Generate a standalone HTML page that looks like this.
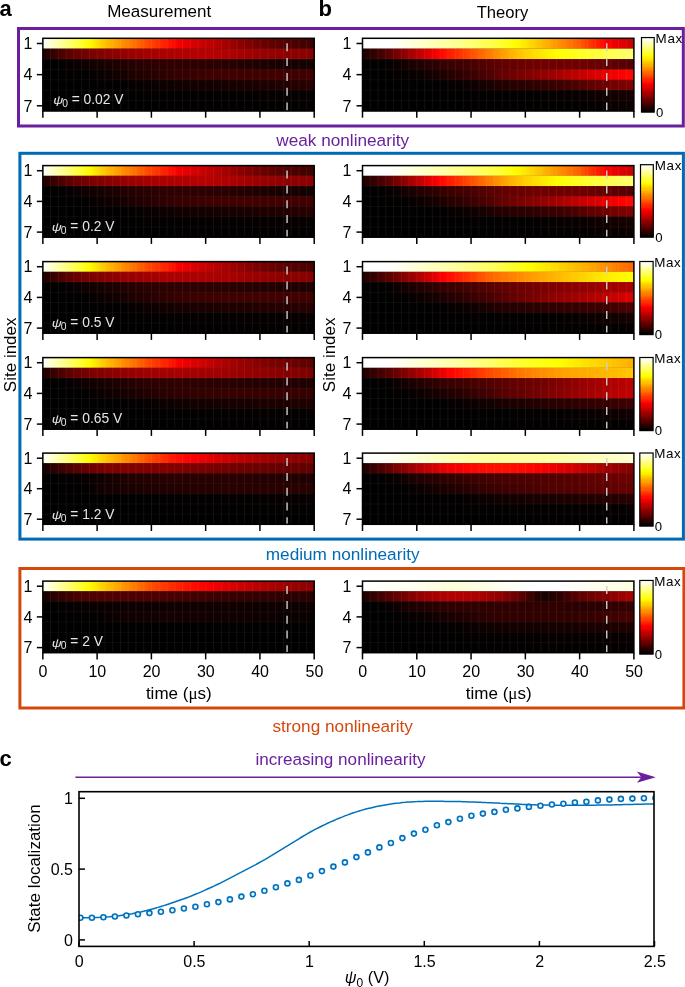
<!DOCTYPE html>
<html lang="en">
<head>
<meta charset="utf-8">
<title>Figure</title>
<style>
html,body{margin:0;padding:0;background:#fff;}
svg{display:block;will-change:transform;}
text{font-family:'Liberation Sans', Arial, Helvetica, sans-serif;}
</style>
</head>
<body>
<svg width="685" height="987" viewBox="0 0 685 987">
<defs>
<linearGradient id="cb" x1="0" x2="0" y1="0" y2="1"><stop offset="0.0000" stop-color="#ffffff"/><stop offset="0.0156" stop-color="#ffffff"/><stop offset="0.0156" stop-color="#ffffef"/><stop offset="0.0312" stop-color="#ffffef"/><stop offset="0.0312" stop-color="#ffffdf"/><stop offset="0.0469" stop-color="#ffffdf"/><stop offset="0.0469" stop-color="#ffffce"/><stop offset="0.0625" stop-color="#ffffce"/><stop offset="0.0625" stop-color="#ffffbe"/><stop offset="0.0781" stop-color="#ffffbe"/><stop offset="0.0781" stop-color="#ffffae"/><stop offset="0.0938" stop-color="#ffffae"/><stop offset="0.0938" stop-color="#ffff9e"/><stop offset="0.1094" stop-color="#ffff9e"/><stop offset="0.1094" stop-color="#ffff8e"/><stop offset="0.1250" stop-color="#ffff8e"/><stop offset="0.1250" stop-color="#ffff7d"/><stop offset="0.1406" stop-color="#ffff7d"/><stop offset="0.1406" stop-color="#ffff6d"/><stop offset="0.1562" stop-color="#ffff6d"/><stop offset="0.1562" stop-color="#ffff5d"/><stop offset="0.1719" stop-color="#ffff5d"/><stop offset="0.1719" stop-color="#ffff4d"/><stop offset="0.1875" stop-color="#ffff4d"/><stop offset="0.1875" stop-color="#ffff3d"/><stop offset="0.2031" stop-color="#ffff3d"/><stop offset="0.2031" stop-color="#ffff2d"/><stop offset="0.2188" stop-color="#ffff2d"/><stop offset="0.2188" stop-color="#ffff1c"/><stop offset="0.2344" stop-color="#ffff1c"/><stop offset="0.2344" stop-color="#ffff0c"/><stop offset="0.2500" stop-color="#ffff0c"/><stop offset="0.2500" stop-color="#fffc00"/><stop offset="0.2656" stop-color="#fffc00"/><stop offset="0.2656" stop-color="#fff200"/><stop offset="0.2812" stop-color="#fff200"/><stop offset="0.2812" stop-color="#ffe700"/><stop offset="0.2969" stop-color="#ffe700"/><stop offset="0.2969" stop-color="#ffdc00"/><stop offset="0.3125" stop-color="#ffdc00"/><stop offset="0.3125" stop-color="#ffd100"/><stop offset="0.3281" stop-color="#ffd100"/><stop offset="0.3281" stop-color="#ffc600"/><stop offset="0.3438" stop-color="#ffc600"/><stop offset="0.3438" stop-color="#ffbc00"/><stop offset="0.3594" stop-color="#ffbc00"/><stop offset="0.3594" stop-color="#ffb100"/><stop offset="0.3750" stop-color="#ffb100"/><stop offset="0.3750" stop-color="#ffa600"/><stop offset="0.3906" stop-color="#ffa600"/><stop offset="0.3906" stop-color="#ff9b00"/><stop offset="0.4062" stop-color="#ff9b00"/><stop offset="0.4062" stop-color="#ff9000"/><stop offset="0.4219" stop-color="#ff9000"/><stop offset="0.4219" stop-color="#ff8600"/><stop offset="0.4375" stop-color="#ff8600"/><stop offset="0.4375" stop-color="#ff7b00"/><stop offset="0.4531" stop-color="#ff7b00"/><stop offset="0.4531" stop-color="#ff7000"/><stop offset="0.4688" stop-color="#ff7000"/><stop offset="0.4688" stop-color="#ff6500"/><stop offset="0.4844" stop-color="#ff6500"/><stop offset="0.4844" stop-color="#ff5a00"/><stop offset="0.5000" stop-color="#ff5a00"/><stop offset="0.5000" stop-color="#ff5000"/><stop offset="0.5156" stop-color="#ff5000"/><stop offset="0.5156" stop-color="#ff4500"/><stop offset="0.5312" stop-color="#ff4500"/><stop offset="0.5312" stop-color="#ff3a00"/><stop offset="0.5469" stop-color="#ff3a00"/><stop offset="0.5469" stop-color="#ff2f00"/><stop offset="0.5625" stop-color="#ff2f00"/><stop offset="0.5625" stop-color="#ff2400"/><stop offset="0.5781" stop-color="#ff2400"/><stop offset="0.5781" stop-color="#ff1a00"/><stop offset="0.5938" stop-color="#ff1a00"/><stop offset="0.5938" stop-color="#ff0f00"/><stop offset="0.6094" stop-color="#ff0f00"/><stop offset="0.6094" stop-color="#ff0400"/><stop offset="0.6250" stop-color="#ff0400"/><stop offset="0.6250" stop-color="#f80000"/><stop offset="0.6406" stop-color="#f80000"/><stop offset="0.6406" stop-color="#ed0000"/><stop offset="0.6562" stop-color="#ed0000"/><stop offset="0.6562" stop-color="#e30000"/><stop offset="0.6719" stop-color="#e30000"/><stop offset="0.6719" stop-color="#d80000"/><stop offset="0.6875" stop-color="#d80000"/><stop offset="0.6875" stop-color="#cd0000"/><stop offset="0.7031" stop-color="#cd0000"/><stop offset="0.7031" stop-color="#c20000"/><stop offset="0.7188" stop-color="#c20000"/><stop offset="0.7188" stop-color="#b70000"/><stop offset="0.7344" stop-color="#b70000"/><stop offset="0.7344" stop-color="#ad0000"/><stop offset="0.7500" stop-color="#ad0000"/><stop offset="0.7500" stop-color="#a20000"/><stop offset="0.7656" stop-color="#a20000"/><stop offset="0.7656" stop-color="#970000"/><stop offset="0.7812" stop-color="#970000"/><stop offset="0.7812" stop-color="#8c0000"/><stop offset="0.7969" stop-color="#8c0000"/><stop offset="0.7969" stop-color="#820000"/><stop offset="0.8125" stop-color="#820000"/><stop offset="0.8125" stop-color="#770000"/><stop offset="0.8281" stop-color="#770000"/><stop offset="0.8281" stop-color="#6c0000"/><stop offset="0.8438" stop-color="#6c0000"/><stop offset="0.8438" stop-color="#610000"/><stop offset="0.8594" stop-color="#610000"/><stop offset="0.8594" stop-color="#560000"/><stop offset="0.8750" stop-color="#560000"/><stop offset="0.8750" stop-color="#4c0000"/><stop offset="0.8906" stop-color="#4c0000"/><stop offset="0.8906" stop-color="#410000"/><stop offset="0.9062" stop-color="#410000"/><stop offset="0.9062" stop-color="#360000"/><stop offset="0.9219" stop-color="#360000"/><stop offset="0.9219" stop-color="#2b0000"/><stop offset="0.9375" stop-color="#2b0000"/><stop offset="0.9375" stop-color="#200000"/><stop offset="0.9531" stop-color="#200000"/><stop offset="0.9531" stop-color="#160000"/><stop offset="0.9688" stop-color="#160000"/><stop offset="0.9688" stop-color="#0b0000"/><stop offset="0.9844" stop-color="#0b0000"/><stop offset="0.9844" stop-color="#000000"/><stop offset="1.0000" stop-color="#000000"/></linearGradient>
<linearGradient id="g1" x1="0" x2="1" y1="0" y2="0"><stop offset="0" stop-color="#ffffff"/><stop offset="0.025" stop-color="#ffffda"/><stop offset="0.05" stop-color="#ffffb6"/><stop offset="0.075" stop-color="#ffff91"/><stop offset="0.1" stop-color="#ffff6b"/><stop offset="0.125" stop-color="#ffff45"/><stop offset="0.15" stop-color="#ffff1f"/><stop offset="0.175" stop-color="#fffa00"/><stop offset="0.2" stop-color="#ffe000"/><stop offset="0.225" stop-color="#ffc700"/><stop offset="0.25" stop-color="#ffb200"/><stop offset="0.275" stop-color="#ff9f00"/><stop offset="0.3" stop-color="#ff8b00"/><stop offset="0.325" stop-color="#ff7900"/><stop offset="0.35" stop-color="#ff6600"/><stop offset="0.375" stop-color="#ff5300"/><stop offset="0.4" stop-color="#ff4100"/><stop offset="0.425" stop-color="#ff3000"/><stop offset="0.45" stop-color="#ff1f00"/><stop offset="0.475" stop-color="#ff0e00"/><stop offset="0.5" stop-color="#f50000"/><stop offset="0.525" stop-color="#e80000"/><stop offset="0.55" stop-color="#db0000"/><stop offset="0.575" stop-color="#cf0000"/><stop offset="0.6" stop-color="#c40000"/><stop offset="0.625" stop-color="#bb0000"/><stop offset="0.65" stop-color="#b10000"/><stop offset="0.675" stop-color="#a50000"/><stop offset="0.7" stop-color="#990000"/><stop offset="0.725" stop-color="#8d0000"/><stop offset="0.75" stop-color="#830000"/><stop offset="0.775" stop-color="#7a0000"/><stop offset="0.8" stop-color="#700000"/><stop offset="0.825" stop-color="#680000"/><stop offset="0.85" stop-color="#600000"/><stop offset="0.875" stop-color="#580000"/><stop offset="0.9" stop-color="#520000"/><stop offset="0.925" stop-color="#4d0000"/><stop offset="0.95" stop-color="#480000"/><stop offset="0.975" stop-color="#430000"/><stop offset="1" stop-color="#3d0000"/></linearGradient>
<linearGradient id="g2" x1="0" x2="1" y1="0" y2="0"><stop offset="0" stop-color="#1b0000"/><stop offset="0.025" stop-color="#2c0000"/><stop offset="0.05" stop-color="#3d0000"/><stop offset="0.075" stop-color="#4e0000"/><stop offset="0.1" stop-color="#5f0000"/><stop offset="0.125" stop-color="#680000"/><stop offset="0.15" stop-color="#700000"/><stop offset="0.175" stop-color="#790000"/><stop offset="0.2" stop-color="#810000"/><stop offset="0.225" stop-color="#860000"/><stop offset="0.25" stop-color="#8b0000"/><stop offset="0.275" stop-color="#900000"/><stop offset="0.3" stop-color="#960000"/><stop offset="0.325" stop-color="#9a0000"/><stop offset="0.35" stop-color="#9e0000"/><stop offset="0.375" stop-color="#a20000"/><stop offset="0.4" stop-color="#a70000"/><stop offset="0.425" stop-color="#a90000"/><stop offset="0.45" stop-color="#ab0000"/><stop offset="0.475" stop-color="#ad0000"/><stop offset="0.5" stop-color="#af0000"/><stop offset="0.525" stop-color="#b10000"/><stop offset="0.55" stop-color="#b30000"/><stop offset="0.575" stop-color="#b50000"/><stop offset="0.6" stop-color="#b80000"/><stop offset="0.625" stop-color="#b50000"/><stop offset="0.65" stop-color="#b30000"/><stop offset="0.675" stop-color="#b00000"/><stop offset="0.7" stop-color="#ad0000"/><stop offset="0.725" stop-color="#a80000"/><stop offset="0.75" stop-color="#a30000"/><stop offset="0.775" stop-color="#9e0000"/><stop offset="0.8" stop-color="#990000"/><stop offset="0.825" stop-color="#960000"/><stop offset="0.85" stop-color="#940000"/><stop offset="0.875" stop-color="#910000"/><stop offset="0.9" stop-color="#8f0000"/><stop offset="0.925" stop-color="#8d0000"/><stop offset="0.95" stop-color="#8b0000"/><stop offset="0.975" stop-color="#8a0000"/><stop offset="1" stop-color="#880000"/></linearGradient>
<linearGradient id="g3" x1="0" x2="1" y1="0" y2="0"><stop offset="0" stop-color="#000000"/><stop offset="0.025" stop-color="#020000"/><stop offset="0.05" stop-color="#030000"/><stop offset="0.075" stop-color="#050000"/><stop offset="0.1" stop-color="#070000"/><stop offset="0.125" stop-color="#0a0000"/><stop offset="0.15" stop-color="#0e0000"/><stop offset="0.175" stop-color="#110000"/><stop offset="0.2" stop-color="#140000"/><stop offset="0.225" stop-color="#180000"/><stop offset="0.25" stop-color="#1b0000"/><stop offset="0.275" stop-color="#1f0000"/><stop offset="0.3" stop-color="#220000"/><stop offset="0.325" stop-color="#250000"/><stop offset="0.35" stop-color="#270000"/><stop offset="0.375" stop-color="#2a0000"/><stop offset="0.4" stop-color="#2c0000"/><stop offset="0.425" stop-color="#2d0000"/><stop offset="0.45" stop-color="#2e0000"/><stop offset="0.475" stop-color="#2f0000"/><stop offset="0.5" stop-color="#300000"/><stop offset="0.525" stop-color="#2f0000"/><stop offset="0.55" stop-color="#2e0000"/><stop offset="0.575" stop-color="#2d0000"/><stop offset="0.6" stop-color="#2c0000"/><stop offset="0.625" stop-color="#2b0000"/><stop offset="0.65" stop-color="#2a0000"/><stop offset="0.675" stop-color="#2a0000"/><stop offset="0.7" stop-color="#290000"/><stop offset="0.725" stop-color="#260000"/><stop offset="0.75" stop-color="#240000"/><stop offset="0.775" stop-color="#210000"/><stop offset="0.8" stop-color="#1f0000"/><stop offset="0.825" stop-color="#1d0000"/><stop offset="0.85" stop-color="#1b0000"/><stop offset="0.875" stop-color="#190000"/><stop offset="0.9" stop-color="#180000"/><stop offset="0.925" stop-color="#170000"/><stop offset="0.95" stop-color="#160000"/><stop offset="0.975" stop-color="#150000"/><stop offset="1" stop-color="#140000"/></linearGradient>
<linearGradient id="g4" x1="0" x2="1" y1="0" y2="0"><stop offset="0" stop-color="#000000"/><stop offset="0.025" stop-color="#010000"/><stop offset="0.05" stop-color="#010000"/><stop offset="0.075" stop-color="#020000"/><stop offset="0.1" stop-color="#020000"/><stop offset="0.125" stop-color="#030000"/><stop offset="0.15" stop-color="#030000"/><stop offset="0.175" stop-color="#050000"/><stop offset="0.2" stop-color="#080000"/><stop offset="0.225" stop-color="#0c0000"/><stop offset="0.25" stop-color="#0f0000"/><stop offset="0.275" stop-color="#140000"/><stop offset="0.3" stop-color="#180000"/><stop offset="0.325" stop-color="#1c0000"/><stop offset="0.35" stop-color="#200000"/><stop offset="0.375" stop-color="#240000"/><stop offset="0.4" stop-color="#280000"/><stop offset="0.425" stop-color="#2b0000"/><stop offset="0.45" stop-color="#2f0000"/><stop offset="0.475" stop-color="#320000"/><stop offset="0.5" stop-color="#350000"/><stop offset="0.525" stop-color="#370000"/><stop offset="0.55" stop-color="#390000"/><stop offset="0.575" stop-color="#3b0000"/><stop offset="0.6" stop-color="#3d0000"/><stop offset="0.625" stop-color="#3e0000"/><stop offset="0.65" stop-color="#3f0000"/><stop offset="0.675" stop-color="#400000"/><stop offset="0.7" stop-color="#410000"/><stop offset="0.725" stop-color="#410000"/><stop offset="0.75" stop-color="#410000"/><stop offset="0.775" stop-color="#410000"/><stop offset="0.8" stop-color="#410000"/><stop offset="0.825" stop-color="#410000"/><stop offset="0.85" stop-color="#410000"/><stop offset="0.875" stop-color="#410000"/><stop offset="0.9" stop-color="#410000"/><stop offset="0.925" stop-color="#410000"/><stop offset="0.95" stop-color="#410000"/><stop offset="0.975" stop-color="#410000"/><stop offset="1" stop-color="#410000"/></linearGradient>
<linearGradient id="g5" x1="0" x2="1" y1="0" y2="0"><stop offset="0" stop-color="#000000"/><stop offset="0.025" stop-color="#000000"/><stop offset="0.05" stop-color="#010000"/><stop offset="0.075" stop-color="#010000"/><stop offset="0.1" stop-color="#010000"/><stop offset="0.125" stop-color="#010000"/><stop offset="0.15" stop-color="#020000"/><stop offset="0.175" stop-color="#020000"/><stop offset="0.2" stop-color="#020000"/><stop offset="0.225" stop-color="#030000"/><stop offset="0.25" stop-color="#030000"/><stop offset="0.275" stop-color="#030000"/><stop offset="0.3" stop-color="#030000"/><stop offset="0.325" stop-color="#050000"/><stop offset="0.35" stop-color="#070000"/><stop offset="0.375" stop-color="#080000"/><stop offset="0.4" stop-color="#0a0000"/><stop offset="0.425" stop-color="#0c0000"/><stop offset="0.45" stop-color="#0e0000"/><stop offset="0.475" stop-color="#0f0000"/><stop offset="0.5" stop-color="#110000"/><stop offset="0.525" stop-color="#120000"/><stop offset="0.55" stop-color="#130000"/><stop offset="0.575" stop-color="#140000"/><stop offset="0.6" stop-color="#140000"/><stop offset="0.625" stop-color="#150000"/><stop offset="0.65" stop-color="#160000"/><stop offset="0.675" stop-color="#170000"/><stop offset="0.7" stop-color="#180000"/><stop offset="0.725" stop-color="#190000"/><stop offset="0.75" stop-color="#1a0000"/><stop offset="0.775" stop-color="#1b0000"/><stop offset="0.8" stop-color="#1d0000"/><stop offset="0.825" stop-color="#1e0000"/><stop offset="0.85" stop-color="#1f0000"/><stop offset="0.875" stop-color="#210000"/><stop offset="0.9" stop-color="#220000"/><stop offset="0.925" stop-color="#240000"/><stop offset="0.95" stop-color="#260000"/><stop offset="0.975" stop-color="#270000"/><stop offset="1" stop-color="#290000"/></linearGradient>
<linearGradient id="g6" x1="0" x2="1" y1="0" y2="0"><stop offset="0" stop-color="#000000"/><stop offset="0.025" stop-color="#000000"/><stop offset="0.05" stop-color="#000000"/><stop offset="0.075" stop-color="#010000"/><stop offset="0.1" stop-color="#010000"/><stop offset="0.125" stop-color="#010000"/><stop offset="0.15" stop-color="#010000"/><stop offset="0.175" stop-color="#010000"/><stop offset="0.2" stop-color="#010000"/><stop offset="0.225" stop-color="#020000"/><stop offset="0.25" stop-color="#020000"/><stop offset="0.275" stop-color="#020000"/><stop offset="0.3" stop-color="#020000"/><stop offset="0.325" stop-color="#020000"/><stop offset="0.35" stop-color="#020000"/><stop offset="0.375" stop-color="#030000"/><stop offset="0.4" stop-color="#030000"/><stop offset="0.425" stop-color="#030000"/><stop offset="0.45" stop-color="#030000"/><stop offset="0.475" stop-color="#030000"/><stop offset="0.5" stop-color="#030000"/><stop offset="0.525" stop-color="#040000"/><stop offset="0.55" stop-color="#040000"/><stop offset="0.575" stop-color="#040000"/><stop offset="0.6" stop-color="#040000"/><stop offset="0.625" stop-color="#040000"/><stop offset="0.65" stop-color="#040000"/><stop offset="0.675" stop-color="#050000"/><stop offset="0.7" stop-color="#050000"/><stop offset="0.725" stop-color="#050000"/><stop offset="0.75" stop-color="#050000"/><stop offset="0.775" stop-color="#050000"/><stop offset="0.8" stop-color="#050000"/><stop offset="0.825" stop-color="#060000"/><stop offset="0.85" stop-color="#060000"/><stop offset="0.875" stop-color="#060000"/><stop offset="0.9" stop-color="#060000"/><stop offset="0.925" stop-color="#060000"/><stop offset="0.95" stop-color="#060000"/><stop offset="0.975" stop-color="#070000"/><stop offset="1" stop-color="#070000"/></linearGradient>
<linearGradient id="g7" x1="0" x2="1" y1="0" y2="0"><stop offset="0" stop-color="#000000"/><stop offset="0.025" stop-color="#000000"/><stop offset="0.05" stop-color="#000000"/><stop offset="0.075" stop-color="#000000"/><stop offset="0.1" stop-color="#000000"/><stop offset="0.125" stop-color="#000000"/><stop offset="0.15" stop-color="#010000"/><stop offset="0.175" stop-color="#010000"/><stop offset="0.2" stop-color="#010000"/><stop offset="0.225" stop-color="#010000"/><stop offset="0.25" stop-color="#010000"/><stop offset="0.275" stop-color="#010000"/><stop offset="0.3" stop-color="#010000"/><stop offset="0.325" stop-color="#010000"/><stop offset="0.35" stop-color="#010000"/><stop offset="0.375" stop-color="#010000"/><stop offset="0.4" stop-color="#010000"/><stop offset="0.425" stop-color="#010000"/><stop offset="0.45" stop-color="#020000"/><stop offset="0.475" stop-color="#020000"/><stop offset="0.5" stop-color="#020000"/><stop offset="0.525" stop-color="#020000"/><stop offset="0.55" stop-color="#020000"/><stop offset="0.575" stop-color="#020000"/><stop offset="0.6" stop-color="#020000"/><stop offset="0.625" stop-color="#020000"/><stop offset="0.65" stop-color="#020000"/><stop offset="0.675" stop-color="#020000"/><stop offset="0.7" stop-color="#020000"/><stop offset="0.725" stop-color="#020000"/><stop offset="0.75" stop-color="#030000"/><stop offset="0.775" stop-color="#030000"/><stop offset="0.8" stop-color="#030000"/><stop offset="0.825" stop-color="#030000"/><stop offset="0.85" stop-color="#030000"/><stop offset="0.875" stop-color="#030000"/><stop offset="0.9" stop-color="#030000"/><stop offset="0.925" stop-color="#030000"/><stop offset="0.95" stop-color="#030000"/><stop offset="0.975" stop-color="#030000"/><stop offset="1" stop-color="#030000"/></linearGradient>
<linearGradient id="g8" x1="0" x2="1" y1="0" y2="0"><stop offset="0" stop-color="#ffffff"/><stop offset="0.025" stop-color="#ffffff"/><stop offset="0.05" stop-color="#ffffff"/><stop offset="0.075" stop-color="#ffffff"/><stop offset="0.1" stop-color="#ffffff"/><stop offset="0.125" stop-color="#fffff4"/><stop offset="0.15" stop-color="#ffffea"/><stop offset="0.175" stop-color="#ffffdf"/><stop offset="0.2" stop-color="#ffffd4"/><stop offset="0.225" stop-color="#ffffc8"/><stop offset="0.25" stop-color="#ffffbd"/><stop offset="0.275" stop-color="#ffffb2"/><stop offset="0.3" stop-color="#ffffa7"/><stop offset="0.325" stop-color="#ffff9c"/><stop offset="0.35" stop-color="#ffff8f"/><stop offset="0.375" stop-color="#ffff82"/><stop offset="0.4" stop-color="#ffff75"/><stop offset="0.425" stop-color="#ffff66"/><stop offset="0.45" stop-color="#ffff57"/><stop offset="0.475" stop-color="#ffff47"/><stop offset="0.5" stop-color="#ffff38"/><stop offset="0.525" stop-color="#ffff22"/><stop offset="0.55" stop-color="#ffff0b"/><stop offset="0.575" stop-color="#fff800"/><stop offset="0.6" stop-color="#ffe600"/><stop offset="0.625" stop-color="#ffd500"/><stop offset="0.65" stop-color="#ffc400"/><stop offset="0.675" stop-color="#ffb200"/><stop offset="0.7" stop-color="#ffa000"/><stop offset="0.725" stop-color="#ff8f00"/><stop offset="0.75" stop-color="#ff7f00"/><stop offset="0.775" stop-color="#ff6f00"/><stop offset="0.8" stop-color="#ff5d00"/><stop offset="0.825" stop-color="#ff4400"/><stop offset="0.85" stop-color="#ff2c00"/><stop offset="0.875" stop-color="#ff1500"/><stop offset="0.9" stop-color="#ff0100"/><stop offset="0.925" stop-color="#f00000"/><stop offset="0.95" stop-color="#e30000"/><stop offset="0.975" stop-color="#d70000"/><stop offset="1" stop-color="#cc0000"/></linearGradient>
<linearGradient id="g9" x1="0" x2="1" y1="0" y2="0"><stop offset="0" stop-color="#1b0000"/><stop offset="0.025" stop-color="#290000"/><stop offset="0.05" stop-color="#380000"/><stop offset="0.075" stop-color="#4a0000"/><stop offset="0.1" stop-color="#5f0000"/><stop offset="0.125" stop-color="#740000"/><stop offset="0.15" stop-color="#8a0000"/><stop offset="0.175" stop-color="#a10000"/><stop offset="0.2" stop-color="#b80000"/><stop offset="0.225" stop-color="#ce0000"/><stop offset="0.25" stop-color="#e40000"/><stop offset="0.275" stop-color="#fb0000"/><stop offset="0.3" stop-color="#ff0d00"/><stop offset="0.325" stop-color="#ff1d00"/><stop offset="0.35" stop-color="#ff2d00"/><stop offset="0.375" stop-color="#ff3d00"/><stop offset="0.4" stop-color="#ff4e00"/><stop offset="0.425" stop-color="#ff5f00"/><stop offset="0.45" stop-color="#ff7000"/><stop offset="0.475" stop-color="#ff8100"/><stop offset="0.5" stop-color="#ff9200"/><stop offset="0.525" stop-color="#ffa300"/><stop offset="0.55" stop-color="#ffb300"/><stop offset="0.575" stop-color="#ffc100"/><stop offset="0.6" stop-color="#ffcf00"/><stop offset="0.625" stop-color="#ffd900"/><stop offset="0.65" stop-color="#ffe300"/><stop offset="0.675" stop-color="#ffed00"/><stop offset="0.7" stop-color="#fff700"/><stop offset="0.725" stop-color="#ffff02"/><stop offset="0.75" stop-color="#ffff0d"/><stop offset="0.775" stop-color="#ffff17"/><stop offset="0.8" stop-color="#ffff22"/><stop offset="0.825" stop-color="#ffff2d"/><stop offset="0.85" stop-color="#ffff37"/><stop offset="0.875" stop-color="#ffff40"/><stop offset="0.9" stop-color="#ffff4a"/><stop offset="0.925" stop-color="#ffff54"/><stop offset="0.95" stop-color="#ffff5d"/><stop offset="0.975" stop-color="#ffff67"/><stop offset="1" stop-color="#ffff70"/></linearGradient>
<linearGradient id="g10" x1="0" x2="1" y1="0" y2="0"><stop offset="0" stop-color="#000000"/><stop offset="0.025" stop-color="#020000"/><stop offset="0.05" stop-color="#030000"/><stop offset="0.075" stop-color="#050000"/><stop offset="0.1" stop-color="#070000"/><stop offset="0.125" stop-color="#0d0000"/><stop offset="0.15" stop-color="#130000"/><stop offset="0.175" stop-color="#190000"/><stop offset="0.2" stop-color="#1f0000"/><stop offset="0.225" stop-color="#250000"/><stop offset="0.25" stop-color="#2a0000"/><stop offset="0.275" stop-color="#300000"/><stop offset="0.3" stop-color="#360000"/><stop offset="0.325" stop-color="#3b0000"/><stop offset="0.35" stop-color="#3f0000"/><stop offset="0.375" stop-color="#430000"/><stop offset="0.4" stop-color="#470000"/><stop offset="0.425" stop-color="#4d0000"/><stop offset="0.45" stop-color="#530000"/><stop offset="0.475" stop-color="#590000"/><stop offset="0.5" stop-color="#5f0000"/><stop offset="0.525" stop-color="#620000"/><stop offset="0.55" stop-color="#650000"/><stop offset="0.575" stop-color="#680000"/><stop offset="0.6" stop-color="#6b0000"/><stop offset="0.625" stop-color="#6e0000"/><stop offset="0.65" stop-color="#700000"/><stop offset="0.675" stop-color="#700000"/><stop offset="0.7" stop-color="#700000"/><stop offset="0.725" stop-color="#700000"/><stop offset="0.75" stop-color="#700000"/><stop offset="0.775" stop-color="#700000"/><stop offset="0.8" stop-color="#700000"/><stop offset="0.825" stop-color="#6d0000"/><stop offset="0.85" stop-color="#690000"/><stop offset="0.875" stop-color="#660000"/><stop offset="0.9" stop-color="#630000"/><stop offset="0.925" stop-color="#5e0000"/><stop offset="0.95" stop-color="#5a0000"/><stop offset="0.975" stop-color="#560000"/><stop offset="1" stop-color="#520000"/></linearGradient>
<linearGradient id="g11" x1="0" x2="1" y1="0" y2="0"><stop offset="0" stop-color="#000000"/><stop offset="0.025" stop-color="#010000"/><stop offset="0.05" stop-color="#010000"/><stop offset="0.075" stop-color="#020000"/><stop offset="0.1" stop-color="#020000"/><stop offset="0.125" stop-color="#030000"/><stop offset="0.15" stop-color="#030000"/><stop offset="0.175" stop-color="#060000"/><stop offset="0.2" stop-color="#0a0000"/><stop offset="0.225" stop-color="#0e0000"/><stop offset="0.25" stop-color="#140000"/><stop offset="0.275" stop-color="#1a0000"/><stop offset="0.3" stop-color="#200000"/><stop offset="0.325" stop-color="#270000"/><stop offset="0.35" stop-color="#2d0000"/><stop offset="0.375" stop-color="#340000"/><stop offset="0.4" stop-color="#3b0000"/><stop offset="0.425" stop-color="#420000"/><stop offset="0.45" stop-color="#490000"/><stop offset="0.475" stop-color="#500000"/><stop offset="0.5" stop-color="#5f0000"/><stop offset="0.525" stop-color="#670000"/><stop offset="0.55" stop-color="#6e0000"/><stop offset="0.575" stop-color="#760000"/><stop offset="0.6" stop-color="#7e0000"/><stop offset="0.625" stop-color="#850000"/><stop offset="0.65" stop-color="#8d0000"/><stop offset="0.675" stop-color="#950000"/><stop offset="0.7" stop-color="#9c0000"/><stop offset="0.725" stop-color="#a60000"/><stop offset="0.75" stop-color="#b00000"/><stop offset="0.775" stop-color="#ba0000"/><stop offset="0.8" stop-color="#c30000"/><stop offset="0.825" stop-color="#cd0000"/><stop offset="0.85" stop-color="#d60000"/><stop offset="0.875" stop-color="#e00000"/><stop offset="0.9" stop-color="#e90000"/><stop offset="0.925" stop-color="#f20000"/><stop offset="0.95" stop-color="#fb0000"/><stop offset="0.975" stop-color="#ff0400"/><stop offset="1" stop-color="#ff0a00"/></linearGradient>
<linearGradient id="g12" x1="0" x2="1" y1="0" y2="0"><stop offset="0" stop-color="#000000"/><stop offset="0.025" stop-color="#000000"/><stop offset="0.05" stop-color="#010000"/><stop offset="0.075" stop-color="#010000"/><stop offset="0.1" stop-color="#010000"/><stop offset="0.125" stop-color="#010000"/><stop offset="0.15" stop-color="#020000"/><stop offset="0.175" stop-color="#020000"/><stop offset="0.2" stop-color="#020000"/><stop offset="0.225" stop-color="#030000"/><stop offset="0.25" stop-color="#030000"/><stop offset="0.275" stop-color="#030000"/><stop offset="0.3" stop-color="#030000"/><stop offset="0.325" stop-color="#060000"/><stop offset="0.35" stop-color="#080000"/><stop offset="0.375" stop-color="#0b0000"/><stop offset="0.4" stop-color="#0e0000"/><stop offset="0.425" stop-color="#130000"/><stop offset="0.45" stop-color="#180000"/><stop offset="0.475" stop-color="#1d0000"/><stop offset="0.5" stop-color="#220000"/><stop offset="0.525" stop-color="#240000"/><stop offset="0.55" stop-color="#270000"/><stop offset="0.575" stop-color="#290000"/><stop offset="0.6" stop-color="#2c0000"/><stop offset="0.625" stop-color="#2e0000"/><stop offset="0.65" stop-color="#310000"/><stop offset="0.675" stop-color="#340000"/><stop offset="0.7" stop-color="#380000"/><stop offset="0.725" stop-color="#3b0000"/><stop offset="0.75" stop-color="#400000"/><stop offset="0.775" stop-color="#480000"/><stop offset="0.8" stop-color="#500000"/><stop offset="0.825" stop-color="#580000"/><stop offset="0.85" stop-color="#600000"/><stop offset="0.875" stop-color="#680000"/><stop offset="0.9" stop-color="#700000"/><stop offset="0.925" stop-color="#740000"/><stop offset="0.95" stop-color="#790000"/><stop offset="0.975" stop-color="#7d0000"/><stop offset="1" stop-color="#810000"/></linearGradient>
<linearGradient id="g13" x1="0" x2="1" y1="0" y2="0"><stop offset="0" stop-color="#000000"/><stop offset="0.025" stop-color="#000000"/><stop offset="0.05" stop-color="#000000"/><stop offset="0.075" stop-color="#000000"/><stop offset="0.1" stop-color="#010000"/><stop offset="0.125" stop-color="#010000"/><stop offset="0.15" stop-color="#010000"/><stop offset="0.175" stop-color="#010000"/><stop offset="0.2" stop-color="#010000"/><stop offset="0.225" stop-color="#010000"/><stop offset="0.25" stop-color="#010000"/><stop offset="0.275" stop-color="#020000"/><stop offset="0.3" stop-color="#020000"/><stop offset="0.325" stop-color="#020000"/><stop offset="0.35" stop-color="#020000"/><stop offset="0.375" stop-color="#020000"/><stop offset="0.4" stop-color="#020000"/><stop offset="0.425" stop-color="#020000"/><stop offset="0.45" stop-color="#030000"/><stop offset="0.475" stop-color="#030000"/><stop offset="0.5" stop-color="#030000"/><stop offset="0.525" stop-color="#030000"/><stop offset="0.55" stop-color="#030000"/><stop offset="0.575" stop-color="#030000"/><stop offset="0.6" stop-color="#030000"/><stop offset="0.625" stop-color="#040000"/><stop offset="0.65" stop-color="#050000"/><stop offset="0.675" stop-color="#060000"/><stop offset="0.7" stop-color="#070000"/><stop offset="0.725" stop-color="#080000"/><stop offset="0.75" stop-color="#080000"/><stop offset="0.775" stop-color="#090000"/><stop offset="0.8" stop-color="#0a0000"/><stop offset="0.825" stop-color="#0c0000"/><stop offset="0.85" stop-color="#0e0000"/><stop offset="0.875" stop-color="#0f0000"/><stop offset="0.9" stop-color="#110000"/><stop offset="0.925" stop-color="#130000"/><stop offset="0.95" stop-color="#140000"/><stop offset="0.975" stop-color="#160000"/><stop offset="1" stop-color="#180000"/></linearGradient>
<linearGradient id="g14" x1="0" x2="1" y1="0" y2="0"><stop offset="0" stop-color="#000000"/><stop offset="0.025" stop-color="#000000"/><stop offset="0.05" stop-color="#000000"/><stop offset="0.075" stop-color="#000000"/><stop offset="0.1" stop-color="#000000"/><stop offset="0.125" stop-color="#010000"/><stop offset="0.15" stop-color="#010000"/><stop offset="0.175" stop-color="#010000"/><stop offset="0.2" stop-color="#010000"/><stop offset="0.225" stop-color="#010000"/><stop offset="0.25" stop-color="#010000"/><stop offset="0.275" stop-color="#010000"/><stop offset="0.3" stop-color="#010000"/><stop offset="0.325" stop-color="#010000"/><stop offset="0.35" stop-color="#010000"/><stop offset="0.375" stop-color="#020000"/><stop offset="0.4" stop-color="#020000"/><stop offset="0.425" stop-color="#020000"/><stop offset="0.45" stop-color="#020000"/><stop offset="0.475" stop-color="#020000"/><stop offset="0.5" stop-color="#020000"/><stop offset="0.525" stop-color="#020000"/><stop offset="0.55" stop-color="#020000"/><stop offset="0.575" stop-color="#020000"/><stop offset="0.6" stop-color="#030000"/><stop offset="0.625" stop-color="#030000"/><stop offset="0.65" stop-color="#030000"/><stop offset="0.675" stop-color="#030000"/><stop offset="0.7" stop-color="#030000"/><stop offset="0.725" stop-color="#030000"/><stop offset="0.75" stop-color="#030000"/><stop offset="0.775" stop-color="#030000"/><stop offset="0.8" stop-color="#030000"/><stop offset="0.825" stop-color="#050000"/><stop offset="0.85" stop-color="#060000"/><stop offset="0.875" stop-color="#070000"/><stop offset="0.9" stop-color="#080000"/><stop offset="0.925" stop-color="#0a0000"/><stop offset="0.95" stop-color="#0b0000"/><stop offset="0.975" stop-color="#0c0000"/><stop offset="1" stop-color="#0e0000"/></linearGradient>
<linearGradient id="g15" x1="0" x2="1" y1="0" y2="0"><stop offset="0" stop-color="#ffffff"/><stop offset="0.025" stop-color="#ffffda"/><stop offset="0.05" stop-color="#ffffb6"/><stop offset="0.075" stop-color="#ffff91"/><stop offset="0.1" stop-color="#ffff6b"/><stop offset="0.125" stop-color="#ffff45"/><stop offset="0.15" stop-color="#ffff1f"/><stop offset="0.175" stop-color="#fffa00"/><stop offset="0.2" stop-color="#ffe000"/><stop offset="0.225" stop-color="#ffc700"/><stop offset="0.25" stop-color="#ffb200"/><stop offset="0.275" stop-color="#ff9f00"/><stop offset="0.3" stop-color="#ff8b00"/><stop offset="0.325" stop-color="#ff7900"/><stop offset="0.35" stop-color="#ff6600"/><stop offset="0.375" stop-color="#ff5300"/><stop offset="0.4" stop-color="#ff4100"/><stop offset="0.425" stop-color="#ff3000"/><stop offset="0.45" stop-color="#ff1f00"/><stop offset="0.475" stop-color="#ff0e00"/><stop offset="0.5" stop-color="#f50000"/><stop offset="0.525" stop-color="#e80000"/><stop offset="0.55" stop-color="#db0000"/><stop offset="0.575" stop-color="#cf0000"/><stop offset="0.6" stop-color="#c40000"/><stop offset="0.625" stop-color="#bb0000"/><stop offset="0.65" stop-color="#b10000"/><stop offset="0.675" stop-color="#a50000"/><stop offset="0.7" stop-color="#990000"/><stop offset="0.725" stop-color="#8d0000"/><stop offset="0.75" stop-color="#830000"/><stop offset="0.775" stop-color="#7a0000"/><stop offset="0.8" stop-color="#700000"/><stop offset="0.825" stop-color="#680000"/><stop offset="0.85" stop-color="#600000"/><stop offset="0.875" stop-color="#580000"/><stop offset="0.9" stop-color="#520000"/><stop offset="0.925" stop-color="#4d0000"/><stop offset="0.95" stop-color="#480000"/><stop offset="0.975" stop-color="#430000"/><stop offset="1" stop-color="#3d0000"/></linearGradient>
<linearGradient id="g16" x1="0" x2="1" y1="0" y2="0"><stop offset="0" stop-color="#1b0000"/><stop offset="0.025" stop-color="#2c0000"/><stop offset="0.05" stop-color="#3d0000"/><stop offset="0.075" stop-color="#4e0000"/><stop offset="0.1" stop-color="#5f0000"/><stop offset="0.125" stop-color="#680000"/><stop offset="0.15" stop-color="#700000"/><stop offset="0.175" stop-color="#790000"/><stop offset="0.2" stop-color="#810000"/><stop offset="0.225" stop-color="#860000"/><stop offset="0.25" stop-color="#8b0000"/><stop offset="0.275" stop-color="#900000"/><stop offset="0.3" stop-color="#960000"/><stop offset="0.325" stop-color="#9a0000"/><stop offset="0.35" stop-color="#9e0000"/><stop offset="0.375" stop-color="#a20000"/><stop offset="0.4" stop-color="#a70000"/><stop offset="0.425" stop-color="#a90000"/><stop offset="0.45" stop-color="#ab0000"/><stop offset="0.475" stop-color="#ad0000"/><stop offset="0.5" stop-color="#af0000"/><stop offset="0.525" stop-color="#b10000"/><stop offset="0.55" stop-color="#b30000"/><stop offset="0.575" stop-color="#b50000"/><stop offset="0.6" stop-color="#b80000"/><stop offset="0.625" stop-color="#b50000"/><stop offset="0.65" stop-color="#b30000"/><stop offset="0.675" stop-color="#b00000"/><stop offset="0.7" stop-color="#ad0000"/><stop offset="0.725" stop-color="#a80000"/><stop offset="0.75" stop-color="#a30000"/><stop offset="0.775" stop-color="#9e0000"/><stop offset="0.8" stop-color="#990000"/><stop offset="0.825" stop-color="#960000"/><stop offset="0.85" stop-color="#940000"/><stop offset="0.875" stop-color="#910000"/><stop offset="0.9" stop-color="#8f0000"/><stop offset="0.925" stop-color="#8d0000"/><stop offset="0.95" stop-color="#8b0000"/><stop offset="0.975" stop-color="#8a0000"/><stop offset="1" stop-color="#880000"/></linearGradient>
<linearGradient id="g17" x1="0" x2="1" y1="0" y2="0"><stop offset="0" stop-color="#000000"/><stop offset="0.025" stop-color="#020000"/><stop offset="0.05" stop-color="#030000"/><stop offset="0.075" stop-color="#050000"/><stop offset="0.1" stop-color="#070000"/><stop offset="0.125" stop-color="#0a0000"/><stop offset="0.15" stop-color="#0e0000"/><stop offset="0.175" stop-color="#110000"/><stop offset="0.2" stop-color="#140000"/><stop offset="0.225" stop-color="#180000"/><stop offset="0.25" stop-color="#1b0000"/><stop offset="0.275" stop-color="#1f0000"/><stop offset="0.3" stop-color="#220000"/><stop offset="0.325" stop-color="#250000"/><stop offset="0.35" stop-color="#270000"/><stop offset="0.375" stop-color="#2a0000"/><stop offset="0.4" stop-color="#2c0000"/><stop offset="0.425" stop-color="#2d0000"/><stop offset="0.45" stop-color="#2e0000"/><stop offset="0.475" stop-color="#2f0000"/><stop offset="0.5" stop-color="#300000"/><stop offset="0.525" stop-color="#2f0000"/><stop offset="0.55" stop-color="#2e0000"/><stop offset="0.575" stop-color="#2d0000"/><stop offset="0.6" stop-color="#2c0000"/><stop offset="0.625" stop-color="#2b0000"/><stop offset="0.65" stop-color="#2a0000"/><stop offset="0.675" stop-color="#2a0000"/><stop offset="0.7" stop-color="#290000"/><stop offset="0.725" stop-color="#260000"/><stop offset="0.75" stop-color="#240000"/><stop offset="0.775" stop-color="#210000"/><stop offset="0.8" stop-color="#1f0000"/><stop offset="0.825" stop-color="#1d0000"/><stop offset="0.85" stop-color="#1b0000"/><stop offset="0.875" stop-color="#190000"/><stop offset="0.9" stop-color="#180000"/><stop offset="0.925" stop-color="#170000"/><stop offset="0.95" stop-color="#160000"/><stop offset="0.975" stop-color="#150000"/><stop offset="1" stop-color="#140000"/></linearGradient>
<linearGradient id="g18" x1="0" x2="1" y1="0" y2="0"><stop offset="0" stop-color="#000000"/><stop offset="0.025" stop-color="#010000"/><stop offset="0.05" stop-color="#010000"/><stop offset="0.075" stop-color="#020000"/><stop offset="0.1" stop-color="#020000"/><stop offset="0.125" stop-color="#030000"/><stop offset="0.15" stop-color="#030000"/><stop offset="0.175" stop-color="#050000"/><stop offset="0.2" stop-color="#080000"/><stop offset="0.225" stop-color="#0c0000"/><stop offset="0.25" stop-color="#0f0000"/><stop offset="0.275" stop-color="#140000"/><stop offset="0.3" stop-color="#180000"/><stop offset="0.325" stop-color="#1c0000"/><stop offset="0.35" stop-color="#200000"/><stop offset="0.375" stop-color="#240000"/><stop offset="0.4" stop-color="#280000"/><stop offset="0.425" stop-color="#2b0000"/><stop offset="0.45" stop-color="#2f0000"/><stop offset="0.475" stop-color="#320000"/><stop offset="0.5" stop-color="#350000"/><stop offset="0.525" stop-color="#370000"/><stop offset="0.55" stop-color="#390000"/><stop offset="0.575" stop-color="#3b0000"/><stop offset="0.6" stop-color="#3d0000"/><stop offset="0.625" stop-color="#3e0000"/><stop offset="0.65" stop-color="#3f0000"/><stop offset="0.675" stop-color="#400000"/><stop offset="0.7" stop-color="#410000"/><stop offset="0.725" stop-color="#410000"/><stop offset="0.75" stop-color="#410000"/><stop offset="0.775" stop-color="#410000"/><stop offset="0.8" stop-color="#410000"/><stop offset="0.825" stop-color="#410000"/><stop offset="0.85" stop-color="#410000"/><stop offset="0.875" stop-color="#410000"/><stop offset="0.9" stop-color="#410000"/><stop offset="0.925" stop-color="#410000"/><stop offset="0.95" stop-color="#410000"/><stop offset="0.975" stop-color="#410000"/><stop offset="1" stop-color="#410000"/></linearGradient>
<linearGradient id="g19" x1="0" x2="1" y1="0" y2="0"><stop offset="0" stop-color="#000000"/><stop offset="0.025" stop-color="#000000"/><stop offset="0.05" stop-color="#010000"/><stop offset="0.075" stop-color="#010000"/><stop offset="0.1" stop-color="#010000"/><stop offset="0.125" stop-color="#010000"/><stop offset="0.15" stop-color="#020000"/><stop offset="0.175" stop-color="#020000"/><stop offset="0.2" stop-color="#020000"/><stop offset="0.225" stop-color="#030000"/><stop offset="0.25" stop-color="#030000"/><stop offset="0.275" stop-color="#030000"/><stop offset="0.3" stop-color="#030000"/><stop offset="0.325" stop-color="#050000"/><stop offset="0.35" stop-color="#070000"/><stop offset="0.375" stop-color="#080000"/><stop offset="0.4" stop-color="#0a0000"/><stop offset="0.425" stop-color="#0c0000"/><stop offset="0.45" stop-color="#0e0000"/><stop offset="0.475" stop-color="#0f0000"/><stop offset="0.5" stop-color="#110000"/><stop offset="0.525" stop-color="#120000"/><stop offset="0.55" stop-color="#130000"/><stop offset="0.575" stop-color="#140000"/><stop offset="0.6" stop-color="#140000"/><stop offset="0.625" stop-color="#150000"/><stop offset="0.65" stop-color="#160000"/><stop offset="0.675" stop-color="#170000"/><stop offset="0.7" stop-color="#180000"/><stop offset="0.725" stop-color="#190000"/><stop offset="0.75" stop-color="#1a0000"/><stop offset="0.775" stop-color="#1b0000"/><stop offset="0.8" stop-color="#1d0000"/><stop offset="0.825" stop-color="#1e0000"/><stop offset="0.85" stop-color="#1f0000"/><stop offset="0.875" stop-color="#210000"/><stop offset="0.9" stop-color="#220000"/><stop offset="0.925" stop-color="#240000"/><stop offset="0.95" stop-color="#260000"/><stop offset="0.975" stop-color="#270000"/><stop offset="1" stop-color="#290000"/></linearGradient>
<linearGradient id="g20" x1="0" x2="1" y1="0" y2="0"><stop offset="0" stop-color="#000000"/><stop offset="0.025" stop-color="#000000"/><stop offset="0.05" stop-color="#000000"/><stop offset="0.075" stop-color="#010000"/><stop offset="0.1" stop-color="#010000"/><stop offset="0.125" stop-color="#010000"/><stop offset="0.15" stop-color="#010000"/><stop offset="0.175" stop-color="#010000"/><stop offset="0.2" stop-color="#010000"/><stop offset="0.225" stop-color="#020000"/><stop offset="0.25" stop-color="#020000"/><stop offset="0.275" stop-color="#020000"/><stop offset="0.3" stop-color="#020000"/><stop offset="0.325" stop-color="#020000"/><stop offset="0.35" stop-color="#020000"/><stop offset="0.375" stop-color="#030000"/><stop offset="0.4" stop-color="#030000"/><stop offset="0.425" stop-color="#030000"/><stop offset="0.45" stop-color="#030000"/><stop offset="0.475" stop-color="#030000"/><stop offset="0.5" stop-color="#030000"/><stop offset="0.525" stop-color="#040000"/><stop offset="0.55" stop-color="#040000"/><stop offset="0.575" stop-color="#040000"/><stop offset="0.6" stop-color="#040000"/><stop offset="0.625" stop-color="#040000"/><stop offset="0.65" stop-color="#040000"/><stop offset="0.675" stop-color="#050000"/><stop offset="0.7" stop-color="#050000"/><stop offset="0.725" stop-color="#050000"/><stop offset="0.75" stop-color="#050000"/><stop offset="0.775" stop-color="#050000"/><stop offset="0.8" stop-color="#050000"/><stop offset="0.825" stop-color="#060000"/><stop offset="0.85" stop-color="#060000"/><stop offset="0.875" stop-color="#060000"/><stop offset="0.9" stop-color="#060000"/><stop offset="0.925" stop-color="#060000"/><stop offset="0.95" stop-color="#060000"/><stop offset="0.975" stop-color="#070000"/><stop offset="1" stop-color="#070000"/></linearGradient>
<linearGradient id="g21" x1="0" x2="1" y1="0" y2="0"><stop offset="0" stop-color="#000000"/><stop offset="0.025" stop-color="#000000"/><stop offset="0.05" stop-color="#000000"/><stop offset="0.075" stop-color="#000000"/><stop offset="0.1" stop-color="#000000"/><stop offset="0.125" stop-color="#000000"/><stop offset="0.15" stop-color="#010000"/><stop offset="0.175" stop-color="#010000"/><stop offset="0.2" stop-color="#010000"/><stop offset="0.225" stop-color="#010000"/><stop offset="0.25" stop-color="#010000"/><stop offset="0.275" stop-color="#010000"/><stop offset="0.3" stop-color="#010000"/><stop offset="0.325" stop-color="#010000"/><stop offset="0.35" stop-color="#010000"/><stop offset="0.375" stop-color="#010000"/><stop offset="0.4" stop-color="#010000"/><stop offset="0.425" stop-color="#010000"/><stop offset="0.45" stop-color="#020000"/><stop offset="0.475" stop-color="#020000"/><stop offset="0.5" stop-color="#020000"/><stop offset="0.525" stop-color="#020000"/><stop offset="0.55" stop-color="#020000"/><stop offset="0.575" stop-color="#020000"/><stop offset="0.6" stop-color="#020000"/><stop offset="0.625" stop-color="#020000"/><stop offset="0.65" stop-color="#020000"/><stop offset="0.675" stop-color="#020000"/><stop offset="0.7" stop-color="#020000"/><stop offset="0.725" stop-color="#020000"/><stop offset="0.75" stop-color="#030000"/><stop offset="0.775" stop-color="#030000"/><stop offset="0.8" stop-color="#030000"/><stop offset="0.825" stop-color="#030000"/><stop offset="0.85" stop-color="#030000"/><stop offset="0.875" stop-color="#030000"/><stop offset="0.9" stop-color="#030000"/><stop offset="0.925" stop-color="#030000"/><stop offset="0.95" stop-color="#030000"/><stop offset="0.975" stop-color="#030000"/><stop offset="1" stop-color="#030000"/></linearGradient>
<linearGradient id="g22" x1="0" x2="1" y1="0" y2="0"><stop offset="0" stop-color="#ffffff"/><stop offset="0.025" stop-color="#ffffff"/><stop offset="0.05" stop-color="#ffffff"/><stop offset="0.075" stop-color="#ffffff"/><stop offset="0.1" stop-color="#ffffff"/><stop offset="0.125" stop-color="#fffff4"/><stop offset="0.15" stop-color="#ffffea"/><stop offset="0.175" stop-color="#ffffdf"/><stop offset="0.2" stop-color="#ffffd4"/><stop offset="0.225" stop-color="#ffffc8"/><stop offset="0.25" stop-color="#ffffbd"/><stop offset="0.275" stop-color="#ffffb2"/><stop offset="0.3" stop-color="#ffffa7"/><stop offset="0.325" stop-color="#ffff9c"/><stop offset="0.35" stop-color="#ffff8f"/><stop offset="0.375" stop-color="#ffff82"/><stop offset="0.4" stop-color="#ffff75"/><stop offset="0.425" stop-color="#ffff66"/><stop offset="0.45" stop-color="#ffff57"/><stop offset="0.475" stop-color="#ffff47"/><stop offset="0.5" stop-color="#ffff38"/><stop offset="0.525" stop-color="#ffff22"/><stop offset="0.55" stop-color="#ffff0b"/><stop offset="0.575" stop-color="#fff800"/><stop offset="0.6" stop-color="#ffe600"/><stop offset="0.625" stop-color="#ffd500"/><stop offset="0.65" stop-color="#ffc400"/><stop offset="0.675" stop-color="#ffb200"/><stop offset="0.7" stop-color="#ffa000"/><stop offset="0.725" stop-color="#ff8f00"/><stop offset="0.75" stop-color="#ff7f00"/><stop offset="0.775" stop-color="#ff6f00"/><stop offset="0.8" stop-color="#ff5d00"/><stop offset="0.825" stop-color="#ff4400"/><stop offset="0.85" stop-color="#ff2c00"/><stop offset="0.875" stop-color="#ff1500"/><stop offset="0.9" stop-color="#ff0100"/><stop offset="0.925" stop-color="#f00000"/><stop offset="0.95" stop-color="#e30000"/><stop offset="0.975" stop-color="#d70000"/><stop offset="1" stop-color="#cc0000"/></linearGradient>
<linearGradient id="g23" x1="0" x2="1" y1="0" y2="0"><stop offset="0" stop-color="#1b0000"/><stop offset="0.025" stop-color="#290000"/><stop offset="0.05" stop-color="#380000"/><stop offset="0.075" stop-color="#4a0000"/><stop offset="0.1" stop-color="#5f0000"/><stop offset="0.125" stop-color="#740000"/><stop offset="0.15" stop-color="#8a0000"/><stop offset="0.175" stop-color="#a10000"/><stop offset="0.2" stop-color="#b80000"/><stop offset="0.225" stop-color="#ce0000"/><stop offset="0.25" stop-color="#e40000"/><stop offset="0.275" stop-color="#fb0000"/><stop offset="0.3" stop-color="#ff0d00"/><stop offset="0.325" stop-color="#ff1d00"/><stop offset="0.35" stop-color="#ff2d00"/><stop offset="0.375" stop-color="#ff3d00"/><stop offset="0.4" stop-color="#ff4e00"/><stop offset="0.425" stop-color="#ff5f00"/><stop offset="0.45" stop-color="#ff7000"/><stop offset="0.475" stop-color="#ff8100"/><stop offset="0.5" stop-color="#ff9200"/><stop offset="0.525" stop-color="#ffa300"/><stop offset="0.55" stop-color="#ffb300"/><stop offset="0.575" stop-color="#ffc100"/><stop offset="0.6" stop-color="#ffcf00"/><stop offset="0.625" stop-color="#ffd900"/><stop offset="0.65" stop-color="#ffe300"/><stop offset="0.675" stop-color="#ffed00"/><stop offset="0.7" stop-color="#fff700"/><stop offset="0.725" stop-color="#ffff02"/><stop offset="0.75" stop-color="#ffff0d"/><stop offset="0.775" stop-color="#ffff17"/><stop offset="0.8" stop-color="#ffff22"/><stop offset="0.825" stop-color="#ffff2d"/><stop offset="0.85" stop-color="#ffff37"/><stop offset="0.875" stop-color="#ffff40"/><stop offset="0.9" stop-color="#ffff4a"/><stop offset="0.925" stop-color="#ffff54"/><stop offset="0.95" stop-color="#ffff5d"/><stop offset="0.975" stop-color="#ffff67"/><stop offset="1" stop-color="#ffff70"/></linearGradient>
<linearGradient id="g24" x1="0" x2="1" y1="0" y2="0"><stop offset="0" stop-color="#000000"/><stop offset="0.025" stop-color="#020000"/><stop offset="0.05" stop-color="#030000"/><stop offset="0.075" stop-color="#050000"/><stop offset="0.1" stop-color="#070000"/><stop offset="0.125" stop-color="#0d0000"/><stop offset="0.15" stop-color="#130000"/><stop offset="0.175" stop-color="#190000"/><stop offset="0.2" stop-color="#1f0000"/><stop offset="0.225" stop-color="#250000"/><stop offset="0.25" stop-color="#2a0000"/><stop offset="0.275" stop-color="#300000"/><stop offset="0.3" stop-color="#360000"/><stop offset="0.325" stop-color="#3b0000"/><stop offset="0.35" stop-color="#3f0000"/><stop offset="0.375" stop-color="#430000"/><stop offset="0.4" stop-color="#470000"/><stop offset="0.425" stop-color="#4d0000"/><stop offset="0.45" stop-color="#530000"/><stop offset="0.475" stop-color="#590000"/><stop offset="0.5" stop-color="#5f0000"/><stop offset="0.525" stop-color="#620000"/><stop offset="0.55" stop-color="#650000"/><stop offset="0.575" stop-color="#680000"/><stop offset="0.6" stop-color="#6b0000"/><stop offset="0.625" stop-color="#6e0000"/><stop offset="0.65" stop-color="#700000"/><stop offset="0.675" stop-color="#700000"/><stop offset="0.7" stop-color="#700000"/><stop offset="0.725" stop-color="#700000"/><stop offset="0.75" stop-color="#700000"/><stop offset="0.775" stop-color="#700000"/><stop offset="0.8" stop-color="#700000"/><stop offset="0.825" stop-color="#6d0000"/><stop offset="0.85" stop-color="#690000"/><stop offset="0.875" stop-color="#660000"/><stop offset="0.9" stop-color="#630000"/><stop offset="0.925" stop-color="#5e0000"/><stop offset="0.95" stop-color="#5a0000"/><stop offset="0.975" stop-color="#560000"/><stop offset="1" stop-color="#520000"/></linearGradient>
<linearGradient id="g25" x1="0" x2="1" y1="0" y2="0"><stop offset="0" stop-color="#000000"/><stop offset="0.025" stop-color="#010000"/><stop offset="0.05" stop-color="#010000"/><stop offset="0.075" stop-color="#020000"/><stop offset="0.1" stop-color="#020000"/><stop offset="0.125" stop-color="#030000"/><stop offset="0.15" stop-color="#030000"/><stop offset="0.175" stop-color="#060000"/><stop offset="0.2" stop-color="#0a0000"/><stop offset="0.225" stop-color="#0e0000"/><stop offset="0.25" stop-color="#140000"/><stop offset="0.275" stop-color="#1a0000"/><stop offset="0.3" stop-color="#200000"/><stop offset="0.325" stop-color="#270000"/><stop offset="0.35" stop-color="#2d0000"/><stop offset="0.375" stop-color="#340000"/><stop offset="0.4" stop-color="#3b0000"/><stop offset="0.425" stop-color="#420000"/><stop offset="0.45" stop-color="#490000"/><stop offset="0.475" stop-color="#500000"/><stop offset="0.5" stop-color="#5f0000"/><stop offset="0.525" stop-color="#670000"/><stop offset="0.55" stop-color="#6e0000"/><stop offset="0.575" stop-color="#760000"/><stop offset="0.6" stop-color="#7e0000"/><stop offset="0.625" stop-color="#850000"/><stop offset="0.65" stop-color="#8d0000"/><stop offset="0.675" stop-color="#950000"/><stop offset="0.7" stop-color="#9c0000"/><stop offset="0.725" stop-color="#a60000"/><stop offset="0.75" stop-color="#b00000"/><stop offset="0.775" stop-color="#ba0000"/><stop offset="0.8" stop-color="#c30000"/><stop offset="0.825" stop-color="#cd0000"/><stop offset="0.85" stop-color="#d60000"/><stop offset="0.875" stop-color="#e00000"/><stop offset="0.9" stop-color="#e90000"/><stop offset="0.925" stop-color="#f20000"/><stop offset="0.95" stop-color="#fb0000"/><stop offset="0.975" stop-color="#ff0400"/><stop offset="1" stop-color="#ff0a00"/></linearGradient>
<linearGradient id="g26" x1="0" x2="1" y1="0" y2="0"><stop offset="0" stop-color="#000000"/><stop offset="0.025" stop-color="#000000"/><stop offset="0.05" stop-color="#010000"/><stop offset="0.075" stop-color="#010000"/><stop offset="0.1" stop-color="#010000"/><stop offset="0.125" stop-color="#010000"/><stop offset="0.15" stop-color="#020000"/><stop offset="0.175" stop-color="#020000"/><stop offset="0.2" stop-color="#020000"/><stop offset="0.225" stop-color="#030000"/><stop offset="0.25" stop-color="#030000"/><stop offset="0.275" stop-color="#030000"/><stop offset="0.3" stop-color="#030000"/><stop offset="0.325" stop-color="#060000"/><stop offset="0.35" stop-color="#080000"/><stop offset="0.375" stop-color="#0b0000"/><stop offset="0.4" stop-color="#0e0000"/><stop offset="0.425" stop-color="#130000"/><stop offset="0.45" stop-color="#180000"/><stop offset="0.475" stop-color="#1d0000"/><stop offset="0.5" stop-color="#220000"/><stop offset="0.525" stop-color="#240000"/><stop offset="0.55" stop-color="#270000"/><stop offset="0.575" stop-color="#290000"/><stop offset="0.6" stop-color="#2c0000"/><stop offset="0.625" stop-color="#2e0000"/><stop offset="0.65" stop-color="#310000"/><stop offset="0.675" stop-color="#340000"/><stop offset="0.7" stop-color="#380000"/><stop offset="0.725" stop-color="#3b0000"/><stop offset="0.75" stop-color="#400000"/><stop offset="0.775" stop-color="#480000"/><stop offset="0.8" stop-color="#500000"/><stop offset="0.825" stop-color="#580000"/><stop offset="0.85" stop-color="#600000"/><stop offset="0.875" stop-color="#680000"/><stop offset="0.9" stop-color="#700000"/><stop offset="0.925" stop-color="#740000"/><stop offset="0.95" stop-color="#790000"/><stop offset="0.975" stop-color="#7d0000"/><stop offset="1" stop-color="#810000"/></linearGradient>
<linearGradient id="g27" x1="0" x2="1" y1="0" y2="0"><stop offset="0" stop-color="#000000"/><stop offset="0.025" stop-color="#000000"/><stop offset="0.05" stop-color="#000000"/><stop offset="0.075" stop-color="#000000"/><stop offset="0.1" stop-color="#010000"/><stop offset="0.125" stop-color="#010000"/><stop offset="0.15" stop-color="#010000"/><stop offset="0.175" stop-color="#010000"/><stop offset="0.2" stop-color="#010000"/><stop offset="0.225" stop-color="#010000"/><stop offset="0.25" stop-color="#010000"/><stop offset="0.275" stop-color="#020000"/><stop offset="0.3" stop-color="#020000"/><stop offset="0.325" stop-color="#020000"/><stop offset="0.35" stop-color="#020000"/><stop offset="0.375" stop-color="#020000"/><stop offset="0.4" stop-color="#020000"/><stop offset="0.425" stop-color="#020000"/><stop offset="0.45" stop-color="#030000"/><stop offset="0.475" stop-color="#030000"/><stop offset="0.5" stop-color="#030000"/><stop offset="0.525" stop-color="#030000"/><stop offset="0.55" stop-color="#030000"/><stop offset="0.575" stop-color="#030000"/><stop offset="0.6" stop-color="#030000"/><stop offset="0.625" stop-color="#040000"/><stop offset="0.65" stop-color="#050000"/><stop offset="0.675" stop-color="#060000"/><stop offset="0.7" stop-color="#070000"/><stop offset="0.725" stop-color="#080000"/><stop offset="0.75" stop-color="#080000"/><stop offset="0.775" stop-color="#090000"/><stop offset="0.8" stop-color="#0a0000"/><stop offset="0.825" stop-color="#0c0000"/><stop offset="0.85" stop-color="#0e0000"/><stop offset="0.875" stop-color="#0f0000"/><stop offset="0.9" stop-color="#110000"/><stop offset="0.925" stop-color="#130000"/><stop offset="0.95" stop-color="#140000"/><stop offset="0.975" stop-color="#160000"/><stop offset="1" stop-color="#180000"/></linearGradient>
<linearGradient id="g28" x1="0" x2="1" y1="0" y2="0"><stop offset="0" stop-color="#000000"/><stop offset="0.025" stop-color="#000000"/><stop offset="0.05" stop-color="#000000"/><stop offset="0.075" stop-color="#000000"/><stop offset="0.1" stop-color="#000000"/><stop offset="0.125" stop-color="#010000"/><stop offset="0.15" stop-color="#010000"/><stop offset="0.175" stop-color="#010000"/><stop offset="0.2" stop-color="#010000"/><stop offset="0.225" stop-color="#010000"/><stop offset="0.25" stop-color="#010000"/><stop offset="0.275" stop-color="#010000"/><stop offset="0.3" stop-color="#010000"/><stop offset="0.325" stop-color="#010000"/><stop offset="0.35" stop-color="#010000"/><stop offset="0.375" stop-color="#020000"/><stop offset="0.4" stop-color="#020000"/><stop offset="0.425" stop-color="#020000"/><stop offset="0.45" stop-color="#020000"/><stop offset="0.475" stop-color="#020000"/><stop offset="0.5" stop-color="#020000"/><stop offset="0.525" stop-color="#020000"/><stop offset="0.55" stop-color="#020000"/><stop offset="0.575" stop-color="#020000"/><stop offset="0.6" stop-color="#030000"/><stop offset="0.625" stop-color="#030000"/><stop offset="0.65" stop-color="#030000"/><stop offset="0.675" stop-color="#030000"/><stop offset="0.7" stop-color="#030000"/><stop offset="0.725" stop-color="#030000"/><stop offset="0.75" stop-color="#030000"/><stop offset="0.775" stop-color="#030000"/><stop offset="0.8" stop-color="#030000"/><stop offset="0.825" stop-color="#050000"/><stop offset="0.85" stop-color="#060000"/><stop offset="0.875" stop-color="#070000"/><stop offset="0.9" stop-color="#080000"/><stop offset="0.925" stop-color="#0a0000"/><stop offset="0.95" stop-color="#0b0000"/><stop offset="0.975" stop-color="#0c0000"/><stop offset="1" stop-color="#0e0000"/></linearGradient>
<linearGradient id="g29" x1="0" x2="1" y1="0" y2="0"><stop offset="0" stop-color="#ffffff"/><stop offset="0.025" stop-color="#ffffda"/><stop offset="0.05" stop-color="#ffffb6"/><stop offset="0.075" stop-color="#ffff91"/><stop offset="0.1" stop-color="#ffff6b"/><stop offset="0.125" stop-color="#ffff45"/><stop offset="0.15" stop-color="#ffff1f"/><stop offset="0.175" stop-color="#fffa00"/><stop offset="0.2" stop-color="#ffe000"/><stop offset="0.225" stop-color="#ffc700"/><stop offset="0.25" stop-color="#ffb200"/><stop offset="0.275" stop-color="#ff9f00"/><stop offset="0.3" stop-color="#ff8b00"/><stop offset="0.325" stop-color="#ff7900"/><stop offset="0.35" stop-color="#ff6600"/><stop offset="0.375" stop-color="#ff5300"/><stop offset="0.4" stop-color="#ff4100"/><stop offset="0.425" stop-color="#ff3200"/><stop offset="0.45" stop-color="#ff2300"/><stop offset="0.475" stop-color="#ff1400"/><stop offset="0.5" stop-color="#f80000"/><stop offset="0.525" stop-color="#eb0000"/><stop offset="0.55" stop-color="#df0000"/><stop offset="0.575" stop-color="#d20000"/><stop offset="0.6" stop-color="#c50000"/><stop offset="0.625" stop-color="#bc0000"/><stop offset="0.65" stop-color="#b20000"/><stop offset="0.675" stop-color="#a90000"/><stop offset="0.7" stop-color="#a00000"/><stop offset="0.725" stop-color="#960000"/><stop offset="0.75" stop-color="#8b0000"/><stop offset="0.775" stop-color="#810000"/><stop offset="0.8" stop-color="#770000"/><stop offset="0.825" stop-color="#6f0000"/><stop offset="0.85" stop-color="#680000"/><stop offset="0.875" stop-color="#600000"/><stop offset="0.9" stop-color="#580000"/><stop offset="0.925" stop-color="#540000"/><stop offset="0.95" stop-color="#500000"/><stop offset="0.975" stop-color="#4c0000"/><stop offset="1" stop-color="#470000"/></linearGradient>
<linearGradient id="g30" x1="0" x2="1" y1="0" y2="0"><stop offset="0" stop-color="#1b0000"/><stop offset="0.025" stop-color="#2c0000"/><stop offset="0.05" stop-color="#3d0000"/><stop offset="0.075" stop-color="#4e0000"/><stop offset="0.1" stop-color="#5f0000"/><stop offset="0.125" stop-color="#680000"/><stop offset="0.15" stop-color="#700000"/><stop offset="0.175" stop-color="#790000"/><stop offset="0.2" stop-color="#810000"/><stop offset="0.225" stop-color="#860000"/><stop offset="0.25" stop-color="#8b0000"/><stop offset="0.275" stop-color="#900000"/><stop offset="0.3" stop-color="#960000"/><stop offset="0.325" stop-color="#990000"/><stop offset="0.35" stop-color="#9c0000"/><stop offset="0.375" stop-color="#a00000"/><stop offset="0.4" stop-color="#a30000"/><stop offset="0.425" stop-color="#a50000"/><stop offset="0.45" stop-color="#a70000"/><stop offset="0.475" stop-color="#aa0000"/><stop offset="0.5" stop-color="#aa0000"/><stop offset="0.525" stop-color="#aa0000"/><stop offset="0.55" stop-color="#aa0000"/><stop offset="0.575" stop-color="#aa0000"/><stop offset="0.6" stop-color="#aa0000"/><stop offset="0.625" stop-color="#a90000"/><stop offset="0.65" stop-color="#a80000"/><stop offset="0.675" stop-color="#a70000"/><stop offset="0.7" stop-color="#a70000"/><stop offset="0.725" stop-color="#a20000"/><stop offset="0.75" stop-color="#9e0000"/><stop offset="0.775" stop-color="#9a0000"/><stop offset="0.8" stop-color="#960000"/><stop offset="0.825" stop-color="#930000"/><stop offset="0.85" stop-color="#910000"/><stop offset="0.875" stop-color="#8f0000"/><stop offset="0.9" stop-color="#8d0000"/><stop offset="0.925" stop-color="#8b0000"/><stop offset="0.95" stop-color="#890000"/><stop offset="0.975" stop-color="#870000"/><stop offset="1" stop-color="#850000"/></linearGradient>
<linearGradient id="g31" x1="0" x2="1" y1="0" y2="0"><stop offset="0" stop-color="#000000"/><stop offset="0.025" stop-color="#020000"/><stop offset="0.05" stop-color="#030000"/><stop offset="0.075" stop-color="#050000"/><stop offset="0.1" stop-color="#070000"/><stop offset="0.125" stop-color="#0a0000"/><stop offset="0.15" stop-color="#0e0000"/><stop offset="0.175" stop-color="#110000"/><stop offset="0.2" stop-color="#140000"/><stop offset="0.225" stop-color="#180000"/><stop offset="0.25" stop-color="#1b0000"/><stop offset="0.275" stop-color="#1f0000"/><stop offset="0.3" stop-color="#220000"/><stop offset="0.325" stop-color="#250000"/><stop offset="0.35" stop-color="#270000"/><stop offset="0.375" stop-color="#2a0000"/><stop offset="0.4" stop-color="#2c0000"/><stop offset="0.425" stop-color="#2d0000"/><stop offset="0.45" stop-color="#2e0000"/><stop offset="0.475" stop-color="#2f0000"/><stop offset="0.5" stop-color="#300000"/><stop offset="0.525" stop-color="#2f0000"/><stop offset="0.55" stop-color="#2e0000"/><stop offset="0.575" stop-color="#2d0000"/><stop offset="0.6" stop-color="#2c0000"/><stop offset="0.625" stop-color="#2b0000"/><stop offset="0.65" stop-color="#2a0000"/><stop offset="0.675" stop-color="#2a0000"/><stop offset="0.7" stop-color="#290000"/><stop offset="0.725" stop-color="#280000"/><stop offset="0.75" stop-color="#270000"/><stop offset="0.775" stop-color="#260000"/><stop offset="0.8" stop-color="#250000"/><stop offset="0.825" stop-color="#250000"/><stop offset="0.85" stop-color="#240000"/><stop offset="0.875" stop-color="#230000"/><stop offset="0.9" stop-color="#220000"/><stop offset="0.925" stop-color="#210000"/><stop offset="0.95" stop-color="#200000"/><stop offset="0.975" stop-color="#1f0000"/><stop offset="1" stop-color="#1f0000"/></linearGradient>
<linearGradient id="g32" x1="0" x2="1" y1="0" y2="0"><stop offset="0" stop-color="#000000"/><stop offset="0.025" stop-color="#010000"/><stop offset="0.05" stop-color="#010000"/><stop offset="0.075" stop-color="#020000"/><stop offset="0.1" stop-color="#020000"/><stop offset="0.125" stop-color="#030000"/><stop offset="0.15" stop-color="#030000"/><stop offset="0.175" stop-color="#050000"/><stop offset="0.2" stop-color="#080000"/><stop offset="0.225" stop-color="#0c0000"/><stop offset="0.25" stop-color="#0f0000"/><stop offset="0.275" stop-color="#140000"/><stop offset="0.3" stop-color="#180000"/><stop offset="0.325" stop-color="#1c0000"/><stop offset="0.35" stop-color="#200000"/><stop offset="0.375" stop-color="#240000"/><stop offset="0.4" stop-color="#280000"/><stop offset="0.425" stop-color="#2b0000"/><stop offset="0.45" stop-color="#2f0000"/><stop offset="0.475" stop-color="#320000"/><stop offset="0.5" stop-color="#360000"/><stop offset="0.525" stop-color="#380000"/><stop offset="0.55" stop-color="#390000"/><stop offset="0.575" stop-color="#3a0000"/><stop offset="0.6" stop-color="#3b0000"/><stop offset="0.625" stop-color="#3d0000"/><stop offset="0.65" stop-color="#3e0000"/><stop offset="0.675" stop-color="#3f0000"/><stop offset="0.7" stop-color="#410000"/><stop offset="0.725" stop-color="#410000"/><stop offset="0.75" stop-color="#410000"/><stop offset="0.775" stop-color="#410000"/><stop offset="0.8" stop-color="#410000"/><stop offset="0.825" stop-color="#410000"/><stop offset="0.85" stop-color="#410000"/><stop offset="0.875" stop-color="#410000"/><stop offset="0.9" stop-color="#410000"/><stop offset="0.925" stop-color="#410000"/><stop offset="0.95" stop-color="#410000"/><stop offset="0.975" stop-color="#410000"/><stop offset="1" stop-color="#410000"/></linearGradient>
<linearGradient id="g33" x1="0" x2="1" y1="0" y2="0"><stop offset="0" stop-color="#000000"/><stop offset="0.025" stop-color="#000000"/><stop offset="0.05" stop-color="#010000"/><stop offset="0.075" stop-color="#010000"/><stop offset="0.1" stop-color="#010000"/><stop offset="0.125" stop-color="#010000"/><stop offset="0.15" stop-color="#020000"/><stop offset="0.175" stop-color="#020000"/><stop offset="0.2" stop-color="#020000"/><stop offset="0.225" stop-color="#030000"/><stop offset="0.25" stop-color="#030000"/><stop offset="0.275" stop-color="#030000"/><stop offset="0.3" stop-color="#030000"/><stop offset="0.325" stop-color="#060000"/><stop offset="0.35" stop-color="#080000"/><stop offset="0.375" stop-color="#0b0000"/><stop offset="0.4" stop-color="#0e0000"/><stop offset="0.425" stop-color="#100000"/><stop offset="0.45" stop-color="#130000"/><stop offset="0.475" stop-color="#150000"/><stop offset="0.5" stop-color="#180000"/><stop offset="0.525" stop-color="#190000"/><stop offset="0.55" stop-color="#1a0000"/><stop offset="0.575" stop-color="#1a0000"/><stop offset="0.6" stop-color="#1b0000"/><stop offset="0.625" stop-color="#1c0000"/><stop offset="0.65" stop-color="#1d0000"/><stop offset="0.675" stop-color="#1e0000"/><stop offset="0.7" stop-color="#1f0000"/><stop offset="0.725" stop-color="#1f0000"/><stop offset="0.75" stop-color="#200000"/><stop offset="0.775" stop-color="#210000"/><stop offset="0.8" stop-color="#220000"/><stop offset="0.825" stop-color="#230000"/><stop offset="0.85" stop-color="#240000"/><stop offset="0.875" stop-color="#250000"/><stop offset="0.9" stop-color="#250000"/><stop offset="0.925" stop-color="#260000"/><stop offset="0.95" stop-color="#270000"/><stop offset="0.975" stop-color="#280000"/><stop offset="1" stop-color="#290000"/></linearGradient>
<linearGradient id="g34" x1="0" x2="1" y1="0" y2="0"><stop offset="0" stop-color="#000000"/><stop offset="0.025" stop-color="#000000"/><stop offset="0.05" stop-color="#000000"/><stop offset="0.075" stop-color="#010000"/><stop offset="0.1" stop-color="#010000"/><stop offset="0.125" stop-color="#010000"/><stop offset="0.15" stop-color="#010000"/><stop offset="0.175" stop-color="#010000"/><stop offset="0.2" stop-color="#010000"/><stop offset="0.225" stop-color="#020000"/><stop offset="0.25" stop-color="#020000"/><stop offset="0.275" stop-color="#020000"/><stop offset="0.3" stop-color="#020000"/><stop offset="0.325" stop-color="#020000"/><stop offset="0.35" stop-color="#020000"/><stop offset="0.375" stop-color="#030000"/><stop offset="0.4" stop-color="#030000"/><stop offset="0.425" stop-color="#030000"/><stop offset="0.45" stop-color="#030000"/><stop offset="0.475" stop-color="#030000"/><stop offset="0.5" stop-color="#030000"/><stop offset="0.525" stop-color="#040000"/><stop offset="0.55" stop-color="#040000"/><stop offset="0.575" stop-color="#040000"/><stop offset="0.6" stop-color="#040000"/><stop offset="0.625" stop-color="#040000"/><stop offset="0.65" stop-color="#040000"/><stop offset="0.675" stop-color="#050000"/><stop offset="0.7" stop-color="#050000"/><stop offset="0.725" stop-color="#050000"/><stop offset="0.75" stop-color="#050000"/><stop offset="0.775" stop-color="#050000"/><stop offset="0.8" stop-color="#050000"/><stop offset="0.825" stop-color="#060000"/><stop offset="0.85" stop-color="#060000"/><stop offset="0.875" stop-color="#060000"/><stop offset="0.9" stop-color="#060000"/><stop offset="0.925" stop-color="#060000"/><stop offset="0.95" stop-color="#060000"/><stop offset="0.975" stop-color="#070000"/><stop offset="1" stop-color="#070000"/></linearGradient>
<linearGradient id="g35" x1="0" x2="1" y1="0" y2="0"><stop offset="0" stop-color="#000000"/><stop offset="0.025" stop-color="#000000"/><stop offset="0.05" stop-color="#000000"/><stop offset="0.075" stop-color="#000000"/><stop offset="0.1" stop-color="#000000"/><stop offset="0.125" stop-color="#000000"/><stop offset="0.15" stop-color="#010000"/><stop offset="0.175" stop-color="#010000"/><stop offset="0.2" stop-color="#010000"/><stop offset="0.225" stop-color="#010000"/><stop offset="0.25" stop-color="#010000"/><stop offset="0.275" stop-color="#010000"/><stop offset="0.3" stop-color="#010000"/><stop offset="0.325" stop-color="#010000"/><stop offset="0.35" stop-color="#010000"/><stop offset="0.375" stop-color="#010000"/><stop offset="0.4" stop-color="#010000"/><stop offset="0.425" stop-color="#010000"/><stop offset="0.45" stop-color="#020000"/><stop offset="0.475" stop-color="#020000"/><stop offset="0.5" stop-color="#020000"/><stop offset="0.525" stop-color="#020000"/><stop offset="0.55" stop-color="#020000"/><stop offset="0.575" stop-color="#020000"/><stop offset="0.6" stop-color="#020000"/><stop offset="0.625" stop-color="#020000"/><stop offset="0.65" stop-color="#020000"/><stop offset="0.675" stop-color="#020000"/><stop offset="0.7" stop-color="#020000"/><stop offset="0.725" stop-color="#020000"/><stop offset="0.75" stop-color="#030000"/><stop offset="0.775" stop-color="#030000"/><stop offset="0.8" stop-color="#030000"/><stop offset="0.825" stop-color="#030000"/><stop offset="0.85" stop-color="#030000"/><stop offset="0.875" stop-color="#030000"/><stop offset="0.9" stop-color="#030000"/><stop offset="0.925" stop-color="#030000"/><stop offset="0.95" stop-color="#030000"/><stop offset="0.975" stop-color="#030000"/><stop offset="1" stop-color="#030000"/></linearGradient>
<linearGradient id="g36" x1="0" x2="1" y1="0" y2="0"><stop offset="0" stop-color="#ffffff"/><stop offset="0.025" stop-color="#ffffff"/><stop offset="0.05" stop-color="#ffffff"/><stop offset="0.075" stop-color="#ffffff"/><stop offset="0.1" stop-color="#ffffff"/><stop offset="0.125" stop-color="#fffff4"/><stop offset="0.15" stop-color="#ffffea"/><stop offset="0.175" stop-color="#ffffe0"/><stop offset="0.2" stop-color="#ffffd6"/><stop offset="0.225" stop-color="#ffffcd"/><stop offset="0.25" stop-color="#ffffc3"/><stop offset="0.275" stop-color="#ffffba"/><stop offset="0.3" stop-color="#ffffb0"/><stop offset="0.325" stop-color="#ffffa6"/><stop offset="0.35" stop-color="#ffff9b"/><stop offset="0.375" stop-color="#ffff90"/><stop offset="0.4" stop-color="#ffff85"/><stop offset="0.425" stop-color="#ffff78"/><stop offset="0.45" stop-color="#ffff6b"/><stop offset="0.475" stop-color="#ffff5e"/><stop offset="0.5" stop-color="#ffff4e"/><stop offset="0.525" stop-color="#ffff3d"/><stop offset="0.55" stop-color="#ffff2c"/><stop offset="0.575" stop-color="#ffff1b"/><stop offset="0.6" stop-color="#ffff0a"/><stop offset="0.625" stop-color="#fffc00"/><stop offset="0.65" stop-color="#fff200"/><stop offset="0.675" stop-color="#ffe900"/><stop offset="0.7" stop-color="#ffdf00"/><stop offset="0.725" stop-color="#ffd500"/><stop offset="0.75" stop-color="#ffcb00"/><stop offset="0.775" stop-color="#ffc200"/><stop offset="0.8" stop-color="#ffb800"/><stop offset="0.825" stop-color="#ffae00"/><stop offset="0.85" stop-color="#ffa400"/><stop offset="0.875" stop-color="#ff9900"/><stop offset="0.9" stop-color="#ff8e00"/><stop offset="0.925" stop-color="#ff8300"/><stop offset="0.95" stop-color="#ff7800"/><stop offset="0.975" stop-color="#ff6e00"/><stop offset="1" stop-color="#ff6300"/></linearGradient>
<linearGradient id="g37" x1="0" x2="1" y1="0" y2="0"><stop offset="0" stop-color="#1b0000"/><stop offset="0.025" stop-color="#290000"/><stop offset="0.05" stop-color="#380000"/><stop offset="0.075" stop-color="#490000"/><stop offset="0.1" stop-color="#5c0000"/><stop offset="0.125" stop-color="#6f0000"/><stop offset="0.15" stop-color="#820000"/><stop offset="0.175" stop-color="#950000"/><stop offset="0.2" stop-color="#a80000"/><stop offset="0.225" stop-color="#bc0000"/><stop offset="0.25" stop-color="#d20000"/><stop offset="0.275" stop-color="#e90000"/><stop offset="0.3" stop-color="#ff0000"/><stop offset="0.325" stop-color="#ff0e00"/><stop offset="0.35" stop-color="#ff1d00"/><stop offset="0.375" stop-color="#ff2b00"/><stop offset="0.4" stop-color="#ff3a00"/><stop offset="0.425" stop-color="#ff4900"/><stop offset="0.45" stop-color="#ff5800"/><stop offset="0.475" stop-color="#ff6600"/><stop offset="0.5" stop-color="#ff7000"/><stop offset="0.525" stop-color="#ff7900"/><stop offset="0.55" stop-color="#ff8100"/><stop offset="0.575" stop-color="#ff8a00"/><stop offset="0.6" stop-color="#ff9200"/><stop offset="0.625" stop-color="#ff9b00"/><stop offset="0.65" stop-color="#ffa300"/><stop offset="0.675" stop-color="#ffaa00"/><stop offset="0.7" stop-color="#ffb200"/><stop offset="0.725" stop-color="#ffb900"/><stop offset="0.75" stop-color="#ffc100"/><stop offset="0.775" stop-color="#ffc800"/><stop offset="0.8" stop-color="#ffcf00"/><stop offset="0.825" stop-color="#ffd600"/><stop offset="0.85" stop-color="#ffde00"/><stop offset="0.875" stop-color="#ffe500"/><stop offset="0.9" stop-color="#ffec00"/><stop offset="0.925" stop-color="#fff200"/><stop offset="0.95" stop-color="#fff700"/><stop offset="0.975" stop-color="#fffb00"/><stop offset="1" stop-color="#ffff00"/></linearGradient>
<linearGradient id="g38" x1="0" x2="1" y1="0" y2="0"><stop offset="0" stop-color="#000000"/><stop offset="0.025" stop-color="#020000"/><stop offset="0.05" stop-color="#030000"/><stop offset="0.075" stop-color="#050000"/><stop offset="0.1" stop-color="#070000"/><stop offset="0.125" stop-color="#0d0000"/><stop offset="0.15" stop-color="#130000"/><stop offset="0.175" stop-color="#190000"/><stop offset="0.2" stop-color="#1f0000"/><stop offset="0.225" stop-color="#250000"/><stop offset="0.25" stop-color="#2a0000"/><stop offset="0.275" stop-color="#300000"/><stop offset="0.3" stop-color="#360000"/><stop offset="0.325" stop-color="#3b0000"/><stop offset="0.35" stop-color="#3f0000"/><stop offset="0.375" stop-color="#430000"/><stop offset="0.4" stop-color="#470000"/><stop offset="0.425" stop-color="#4d0000"/><stop offset="0.45" stop-color="#530000"/><stop offset="0.475" stop-color="#590000"/><stop offset="0.5" stop-color="#5f0000"/><stop offset="0.525" stop-color="#630000"/><stop offset="0.55" stop-color="#680000"/><stop offset="0.575" stop-color="#6c0000"/><stop offset="0.6" stop-color="#700000"/><stop offset="0.625" stop-color="#740000"/><stop offset="0.65" stop-color="#790000"/><stop offset="0.675" stop-color="#7d0000"/><stop offset="0.7" stop-color="#810000"/><stop offset="0.725" stop-color="#850000"/><stop offset="0.75" stop-color="#890000"/><stop offset="0.775" stop-color="#8d0000"/><stop offset="0.8" stop-color="#900000"/><stop offset="0.825" stop-color="#940000"/><stop offset="0.85" stop-color="#980000"/><stop offset="0.875" stop-color="#9c0000"/><stop offset="0.9" stop-color="#a00000"/><stop offset="0.925" stop-color="#a20000"/><stop offset="0.95" stop-color="#a50000"/><stop offset="0.975" stop-color="#a70000"/><stop offset="1" stop-color="#aa0000"/></linearGradient>
<linearGradient id="g39" x1="0" x2="1" y1="0" y2="0"><stop offset="0" stop-color="#000000"/><stop offset="0.025" stop-color="#010000"/><stop offset="0.05" stop-color="#010000"/><stop offset="0.075" stop-color="#020000"/><stop offset="0.1" stop-color="#020000"/><stop offset="0.125" stop-color="#030000"/><stop offset="0.15" stop-color="#030000"/><stop offset="0.175" stop-color="#060000"/><stop offset="0.2" stop-color="#0a0000"/><stop offset="0.225" stop-color="#0e0000"/><stop offset="0.25" stop-color="#130000"/><stop offset="0.275" stop-color="#190000"/><stop offset="0.3" stop-color="#1f0000"/><stop offset="0.325" stop-color="#240000"/><stop offset="0.35" stop-color="#2a0000"/><stop offset="0.375" stop-color="#300000"/><stop offset="0.4" stop-color="#360000"/><stop offset="0.425" stop-color="#3d0000"/><stop offset="0.45" stop-color="#430000"/><stop offset="0.475" stop-color="#4a0000"/><stop offset="0.5" stop-color="#520000"/><stop offset="0.525" stop-color="#590000"/><stop offset="0.55" stop-color="#610000"/><stop offset="0.575" stop-color="#690000"/><stop offset="0.6" stop-color="#700000"/><stop offset="0.625" stop-color="#780000"/><stop offset="0.65" stop-color="#800000"/><stop offset="0.675" stop-color="#870000"/><stop offset="0.7" stop-color="#8f0000"/><stop offset="0.725" stop-color="#950000"/><stop offset="0.75" stop-color="#9b0000"/><stop offset="0.775" stop-color="#a10000"/><stop offset="0.8" stop-color="#a70000"/><stop offset="0.825" stop-color="#ad0000"/><stop offset="0.85" stop-color="#b30000"/><stop offset="0.875" stop-color="#b80000"/><stop offset="0.9" stop-color="#be0000"/><stop offset="0.925" stop-color="#c70000"/><stop offset="0.95" stop-color="#cf0000"/><stop offset="0.975" stop-color="#d80000"/><stop offset="1" stop-color="#e00000"/></linearGradient>
<linearGradient id="g40" x1="0" x2="1" y1="0" y2="0"><stop offset="0" stop-color="#000000"/><stop offset="0.025" stop-color="#000000"/><stop offset="0.05" stop-color="#010000"/><stop offset="0.075" stop-color="#010000"/><stop offset="0.1" stop-color="#010000"/><stop offset="0.125" stop-color="#010000"/><stop offset="0.15" stop-color="#020000"/><stop offset="0.175" stop-color="#020000"/><stop offset="0.2" stop-color="#020000"/><stop offset="0.225" stop-color="#030000"/><stop offset="0.25" stop-color="#030000"/><stop offset="0.275" stop-color="#030000"/><stop offset="0.3" stop-color="#030000"/><stop offset="0.325" stop-color="#060000"/><stop offset="0.35" stop-color="#080000"/><stop offset="0.375" stop-color="#0b0000"/><stop offset="0.4" stop-color="#0e0000"/><stop offset="0.425" stop-color="#130000"/><stop offset="0.45" stop-color="#180000"/><stop offset="0.475" stop-color="#1d0000"/><stop offset="0.5" stop-color="#220000"/><stop offset="0.525" stop-color="#240000"/><stop offset="0.55" stop-color="#250000"/><stop offset="0.575" stop-color="#270000"/><stop offset="0.6" stop-color="#290000"/><stop offset="0.625" stop-color="#2a0000"/><stop offset="0.65" stop-color="#2c0000"/><stop offset="0.675" stop-color="#2e0000"/><stop offset="0.7" stop-color="#300000"/><stop offset="0.725" stop-color="#310000"/><stop offset="0.75" stop-color="#330000"/><stop offset="0.775" stop-color="#350000"/><stop offset="0.8" stop-color="#360000"/><stop offset="0.825" stop-color="#380000"/><stop offset="0.85" stop-color="#3a0000"/><stop offset="0.875" stop-color="#3b0000"/><stop offset="0.9" stop-color="#3d0000"/><stop offset="0.925" stop-color="#420000"/><stop offset="0.95" stop-color="#470000"/><stop offset="0.975" stop-color="#4c0000"/><stop offset="1" stop-color="#520000"/></linearGradient>
<linearGradient id="g41" x1="0" x2="1" y1="0" y2="0"><stop offset="0" stop-color="#000000"/><stop offset="0.025" stop-color="#000000"/><stop offset="0.05" stop-color="#000000"/><stop offset="0.075" stop-color="#000000"/><stop offset="0.1" stop-color="#000000"/><stop offset="0.125" stop-color="#010000"/><stop offset="0.15" stop-color="#010000"/><stop offset="0.175" stop-color="#010000"/><stop offset="0.2" stop-color="#010000"/><stop offset="0.225" stop-color="#010000"/><stop offset="0.25" stop-color="#010000"/><stop offset="0.275" stop-color="#010000"/><stop offset="0.3" stop-color="#010000"/><stop offset="0.325" stop-color="#020000"/><stop offset="0.35" stop-color="#020000"/><stop offset="0.375" stop-color="#020000"/><stop offset="0.4" stop-color="#020000"/><stop offset="0.425" stop-color="#020000"/><stop offset="0.45" stop-color="#020000"/><stop offset="0.475" stop-color="#020000"/><stop offset="0.5" stop-color="#020000"/><stop offset="0.525" stop-color="#030000"/><stop offset="0.55" stop-color="#030000"/><stop offset="0.575" stop-color="#030000"/><stop offset="0.6" stop-color="#030000"/><stop offset="0.625" stop-color="#030000"/><stop offset="0.65" stop-color="#030000"/><stop offset="0.675" stop-color="#030000"/><stop offset="0.7" stop-color="#030000"/><stop offset="0.725" stop-color="#050000"/><stop offset="0.75" stop-color="#070000"/><stop offset="0.775" stop-color="#080000"/><stop offset="0.8" stop-color="#0a0000"/><stop offset="0.825" stop-color="#0c0000"/><stop offset="0.85" stop-color="#0e0000"/><stop offset="0.875" stop-color="#0f0000"/><stop offset="0.9" stop-color="#110000"/><stop offset="0.925" stop-color="#130000"/><stop offset="0.95" stop-color="#140000"/><stop offset="0.975" stop-color="#160000"/><stop offset="1" stop-color="#180000"/></linearGradient>
<linearGradient id="g42" x1="0" x2="1" y1="0" y2="0"><stop offset="0" stop-color="#000000"/><stop offset="0.025" stop-color="#000000"/><stop offset="0.05" stop-color="#000000"/><stop offset="0.075" stop-color="#000000"/><stop offset="0.1" stop-color="#000000"/><stop offset="0.125" stop-color="#010000"/><stop offset="0.15" stop-color="#010000"/><stop offset="0.175" stop-color="#010000"/><stop offset="0.2" stop-color="#010000"/><stop offset="0.225" stop-color="#010000"/><stop offset="0.25" stop-color="#010000"/><stop offset="0.275" stop-color="#010000"/><stop offset="0.3" stop-color="#010000"/><stop offset="0.325" stop-color="#010000"/><stop offset="0.35" stop-color="#010000"/><stop offset="0.375" stop-color="#020000"/><stop offset="0.4" stop-color="#020000"/><stop offset="0.425" stop-color="#020000"/><stop offset="0.45" stop-color="#020000"/><stop offset="0.475" stop-color="#020000"/><stop offset="0.5" stop-color="#020000"/><stop offset="0.525" stop-color="#020000"/><stop offset="0.55" stop-color="#020000"/><stop offset="0.575" stop-color="#020000"/><stop offset="0.6" stop-color="#020000"/><stop offset="0.625" stop-color="#030000"/><stop offset="0.65" stop-color="#030000"/><stop offset="0.675" stop-color="#030000"/><stop offset="0.7" stop-color="#030000"/><stop offset="0.725" stop-color="#030000"/><stop offset="0.75" stop-color="#030000"/><stop offset="0.775" stop-color="#030000"/><stop offset="0.8" stop-color="#030000"/><stop offset="0.825" stop-color="#030000"/><stop offset="0.85" stop-color="#030000"/><stop offset="0.875" stop-color="#040000"/><stop offset="0.9" stop-color="#040000"/><stop offset="0.925" stop-color="#040000"/><stop offset="0.95" stop-color="#040000"/><stop offset="0.975" stop-color="#040000"/><stop offset="1" stop-color="#040000"/></linearGradient>
<linearGradient id="g43" x1="0" x2="1" y1="0" y2="0"><stop offset="0" stop-color="#ffffff"/><stop offset="0.025" stop-color="#ffffda"/><stop offset="0.05" stop-color="#ffffb6"/><stop offset="0.075" stop-color="#ffff91"/><stop offset="0.1" stop-color="#ffff6b"/><stop offset="0.125" stop-color="#ffff45"/><stop offset="0.15" stop-color="#ffff1f"/><stop offset="0.175" stop-color="#fffa00"/><stop offset="0.2" stop-color="#ffe000"/><stop offset="0.225" stop-color="#ffc700"/><stop offset="0.25" stop-color="#ffb200"/><stop offset="0.275" stop-color="#ff9f00"/><stop offset="0.3" stop-color="#ff8b00"/><stop offset="0.325" stop-color="#ff7900"/><stop offset="0.35" stop-color="#ff6600"/><stop offset="0.375" stop-color="#ff5300"/><stop offset="0.4" stop-color="#ff4100"/><stop offset="0.425" stop-color="#ff3200"/><stop offset="0.45" stop-color="#ff2300"/><stop offset="0.475" stop-color="#ff1400"/><stop offset="0.5" stop-color="#f80000"/><stop offset="0.525" stop-color="#ed0000"/><stop offset="0.55" stop-color="#e10000"/><stop offset="0.575" stop-color="#d60000"/><stop offset="0.6" stop-color="#ca0000"/><stop offset="0.625" stop-color="#bf0000"/><stop offset="0.65" stop-color="#b40000"/><stop offset="0.675" stop-color="#ac0000"/><stop offset="0.7" stop-color="#a40000"/><stop offset="0.725" stop-color="#9d0000"/><stop offset="0.75" stop-color="#950000"/><stop offset="0.775" stop-color="#8d0000"/><stop offset="0.8" stop-color="#850000"/><stop offset="0.825" stop-color="#800000"/><stop offset="0.85" stop-color="#7a0000"/><stop offset="0.875" stop-color="#750000"/><stop offset="0.9" stop-color="#700000"/><stop offset="0.925" stop-color="#6b0000"/><stop offset="0.95" stop-color="#660000"/><stop offset="0.975" stop-color="#610000"/><stop offset="1" stop-color="#5c0000"/></linearGradient>
<linearGradient id="g44" x1="0" x2="1" y1="0" y2="0"><stop offset="0" stop-color="#1b0000"/><stop offset="0.025" stop-color="#2c0000"/><stop offset="0.05" stop-color="#3d0000"/><stop offset="0.075" stop-color="#4e0000"/><stop offset="0.1" stop-color="#5f0000"/><stop offset="0.125" stop-color="#680000"/><stop offset="0.15" stop-color="#700000"/><stop offset="0.175" stop-color="#790000"/><stop offset="0.2" stop-color="#810000"/><stop offset="0.225" stop-color="#850000"/><stop offset="0.25" stop-color="#8a0000"/><stop offset="0.275" stop-color="#8e0000"/><stop offset="0.3" stop-color="#920000"/><stop offset="0.325" stop-color="#960000"/><stop offset="0.35" stop-color="#990000"/><stop offset="0.375" stop-color="#9c0000"/><stop offset="0.4" stop-color="#a00000"/><stop offset="0.425" stop-color="#a20000"/><stop offset="0.45" stop-color="#a30000"/><stop offset="0.475" stop-color="#a50000"/><stop offset="0.5" stop-color="#a70000"/><stop offset="0.525" stop-color="#a50000"/><stop offset="0.55" stop-color="#a40000"/><stop offset="0.575" stop-color="#a30000"/><stop offset="0.6" stop-color="#a20000"/><stop offset="0.625" stop-color="#a00000"/><stop offset="0.65" stop-color="#9f0000"/><stop offset="0.675" stop-color="#9e0000"/><stop offset="0.7" stop-color="#9c0000"/><stop offset="0.725" stop-color="#9a0000"/><stop offset="0.75" stop-color="#970000"/><stop offset="0.775" stop-color="#940000"/><stop offset="0.8" stop-color="#910000"/><stop offset="0.825" stop-color="#8e0000"/><stop offset="0.85" stop-color="#8b0000"/><stop offset="0.875" stop-color="#890000"/><stop offset="0.9" stop-color="#860000"/><stop offset="0.925" stop-color="#830000"/><stop offset="0.95" stop-color="#800000"/><stop offset="0.975" stop-color="#7d0000"/><stop offset="1" stop-color="#7a0000"/></linearGradient>
<linearGradient id="g45" x1="0" x2="1" y1="0" y2="0"><stop offset="0" stop-color="#000000"/><stop offset="0.025" stop-color="#020000"/><stop offset="0.05" stop-color="#030000"/><stop offset="0.075" stop-color="#050000"/><stop offset="0.1" stop-color="#070000"/><stop offset="0.125" stop-color="#0a0000"/><stop offset="0.15" stop-color="#0e0000"/><stop offset="0.175" stop-color="#110000"/><stop offset="0.2" stop-color="#140000"/><stop offset="0.225" stop-color="#180000"/><stop offset="0.25" stop-color="#1b0000"/><stop offset="0.275" stop-color="#1f0000"/><stop offset="0.3" stop-color="#220000"/><stop offset="0.325" stop-color="#250000"/><stop offset="0.35" stop-color="#270000"/><stop offset="0.375" stop-color="#2a0000"/><stop offset="0.4" stop-color="#2c0000"/><stop offset="0.425" stop-color="#2d0000"/><stop offset="0.45" stop-color="#2e0000"/><stop offset="0.475" stop-color="#2f0000"/><stop offset="0.5" stop-color="#300000"/><stop offset="0.525" stop-color="#2f0000"/><stop offset="0.55" stop-color="#2e0000"/><stop offset="0.575" stop-color="#2d0000"/><stop offset="0.6" stop-color="#2c0000"/><stop offset="0.625" stop-color="#2b0000"/><stop offset="0.65" stop-color="#2a0000"/><stop offset="0.675" stop-color="#2a0000"/><stop offset="0.7" stop-color="#290000"/><stop offset="0.725" stop-color="#280000"/><stop offset="0.75" stop-color="#270000"/><stop offset="0.775" stop-color="#260000"/><stop offset="0.8" stop-color="#250000"/><stop offset="0.825" stop-color="#250000"/><stop offset="0.85" stop-color="#240000"/><stop offset="0.875" stop-color="#230000"/><stop offset="0.9" stop-color="#220000"/><stop offset="0.925" stop-color="#210000"/><stop offset="0.95" stop-color="#200000"/><stop offset="0.975" stop-color="#1f0000"/><stop offset="1" stop-color="#1f0000"/></linearGradient>
<linearGradient id="g46" x1="0" x2="1" y1="0" y2="0"><stop offset="0" stop-color="#000000"/><stop offset="0.025" stop-color="#010000"/><stop offset="0.05" stop-color="#010000"/><stop offset="0.075" stop-color="#020000"/><stop offset="0.1" stop-color="#020000"/><stop offset="0.125" stop-color="#030000"/><stop offset="0.15" stop-color="#030000"/><stop offset="0.175" stop-color="#050000"/><stop offset="0.2" stop-color="#080000"/><stop offset="0.225" stop-color="#0c0000"/><stop offset="0.25" stop-color="#0f0000"/><stop offset="0.275" stop-color="#130000"/><stop offset="0.3" stop-color="#160000"/><stop offset="0.325" stop-color="#1a0000"/><stop offset="0.35" stop-color="#1d0000"/><stop offset="0.375" stop-color="#200000"/><stop offset="0.4" stop-color="#230000"/><stop offset="0.425" stop-color="#260000"/><stop offset="0.45" stop-color="#2a0000"/><stop offset="0.475" stop-color="#2d0000"/><stop offset="0.5" stop-color="#300000"/><stop offset="0.525" stop-color="#300000"/><stop offset="0.55" stop-color="#310000"/><stop offset="0.575" stop-color="#320000"/><stop offset="0.6" stop-color="#330000"/><stop offset="0.625" stop-color="#340000"/><stop offset="0.65" stop-color="#350000"/><stop offset="0.675" stop-color="#360000"/><stop offset="0.7" stop-color="#360000"/><stop offset="0.725" stop-color="#360000"/><stop offset="0.75" stop-color="#360000"/><stop offset="0.775" stop-color="#360000"/><stop offset="0.8" stop-color="#360000"/><stop offset="0.825" stop-color="#360000"/><stop offset="0.85" stop-color="#360000"/><stop offset="0.875" stop-color="#360000"/><stop offset="0.9" stop-color="#360000"/><stop offset="0.925" stop-color="#360000"/><stop offset="0.95" stop-color="#360000"/><stop offset="0.975" stop-color="#360000"/><stop offset="1" stop-color="#360000"/></linearGradient>
<linearGradient id="g47" x1="0" x2="1" y1="0" y2="0"><stop offset="0" stop-color="#000000"/><stop offset="0.025" stop-color="#000000"/><stop offset="0.05" stop-color="#010000"/><stop offset="0.075" stop-color="#010000"/><stop offset="0.1" stop-color="#010000"/><stop offset="0.125" stop-color="#010000"/><stop offset="0.15" stop-color="#020000"/><stop offset="0.175" stop-color="#020000"/><stop offset="0.2" stop-color="#020000"/><stop offset="0.225" stop-color="#030000"/><stop offset="0.25" stop-color="#030000"/><stop offset="0.275" stop-color="#030000"/><stop offset="0.3" stop-color="#030000"/><stop offset="0.325" stop-color="#050000"/><stop offset="0.35" stop-color="#060000"/><stop offset="0.375" stop-color="#070000"/><stop offset="0.4" stop-color="#080000"/><stop offset="0.425" stop-color="#0a0000"/><stop offset="0.45" stop-color="#0d0000"/><stop offset="0.475" stop-color="#0f0000"/><stop offset="0.5" stop-color="#110000"/><stop offset="0.525" stop-color="#120000"/><stop offset="0.55" stop-color="#130000"/><stop offset="0.575" stop-color="#140000"/><stop offset="0.6" stop-color="#140000"/><stop offset="0.625" stop-color="#150000"/><stop offset="0.65" stop-color="#160000"/><stop offset="0.675" stop-color="#170000"/><stop offset="0.7" stop-color="#180000"/><stop offset="0.725" stop-color="#180000"/><stop offset="0.75" stop-color="#190000"/><stop offset="0.775" stop-color="#1a0000"/><stop offset="0.8" stop-color="#1a0000"/><stop offset="0.825" stop-color="#1b0000"/><stop offset="0.85" stop-color="#1b0000"/><stop offset="0.875" stop-color="#1c0000"/><stop offset="0.9" stop-color="#1c0000"/><stop offset="0.925" stop-color="#1d0000"/><stop offset="0.95" stop-color="#1d0000"/><stop offset="0.975" stop-color="#1e0000"/><stop offset="1" stop-color="#1f0000"/></linearGradient>
<linearGradient id="g48" x1="0" x2="1" y1="0" y2="0"><stop offset="0" stop-color="#000000"/><stop offset="0.025" stop-color="#000000"/><stop offset="0.05" stop-color="#000000"/><stop offset="0.075" stop-color="#000000"/><stop offset="0.1" stop-color="#010000"/><stop offset="0.125" stop-color="#010000"/><stop offset="0.15" stop-color="#010000"/><stop offset="0.175" stop-color="#010000"/><stop offset="0.2" stop-color="#010000"/><stop offset="0.225" stop-color="#010000"/><stop offset="0.25" stop-color="#010000"/><stop offset="0.275" stop-color="#010000"/><stop offset="0.3" stop-color="#020000"/><stop offset="0.325" stop-color="#020000"/><stop offset="0.35" stop-color="#020000"/><stop offset="0.375" stop-color="#020000"/><stop offset="0.4" stop-color="#020000"/><stop offset="0.425" stop-color="#020000"/><stop offset="0.45" stop-color="#020000"/><stop offset="0.475" stop-color="#030000"/><stop offset="0.5" stop-color="#030000"/><stop offset="0.525" stop-color="#030000"/><stop offset="0.55" stop-color="#030000"/><stop offset="0.575" stop-color="#030000"/><stop offset="0.6" stop-color="#030000"/><stop offset="0.625" stop-color="#030000"/><stop offset="0.65" stop-color="#040000"/><stop offset="0.675" stop-color="#040000"/><stop offset="0.7" stop-color="#040000"/><stop offset="0.725" stop-color="#040000"/><stop offset="0.75" stop-color="#040000"/><stop offset="0.775" stop-color="#040000"/><stop offset="0.8" stop-color="#040000"/><stop offset="0.825" stop-color="#040000"/><stop offset="0.85" stop-color="#050000"/><stop offset="0.875" stop-color="#050000"/><stop offset="0.9" stop-color="#050000"/><stop offset="0.925" stop-color="#050000"/><stop offset="0.95" stop-color="#050000"/><stop offset="0.975" stop-color="#050000"/><stop offset="1" stop-color="#050000"/></linearGradient>
<linearGradient id="g49" x1="0" x2="1" y1="0" y2="0"><stop offset="0" stop-color="#000000"/><stop offset="0.025" stop-color="#000000"/><stop offset="0.05" stop-color="#000000"/><stop offset="0.075" stop-color="#000000"/><stop offset="0.1" stop-color="#000000"/><stop offset="0.125" stop-color="#000000"/><stop offset="0.15" stop-color="#000000"/><stop offset="0.175" stop-color="#000000"/><stop offset="0.2" stop-color="#010000"/><stop offset="0.225" stop-color="#010000"/><stop offset="0.25" stop-color="#010000"/><stop offset="0.275" stop-color="#010000"/><stop offset="0.3" stop-color="#010000"/><stop offset="0.325" stop-color="#010000"/><stop offset="0.35" stop-color="#010000"/><stop offset="0.375" stop-color="#010000"/><stop offset="0.4" stop-color="#010000"/><stop offset="0.425" stop-color="#010000"/><stop offset="0.45" stop-color="#010000"/><stop offset="0.475" stop-color="#010000"/><stop offset="0.5" stop-color="#010000"/><stop offset="0.525" stop-color="#010000"/><stop offset="0.55" stop-color="#010000"/><stop offset="0.575" stop-color="#020000"/><stop offset="0.6" stop-color="#020000"/><stop offset="0.625" stop-color="#020000"/><stop offset="0.65" stop-color="#020000"/><stop offset="0.675" stop-color="#020000"/><stop offset="0.7" stop-color="#020000"/><stop offset="0.725" stop-color="#020000"/><stop offset="0.75" stop-color="#020000"/><stop offset="0.775" stop-color="#020000"/><stop offset="0.8" stop-color="#020000"/><stop offset="0.825" stop-color="#020000"/><stop offset="0.85" stop-color="#020000"/><stop offset="0.875" stop-color="#020000"/><stop offset="0.9" stop-color="#020000"/><stop offset="0.925" stop-color="#030000"/><stop offset="0.95" stop-color="#030000"/><stop offset="0.975" stop-color="#030000"/><stop offset="1" stop-color="#030000"/></linearGradient>
<linearGradient id="g50" x1="0" x2="1" y1="0" y2="0"><stop offset="0" stop-color="#ffffff"/><stop offset="0.025" stop-color="#ffffff"/><stop offset="0.05" stop-color="#ffffff"/><stop offset="0.075" stop-color="#ffffff"/><stop offset="0.1" stop-color="#ffffff"/><stop offset="0.125" stop-color="#fffff4"/><stop offset="0.15" stop-color="#ffffea"/><stop offset="0.175" stop-color="#ffffe1"/><stop offset="0.2" stop-color="#ffffd9"/><stop offset="0.225" stop-color="#ffffd1"/><stop offset="0.25" stop-color="#ffffc8"/><stop offset="0.275" stop-color="#ffffbf"/><stop offset="0.3" stop-color="#ffffb5"/><stop offset="0.325" stop-color="#ffffab"/><stop offset="0.35" stop-color="#ffffa2"/><stop offset="0.375" stop-color="#ffff98"/><stop offset="0.4" stop-color="#ffff8f"/><stop offset="0.425" stop-color="#ffff82"/><stop offset="0.45" stop-color="#ffff75"/><stop offset="0.475" stop-color="#ffff69"/><stop offset="0.5" stop-color="#ffff5a"/><stop offset="0.525" stop-color="#ffff4b"/><stop offset="0.55" stop-color="#ffff3d"/><stop offset="0.575" stop-color="#ffff30"/><stop offset="0.6" stop-color="#ffff24"/><stop offset="0.625" stop-color="#ffff1c"/><stop offset="0.65" stop-color="#ffff15"/><stop offset="0.675" stop-color="#ffff0d"/><stop offset="0.7" stop-color="#ffff06"/><stop offset="0.725" stop-color="#fffe00"/><stop offset="0.75" stop-color="#fff600"/><stop offset="0.775" stop-color="#ffef00"/><stop offset="0.8" stop-color="#ffe800"/><stop offset="0.825" stop-color="#ffe000"/><stop offset="0.85" stop-color="#ffd900"/><stop offset="0.875" stop-color="#ffd200"/><stop offset="0.9" stop-color="#ffcb00"/><stop offset="0.925" stop-color="#ffc300"/><stop offset="0.95" stop-color="#ffbc00"/><stop offset="0.975" stop-color="#ffb500"/><stop offset="1" stop-color="#ffad00"/></linearGradient>
<linearGradient id="g51" x1="0" x2="1" y1="0" y2="0"><stop offset="0" stop-color="#1b0000"/><stop offset="0.025" stop-color="#290000"/><stop offset="0.05" stop-color="#380000"/><stop offset="0.075" stop-color="#470000"/><stop offset="0.1" stop-color="#580000"/><stop offset="0.125" stop-color="#690000"/><stop offset="0.15" stop-color="#7a0000"/><stop offset="0.175" stop-color="#8d0000"/><stop offset="0.2" stop-color="#a00000"/><stop offset="0.225" stop-color="#b30000"/><stop offset="0.25" stop-color="#c60000"/><stop offset="0.275" stop-color="#db0000"/><stop offset="0.3" stop-color="#ef0000"/><stop offset="0.325" stop-color="#ff0200"/><stop offset="0.35" stop-color="#ff0e00"/><stop offset="0.375" stop-color="#ff1a00"/><stop offset="0.4" stop-color="#ff2500"/><stop offset="0.425" stop-color="#ff3200"/><stop offset="0.45" stop-color="#ff3f00"/><stop offset="0.475" stop-color="#ff4c00"/><stop offset="0.5" stop-color="#ff5500"/><stop offset="0.525" stop-color="#ff5f00"/><stop offset="0.55" stop-color="#ff6900"/><stop offset="0.575" stop-color="#ff7400"/><stop offset="0.6" stop-color="#ff7e00"/><stop offset="0.625" stop-color="#ff8400"/><stop offset="0.65" stop-color="#ff8a00"/><stop offset="0.675" stop-color="#ff9000"/><stop offset="0.7" stop-color="#ff9600"/><stop offset="0.725" stop-color="#ff9c00"/><stop offset="0.75" stop-color="#ffa100"/><stop offset="0.775" stop-color="#ffa500"/><stop offset="0.8" stop-color="#ffa900"/><stop offset="0.825" stop-color="#ffac00"/><stop offset="0.85" stop-color="#ffb000"/><stop offset="0.875" stop-color="#ffb400"/><stop offset="0.9" stop-color="#ffb800"/><stop offset="0.925" stop-color="#ffbc00"/><stop offset="0.95" stop-color="#ffc000"/><stop offset="0.975" stop-color="#ffc400"/><stop offset="1" stop-color="#ffc900"/></linearGradient>
<linearGradient id="g52" x1="0" x2="1" y1="0" y2="0"><stop offset="0" stop-color="#000000"/><stop offset="0.025" stop-color="#020000"/><stop offset="0.05" stop-color="#030000"/><stop offset="0.075" stop-color="#050000"/><stop offset="0.1" stop-color="#070000"/><stop offset="0.125" stop-color="#0d0000"/><stop offset="0.15" stop-color="#130000"/><stop offset="0.175" stop-color="#190000"/><stop offset="0.2" stop-color="#1f0000"/><stop offset="0.225" stop-color="#250000"/><stop offset="0.25" stop-color="#2a0000"/><stop offset="0.275" stop-color="#300000"/><stop offset="0.3" stop-color="#360000"/><stop offset="0.325" stop-color="#3a0000"/><stop offset="0.35" stop-color="#3d0000"/><stop offset="0.375" stop-color="#410000"/><stop offset="0.4" stop-color="#440000"/><stop offset="0.425" stop-color="#490000"/><stop offset="0.45" stop-color="#4e0000"/><stop offset="0.475" stop-color="#530000"/><stop offset="0.5" stop-color="#580000"/><stop offset="0.525" stop-color="#5d0000"/><stop offset="0.55" stop-color="#610000"/><stop offset="0.575" stop-color="#650000"/><stop offset="0.6" stop-color="#690000"/><stop offset="0.625" stop-color="#6e0000"/><stop offset="0.65" stop-color="#720000"/><stop offset="0.675" stop-color="#760000"/><stop offset="0.7" stop-color="#7a0000"/><stop offset="0.725" stop-color="#810000"/><stop offset="0.75" stop-color="#880000"/><stop offset="0.775" stop-color="#8e0000"/><stop offset="0.8" stop-color="#950000"/><stop offset="0.825" stop-color="#9c0000"/><stop offset="0.85" stop-color="#a20000"/><stop offset="0.875" stop-color="#a60000"/><stop offset="0.9" stop-color="#ab0000"/><stop offset="0.925" stop-color="#b00000"/><stop offset="0.95" stop-color="#b50000"/><stop offset="0.975" stop-color="#ba0000"/><stop offset="1" stop-color="#be0000"/></linearGradient>
<linearGradient id="g53" x1="0" x2="1" y1="0" y2="0"><stop offset="0" stop-color="#000000"/><stop offset="0.025" stop-color="#010000"/><stop offset="0.05" stop-color="#010000"/><stop offset="0.075" stop-color="#020000"/><stop offset="0.1" stop-color="#020000"/><stop offset="0.125" stop-color="#030000"/><stop offset="0.15" stop-color="#030000"/><stop offset="0.175" stop-color="#060000"/><stop offset="0.2" stop-color="#0a0000"/><stop offset="0.225" stop-color="#0e0000"/><stop offset="0.25" stop-color="#130000"/><stop offset="0.275" stop-color="#180000"/><stop offset="0.3" stop-color="#1d0000"/><stop offset="0.325" stop-color="#220000"/><stop offset="0.35" stop-color="#270000"/><stop offset="0.375" stop-color="#2d0000"/><stop offset="0.4" stop-color="#330000"/><stop offset="0.425" stop-color="#390000"/><stop offset="0.45" stop-color="#400000"/><stop offset="0.475" stop-color="#460000"/><stop offset="0.5" stop-color="#520000"/><stop offset="0.525" stop-color="#580000"/><stop offset="0.55" stop-color="#5e0000"/><stop offset="0.575" stop-color="#630000"/><stop offset="0.6" stop-color="#690000"/><stop offset="0.625" stop-color="#6f0000"/><stop offset="0.65" stop-color="#750000"/><stop offset="0.675" stop-color="#7b0000"/><stop offset="0.7" stop-color="#810000"/><stop offset="0.725" stop-color="#880000"/><stop offset="0.75" stop-color="#8f0000"/><stop offset="0.775" stop-color="#950000"/><stop offset="0.8" stop-color="#9c0000"/><stop offset="0.825" stop-color="#a30000"/><stop offset="0.85" stop-color="#a90000"/><stop offset="0.875" stop-color="#ad0000"/><stop offset="0.9" stop-color="#b20000"/><stop offset="0.925" stop-color="#b70000"/><stop offset="0.95" stop-color="#bc0000"/><stop offset="0.975" stop-color="#c00000"/><stop offset="1" stop-color="#c50000"/></linearGradient>
<linearGradient id="g54" x1="0" x2="1" y1="0" y2="0"><stop offset="0" stop-color="#000000"/><stop offset="0.025" stop-color="#000000"/><stop offset="0.05" stop-color="#010000"/><stop offset="0.075" stop-color="#010000"/><stop offset="0.1" stop-color="#010000"/><stop offset="0.125" stop-color="#010000"/><stop offset="0.15" stop-color="#020000"/><stop offset="0.175" stop-color="#020000"/><stop offset="0.2" stop-color="#020000"/><stop offset="0.225" stop-color="#030000"/><stop offset="0.25" stop-color="#030000"/><stop offset="0.275" stop-color="#030000"/><stop offset="0.3" stop-color="#030000"/><stop offset="0.325" stop-color="#050000"/><stop offset="0.35" stop-color="#070000"/><stop offset="0.375" stop-color="#080000"/><stop offset="0.4" stop-color="#0a0000"/><stop offset="0.425" stop-color="#0e0000"/><stop offset="0.45" stop-color="#110000"/><stop offset="0.475" stop-color="#140000"/><stop offset="0.5" stop-color="#180000"/><stop offset="0.525" stop-color="#1a0000"/><stop offset="0.55" stop-color="#1c0000"/><stop offset="0.575" stop-color="#1e0000"/><stop offset="0.6" stop-color="#200000"/><stop offset="0.625" stop-color="#220000"/><stop offset="0.65" stop-color="#250000"/><stop offset="0.675" stop-color="#270000"/><stop offset="0.7" stop-color="#290000"/><stop offset="0.725" stop-color="#2a0000"/><stop offset="0.75" stop-color="#2c0000"/><stop offset="0.775" stop-color="#2e0000"/><stop offset="0.8" stop-color="#300000"/><stop offset="0.825" stop-color="#310000"/><stop offset="0.85" stop-color="#330000"/><stop offset="0.875" stop-color="#350000"/><stop offset="0.9" stop-color="#360000"/><stop offset="0.925" stop-color="#380000"/><stop offset="0.95" stop-color="#3a0000"/><stop offset="0.975" stop-color="#3b0000"/><stop offset="1" stop-color="#3d0000"/></linearGradient>
<linearGradient id="g55" x1="0" x2="1" y1="0" y2="0"><stop offset="0" stop-color="#000000"/><stop offset="0.025" stop-color="#000000"/><stop offset="0.05" stop-color="#000000"/><stop offset="0.075" stop-color="#000000"/><stop offset="0.1" stop-color="#000000"/><stop offset="0.125" stop-color="#010000"/><stop offset="0.15" stop-color="#010000"/><stop offset="0.175" stop-color="#010000"/><stop offset="0.2" stop-color="#010000"/><stop offset="0.225" stop-color="#010000"/><stop offset="0.25" stop-color="#010000"/><stop offset="0.275" stop-color="#010000"/><stop offset="0.3" stop-color="#010000"/><stop offset="0.325" stop-color="#020000"/><stop offset="0.35" stop-color="#020000"/><stop offset="0.375" stop-color="#020000"/><stop offset="0.4" stop-color="#020000"/><stop offset="0.425" stop-color="#020000"/><stop offset="0.45" stop-color="#020000"/><stop offset="0.475" stop-color="#020000"/><stop offset="0.5" stop-color="#020000"/><stop offset="0.525" stop-color="#030000"/><stop offset="0.55" stop-color="#030000"/><stop offset="0.575" stop-color="#030000"/><stop offset="0.6" stop-color="#030000"/><stop offset="0.625" stop-color="#030000"/><stop offset="0.65" stop-color="#030000"/><stop offset="0.675" stop-color="#030000"/><stop offset="0.7" stop-color="#030000"/><stop offset="0.725" stop-color="#050000"/><stop offset="0.75" stop-color="#060000"/><stop offset="0.775" stop-color="#070000"/><stop offset="0.8" stop-color="#080000"/><stop offset="0.825" stop-color="#090000"/><stop offset="0.85" stop-color="#0a0000"/><stop offset="0.875" stop-color="#0b0000"/><stop offset="0.9" stop-color="#0c0000"/><stop offset="0.925" stop-color="#0e0000"/><stop offset="0.95" stop-color="#0f0000"/><stop offset="0.975" stop-color="#100000"/><stop offset="1" stop-color="#110000"/></linearGradient>
<linearGradient id="g56" x1="0" x2="1" y1="0" y2="0"><stop offset="0" stop-color="#000000"/><stop offset="0.025" stop-color="#000000"/><stop offset="0.05" stop-color="#000000"/><stop offset="0.075" stop-color="#000000"/><stop offset="0.1" stop-color="#000000"/><stop offset="0.125" stop-color="#000000"/><stop offset="0.15" stop-color="#010000"/><stop offset="0.175" stop-color="#010000"/><stop offset="0.2" stop-color="#010000"/><stop offset="0.225" stop-color="#010000"/><stop offset="0.25" stop-color="#010000"/><stop offset="0.275" stop-color="#010000"/><stop offset="0.3" stop-color="#010000"/><stop offset="0.325" stop-color="#010000"/><stop offset="0.35" stop-color="#010000"/><stop offset="0.375" stop-color="#010000"/><stop offset="0.4" stop-color="#010000"/><stop offset="0.425" stop-color="#010000"/><stop offset="0.45" stop-color="#020000"/><stop offset="0.475" stop-color="#020000"/><stop offset="0.5" stop-color="#020000"/><stop offset="0.525" stop-color="#020000"/><stop offset="0.55" stop-color="#020000"/><stop offset="0.575" stop-color="#020000"/><stop offset="0.6" stop-color="#020000"/><stop offset="0.625" stop-color="#020000"/><stop offset="0.65" stop-color="#020000"/><stop offset="0.675" stop-color="#020000"/><stop offset="0.7" stop-color="#020000"/><stop offset="0.725" stop-color="#020000"/><stop offset="0.75" stop-color="#030000"/><stop offset="0.775" stop-color="#030000"/><stop offset="0.8" stop-color="#030000"/><stop offset="0.825" stop-color="#030000"/><stop offset="0.85" stop-color="#030000"/><stop offset="0.875" stop-color="#030000"/><stop offset="0.9" stop-color="#030000"/><stop offset="0.925" stop-color="#030000"/><stop offset="0.95" stop-color="#030000"/><stop offset="0.975" stop-color="#030000"/><stop offset="1" stop-color="#030000"/></linearGradient>
<linearGradient id="g57" x1="0" x2="1" y1="0" y2="0"><stop offset="0" stop-color="#ffffff"/><stop offset="0.025" stop-color="#ffffda"/><stop offset="0.05" stop-color="#ffffb6"/><stop offset="0.075" stop-color="#ffff91"/><stop offset="0.1" stop-color="#ffff6b"/><stop offset="0.125" stop-color="#ffff45"/><stop offset="0.15" stop-color="#ffff1f"/><stop offset="0.175" stop-color="#fffa00"/><stop offset="0.2" stop-color="#ffe400"/><stop offset="0.225" stop-color="#ffcd00"/><stop offset="0.25" stop-color="#ffb900"/><stop offset="0.275" stop-color="#ffa600"/><stop offset="0.3" stop-color="#ff9200"/><stop offset="0.325" stop-color="#ff8000"/><stop offset="0.35" stop-color="#ff6d00"/><stop offset="0.375" stop-color="#ff5a00"/><stop offset="0.4" stop-color="#ff4700"/><stop offset="0.425" stop-color="#ff3900"/><stop offset="0.45" stop-color="#ff2a00"/><stop offset="0.475" stop-color="#ff1b00"/><stop offset="0.5" stop-color="#ff1000"/><stop offset="0.525" stop-color="#ff0600"/><stop offset="0.55" stop-color="#fb0000"/><stop offset="0.575" stop-color="#f20000"/><stop offset="0.6" stop-color="#e90000"/><stop offset="0.625" stop-color="#df0000"/><stop offset="0.65" stop-color="#d60000"/><stop offset="0.675" stop-color="#ce0000"/><stop offset="0.7" stop-color="#c50000"/><stop offset="0.725" stop-color="#bd0000"/><stop offset="0.75" stop-color="#b50000"/><stop offset="0.775" stop-color="#ae0000"/><stop offset="0.8" stop-color="#a70000"/><stop offset="0.825" stop-color="#a20000"/><stop offset="0.85" stop-color="#9c0000"/><stop offset="0.875" stop-color="#970000"/><stop offset="0.9" stop-color="#920000"/><stop offset="0.925" stop-color="#8f0000"/><stop offset="0.95" stop-color="#8b0000"/><stop offset="0.975" stop-color="#880000"/><stop offset="1" stop-color="#850000"/></linearGradient>
<linearGradient id="g58" x1="0" x2="1" y1="0" y2="0"><stop offset="0" stop-color="#140000"/><stop offset="0.025" stop-color="#230000"/><stop offset="0.05" stop-color="#310000"/><stop offset="0.075" stop-color="#3e0000"/><stop offset="0.1" stop-color="#4b0000"/><stop offset="0.125" stop-color="#580000"/><stop offset="0.15" stop-color="#630000"/><stop offset="0.175" stop-color="#6b0000"/><stop offset="0.2" stop-color="#740000"/><stop offset="0.225" stop-color="#7c0000"/><stop offset="0.25" stop-color="#810000"/><stop offset="0.275" stop-color="#810000"/><stop offset="0.3" stop-color="#810000"/><stop offset="0.325" stop-color="#810000"/><stop offset="0.35" stop-color="#810000"/><stop offset="0.375" stop-color="#810000"/><stop offset="0.4" stop-color="#810000"/><stop offset="0.425" stop-color="#810000"/><stop offset="0.45" stop-color="#810000"/><stop offset="0.475" stop-color="#810000"/><stop offset="0.5" stop-color="#800000"/><stop offset="0.525" stop-color="#7e0000"/><stop offset="0.55" stop-color="#7c0000"/><stop offset="0.575" stop-color="#7a0000"/><stop offset="0.6" stop-color="#780000"/><stop offset="0.625" stop-color="#760000"/><stop offset="0.65" stop-color="#740000"/><stop offset="0.675" stop-color="#720000"/><stop offset="0.7" stop-color="#700000"/><stop offset="0.725" stop-color="#6f0000"/><stop offset="0.75" stop-color="#6d0000"/><stop offset="0.775" stop-color="#6c0000"/><stop offset="0.8" stop-color="#6b0000"/><stop offset="0.825" stop-color="#690000"/><stop offset="0.85" stop-color="#680000"/><stop offset="0.875" stop-color="#660000"/><stop offset="0.9" stop-color="#650000"/><stop offset="0.925" stop-color="#630000"/><stop offset="0.95" stop-color="#620000"/><stop offset="0.975" stop-color="#610000"/><stop offset="1" stop-color="#5f0000"/></linearGradient>
<linearGradient id="g59" x1="0" x2="1" y1="0" y2="0"><stop offset="0" stop-color="#000000"/><stop offset="0.025" stop-color="#010000"/><stop offset="0.05" stop-color="#020000"/><stop offset="0.075" stop-color="#030000"/><stop offset="0.1" stop-color="#040000"/><stop offset="0.125" stop-color="#050000"/><stop offset="0.15" stop-color="#060000"/><stop offset="0.175" stop-color="#090000"/><stop offset="0.2" stop-color="#0e0000"/><stop offset="0.225" stop-color="#120000"/><stop offset="0.25" stop-color="#160000"/><stop offset="0.275" stop-color="#1a0000"/><stop offset="0.3" stop-color="#1f0000"/><stop offset="0.325" stop-color="#200000"/><stop offset="0.35" stop-color="#210000"/><stop offset="0.375" stop-color="#230000"/><stop offset="0.4" stop-color="#240000"/><stop offset="0.425" stop-color="#260000"/><stop offset="0.45" stop-color="#270000"/><stop offset="0.475" stop-color="#290000"/><stop offset="0.5" stop-color="#290000"/><stop offset="0.525" stop-color="#290000"/><stop offset="0.55" stop-color="#290000"/><stop offset="0.575" stop-color="#290000"/><stop offset="0.6" stop-color="#290000"/><stop offset="0.625" stop-color="#290000"/><stop offset="0.65" stop-color="#290000"/><stop offset="0.675" stop-color="#290000"/><stop offset="0.7" stop-color="#290000"/><stop offset="0.725" stop-color="#280000"/><stop offset="0.75" stop-color="#270000"/><stop offset="0.775" stop-color="#260000"/><stop offset="0.8" stop-color="#250000"/><stop offset="0.825" stop-color="#250000"/><stop offset="0.85" stop-color="#240000"/><stop offset="0.875" stop-color="#230000"/><stop offset="0.9" stop-color="#220000"/><stop offset="0.925" stop-color="#210000"/><stop offset="0.95" stop-color="#200000"/><stop offset="0.975" stop-color="#1f0000"/><stop offset="1" stop-color="#1f0000"/></linearGradient>
<linearGradient id="g60" x1="0" x2="1" y1="0" y2="0"><stop offset="0" stop-color="#000000"/><stop offset="0.025" stop-color="#010000"/><stop offset="0.05" stop-color="#010000"/><stop offset="0.075" stop-color="#020000"/><stop offset="0.1" stop-color="#020000"/><stop offset="0.125" stop-color="#030000"/><stop offset="0.15" stop-color="#030000"/><stop offset="0.175" stop-color="#070000"/><stop offset="0.2" stop-color="#0e0000"/><stop offset="0.225" stop-color="#140000"/><stop offset="0.25" stop-color="#180000"/><stop offset="0.275" stop-color="#190000"/><stop offset="0.3" stop-color="#1a0000"/><stop offset="0.325" stop-color="#1b0000"/><stop offset="0.35" stop-color="#1c0000"/><stop offset="0.375" stop-color="#1e0000"/><stop offset="0.4" stop-color="#1f0000"/><stop offset="0.425" stop-color="#200000"/><stop offset="0.45" stop-color="#210000"/><stop offset="0.475" stop-color="#220000"/><stop offset="0.5" stop-color="#230000"/><stop offset="0.525" stop-color="#230000"/><stop offset="0.55" stop-color="#240000"/><stop offset="0.575" stop-color="#250000"/><stop offset="0.6" stop-color="#260000"/><stop offset="0.625" stop-color="#260000"/><stop offset="0.65" stop-color="#270000"/><stop offset="0.675" stop-color="#280000"/><stop offset="0.7" stop-color="#290000"/><stop offset="0.725" stop-color="#290000"/><stop offset="0.75" stop-color="#290000"/><stop offset="0.775" stop-color="#290000"/><stop offset="0.8" stop-color="#290000"/><stop offset="0.825" stop-color="#290000"/><stop offset="0.85" stop-color="#290000"/><stop offset="0.875" stop-color="#290000"/><stop offset="0.9" stop-color="#290000"/><stop offset="0.925" stop-color="#290000"/><stop offset="0.95" stop-color="#290000"/><stop offset="0.975" stop-color="#290000"/><stop offset="1" stop-color="#290000"/></linearGradient>
<linearGradient id="g61" x1="0" x2="1" y1="0" y2="0"><stop offset="0" stop-color="#000000"/><stop offset="0.025" stop-color="#000000"/><stop offset="0.05" stop-color="#000000"/><stop offset="0.075" stop-color="#010000"/><stop offset="0.1" stop-color="#010000"/><stop offset="0.125" stop-color="#010000"/><stop offset="0.15" stop-color="#010000"/><stop offset="0.175" stop-color="#010000"/><stop offset="0.2" stop-color="#010000"/><stop offset="0.225" stop-color="#020000"/><stop offset="0.25" stop-color="#020000"/><stop offset="0.275" stop-color="#020000"/><stop offset="0.3" stop-color="#020000"/><stop offset="0.325" stop-color="#020000"/><stop offset="0.35" stop-color="#020000"/><stop offset="0.375" stop-color="#030000"/><stop offset="0.4" stop-color="#030000"/><stop offset="0.425" stop-color="#030000"/><stop offset="0.45" stop-color="#030000"/><stop offset="0.475" stop-color="#030000"/><stop offset="0.5" stop-color="#030000"/><stop offset="0.525" stop-color="#040000"/><stop offset="0.55" stop-color="#040000"/><stop offset="0.575" stop-color="#040000"/><stop offset="0.6" stop-color="#040000"/><stop offset="0.625" stop-color="#040000"/><stop offset="0.65" stop-color="#040000"/><stop offset="0.675" stop-color="#050000"/><stop offset="0.7" stop-color="#050000"/><stop offset="0.725" stop-color="#050000"/><stop offset="0.75" stop-color="#050000"/><stop offset="0.775" stop-color="#050000"/><stop offset="0.8" stop-color="#050000"/><stop offset="0.825" stop-color="#060000"/><stop offset="0.85" stop-color="#060000"/><stop offset="0.875" stop-color="#060000"/><stop offset="0.9" stop-color="#060000"/><stop offset="0.925" stop-color="#060000"/><stop offset="0.95" stop-color="#060000"/><stop offset="0.975" stop-color="#070000"/><stop offset="1" stop-color="#070000"/></linearGradient>
<linearGradient id="g62" x1="0" x2="1" y1="0" y2="0"><stop offset="0" stop-color="#000000"/><stop offset="0.025" stop-color="#000000"/><stop offset="0.05" stop-color="#000000"/><stop offset="0.075" stop-color="#000000"/><stop offset="0.1" stop-color="#000000"/><stop offset="0.125" stop-color="#000000"/><stop offset="0.15" stop-color="#010000"/><stop offset="0.175" stop-color="#010000"/><stop offset="0.2" stop-color="#010000"/><stop offset="0.225" stop-color="#010000"/><stop offset="0.25" stop-color="#010000"/><stop offset="0.275" stop-color="#010000"/><stop offset="0.3" stop-color="#010000"/><stop offset="0.325" stop-color="#010000"/><stop offset="0.35" stop-color="#010000"/><stop offset="0.375" stop-color="#010000"/><stop offset="0.4" stop-color="#010000"/><stop offset="0.425" stop-color="#010000"/><stop offset="0.45" stop-color="#020000"/><stop offset="0.475" stop-color="#020000"/><stop offset="0.5" stop-color="#020000"/><stop offset="0.525" stop-color="#020000"/><stop offset="0.55" stop-color="#020000"/><stop offset="0.575" stop-color="#020000"/><stop offset="0.6" stop-color="#020000"/><stop offset="0.625" stop-color="#020000"/><stop offset="0.65" stop-color="#020000"/><stop offset="0.675" stop-color="#020000"/><stop offset="0.7" stop-color="#020000"/><stop offset="0.725" stop-color="#020000"/><stop offset="0.75" stop-color="#030000"/><stop offset="0.775" stop-color="#030000"/><stop offset="0.8" stop-color="#030000"/><stop offset="0.825" stop-color="#030000"/><stop offset="0.85" stop-color="#030000"/><stop offset="0.875" stop-color="#030000"/><stop offset="0.9" stop-color="#030000"/><stop offset="0.925" stop-color="#030000"/><stop offset="0.95" stop-color="#030000"/><stop offset="0.975" stop-color="#030000"/><stop offset="1" stop-color="#030000"/></linearGradient>
<linearGradient id="g63" x1="0" x2="1" y1="0" y2="0"><stop offset="0" stop-color="#ffffff"/><stop offset="0.025" stop-color="#fffffc"/><stop offset="0.05" stop-color="#fffffa"/><stop offset="0.075" stop-color="#fffff7"/><stop offset="0.1" stop-color="#fffff5"/><stop offset="0.125" stop-color="#ffffee"/><stop offset="0.15" stop-color="#ffffe6"/><stop offset="0.175" stop-color="#ffffdf"/><stop offset="0.2" stop-color="#ffffd8"/><stop offset="0.225" stop-color="#ffffd0"/><stop offset="0.25" stop-color="#ffffc9"/><stop offset="0.275" stop-color="#ffffc3"/><stop offset="0.3" stop-color="#ffffbd"/><stop offset="0.325" stop-color="#ffffb6"/><stop offset="0.35" stop-color="#ffffb0"/><stop offset="0.375" stop-color="#ffffab"/><stop offset="0.4" stop-color="#ffffa7"/><stop offset="0.425" stop-color="#ffffa2"/><stop offset="0.45" stop-color="#ffff9e"/><stop offset="0.475" stop-color="#ffff9a"/><stop offset="0.5" stop-color="#ffff9a"/><stop offset="0.525" stop-color="#ffff9b"/><stop offset="0.55" stop-color="#ffff9c"/><stop offset="0.575" stop-color="#ffff9d"/><stop offset="0.6" stop-color="#ffff9f"/><stop offset="0.625" stop-color="#ffffa0"/><stop offset="0.65" stop-color="#ffffa1"/><stop offset="0.675" stop-color="#ffffa2"/><stop offset="0.7" stop-color="#ffffa3"/><stop offset="0.725" stop-color="#ffffa7"/><stop offset="0.75" stop-color="#ffffab"/><stop offset="0.775" stop-color="#ffffaf"/><stop offset="0.8" stop-color="#ffffb3"/><stop offset="0.825" stop-color="#ffffb6"/><stop offset="0.85" stop-color="#ffffba"/><stop offset="0.875" stop-color="#ffffbe"/><stop offset="0.9" stop-color="#ffffc2"/><stop offset="0.925" stop-color="#ffffc7"/><stop offset="0.95" stop-color="#ffffcc"/><stop offset="0.975" stop-color="#ffffd1"/><stop offset="1" stop-color="#ffffd6"/></linearGradient>
<linearGradient id="g64" x1="0" x2="1" y1="0" y2="0"><stop offset="0" stop-color="#1b0000"/><stop offset="0.025" stop-color="#2c0000"/><stop offset="0.05" stop-color="#3d0000"/><stop offset="0.075" stop-color="#500000"/><stop offset="0.1" stop-color="#640000"/><stop offset="0.125" stop-color="#770000"/><stop offset="0.15" stop-color="#880000"/><stop offset="0.175" stop-color="#990000"/><stop offset="0.2" stop-color="#aa0000"/><stop offset="0.225" stop-color="#bb0000"/><stop offset="0.25" stop-color="#cb0000"/><stop offset="0.275" stop-color="#d90000"/><stop offset="0.3" stop-color="#e70000"/><stop offset="0.325" stop-color="#f00000"/><stop offset="0.35" stop-color="#f80000"/><stop offset="0.375" stop-color="#fe0000"/><stop offset="0.4" stop-color="#ff0400"/><stop offset="0.425" stop-color="#ff0900"/><stop offset="0.45" stop-color="#ff0c00"/><stop offset="0.475" stop-color="#ff0d00"/><stop offset="0.5" stop-color="#ff0f00"/><stop offset="0.525" stop-color="#ff0f00"/><stop offset="0.55" stop-color="#ff0d00"/><stop offset="0.575" stop-color="#ff0b00"/><stop offset="0.6" stop-color="#ff0900"/><stop offset="0.625" stop-color="#ff0300"/><stop offset="0.65" stop-color="#fc0000"/><stop offset="0.675" stop-color="#f60000"/><stop offset="0.7" stop-color="#ee0000"/><stop offset="0.725" stop-color="#e60000"/><stop offset="0.75" stop-color="#dd0000"/><stop offset="0.775" stop-color="#d30000"/><stop offset="0.8" stop-color="#c90000"/><stop offset="0.825" stop-color="#be0000"/><stop offset="0.85" stop-color="#b40000"/><stop offset="0.875" stop-color="#aa0000"/><stop offset="0.9" stop-color="#a00000"/><stop offset="0.925" stop-color="#980000"/><stop offset="0.95" stop-color="#900000"/><stop offset="0.975" stop-color="#890000"/><stop offset="1" stop-color="#810000"/></linearGradient>
<linearGradient id="g65" x1="0" x2="1" y1="0" y2="0"><stop offset="0" stop-color="#000000"/><stop offset="0.025" stop-color="#020000"/><stop offset="0.05" stop-color="#030000"/><stop offset="0.075" stop-color="#050000"/><stop offset="0.1" stop-color="#070000"/><stop offset="0.125" stop-color="#0d0000"/><stop offset="0.15" stop-color="#130000"/><stop offset="0.175" stop-color="#190000"/><stop offset="0.2" stop-color="#1f0000"/><stop offset="0.225" stop-color="#230000"/><stop offset="0.25" stop-color="#270000"/><stop offset="0.275" stop-color="#2b0000"/><stop offset="0.3" stop-color="#300000"/><stop offset="0.325" stop-color="#330000"/><stop offset="0.35" stop-color="#360000"/><stop offset="0.375" stop-color="#3a0000"/><stop offset="0.4" stop-color="#3d0000"/><stop offset="0.425" stop-color="#400000"/><stop offset="0.45" stop-color="#430000"/><stop offset="0.475" stop-color="#470000"/><stop offset="0.5" stop-color="#480000"/><stop offset="0.525" stop-color="#490000"/><stop offset="0.55" stop-color="#4b0000"/><stop offset="0.575" stop-color="#4c0000"/><stop offset="0.6" stop-color="#4d0000"/><stop offset="0.625" stop-color="#4e0000"/><stop offset="0.65" stop-color="#4f0000"/><stop offset="0.675" stop-color="#500000"/><stop offset="0.7" stop-color="#520000"/><stop offset="0.725" stop-color="#540000"/><stop offset="0.75" stop-color="#570000"/><stop offset="0.775" stop-color="#590000"/><stop offset="0.8" stop-color="#5c0000"/><stop offset="0.825" stop-color="#5e0000"/><stop offset="0.85" stop-color="#610000"/><stop offset="0.875" stop-color="#630000"/><stop offset="0.9" stop-color="#660000"/><stop offset="0.925" stop-color="#690000"/><stop offset="0.95" stop-color="#6b0000"/><stop offset="0.975" stop-color="#6e0000"/><stop offset="1" stop-color="#700000"/></linearGradient>
<linearGradient id="g66" x1="0" x2="1" y1="0" y2="0"><stop offset="0" stop-color="#000000"/><stop offset="0.025" stop-color="#010000"/><stop offset="0.05" stop-color="#010000"/><stop offset="0.075" stop-color="#020000"/><stop offset="0.1" stop-color="#020000"/><stop offset="0.125" stop-color="#030000"/><stop offset="0.15" stop-color="#030000"/><stop offset="0.175" stop-color="#060000"/><stop offset="0.2" stop-color="#0a0000"/><stop offset="0.225" stop-color="#0e0000"/><stop offset="0.25" stop-color="#130000"/><stop offset="0.275" stop-color="#170000"/><stop offset="0.3" stop-color="#1b0000"/><stop offset="0.325" stop-color="#1f0000"/><stop offset="0.35" stop-color="#240000"/><stop offset="0.375" stop-color="#280000"/><stop offset="0.4" stop-color="#2c0000"/><stop offset="0.425" stop-color="#300000"/><stop offset="0.45" stop-color="#350000"/><stop offset="0.475" stop-color="#390000"/><stop offset="0.5" stop-color="#3c0000"/><stop offset="0.525" stop-color="#3f0000"/><stop offset="0.55" stop-color="#410000"/><stop offset="0.575" stop-color="#440000"/><stop offset="0.6" stop-color="#470000"/><stop offset="0.625" stop-color="#490000"/><stop offset="0.65" stop-color="#4c0000"/><stop offset="0.675" stop-color="#4f0000"/><stop offset="0.7" stop-color="#520000"/><stop offset="0.725" stop-color="#530000"/><stop offset="0.75" stop-color="#550000"/><stop offset="0.775" stop-color="#570000"/><stop offset="0.8" stop-color="#580000"/><stop offset="0.825" stop-color="#5a0000"/><stop offset="0.85" stop-color="#5c0000"/><stop offset="0.875" stop-color="#5e0000"/><stop offset="0.9" stop-color="#5f0000"/><stop offset="0.925" stop-color="#610000"/><stop offset="0.95" stop-color="#630000"/><stop offset="0.975" stop-color="#640000"/><stop offset="1" stop-color="#660000"/></linearGradient>
<linearGradient id="g67" x1="0" x2="1" y1="0" y2="0"><stop offset="0" stop-color="#000000"/><stop offset="0.025" stop-color="#000000"/><stop offset="0.05" stop-color="#000000"/><stop offset="0.075" stop-color="#010000"/><stop offset="0.1" stop-color="#010000"/><stop offset="0.125" stop-color="#010000"/><stop offset="0.15" stop-color="#010000"/><stop offset="0.175" stop-color="#020000"/><stop offset="0.2" stop-color="#020000"/><stop offset="0.225" stop-color="#020000"/><stop offset="0.25" stop-color="#020000"/><stop offset="0.275" stop-color="#030000"/><stop offset="0.3" stop-color="#030000"/><stop offset="0.325" stop-color="#030000"/><stop offset="0.35" stop-color="#030000"/><stop offset="0.375" stop-color="#050000"/><stop offset="0.4" stop-color="#070000"/><stop offset="0.425" stop-color="#0a0000"/><stop offset="0.45" stop-color="#0c0000"/><stop offset="0.475" stop-color="#0f0000"/><stop offset="0.5" stop-color="#110000"/><stop offset="0.525" stop-color="#120000"/><stop offset="0.55" stop-color="#130000"/><stop offset="0.575" stop-color="#140000"/><stop offset="0.6" stop-color="#160000"/><stop offset="0.625" stop-color="#170000"/><stop offset="0.65" stop-color="#180000"/><stop offset="0.675" stop-color="#190000"/><stop offset="0.7" stop-color="#1a0000"/><stop offset="0.725" stop-color="#1b0000"/><stop offset="0.75" stop-color="#1c0000"/><stop offset="0.775" stop-color="#1d0000"/><stop offset="0.8" stop-color="#1f0000"/><stop offset="0.825" stop-color="#200000"/><stop offset="0.85" stop-color="#210000"/><stop offset="0.875" stop-color="#220000"/><stop offset="0.9" stop-color="#240000"/><stop offset="0.925" stop-color="#250000"/><stop offset="0.95" stop-color="#260000"/><stop offset="0.975" stop-color="#280000"/><stop offset="1" stop-color="#290000"/></linearGradient>
<linearGradient id="g68" x1="0" x2="1" y1="0" y2="0"><stop offset="0" stop-color="#000000"/><stop offset="0.025" stop-color="#000000"/><stop offset="0.05" stop-color="#000000"/><stop offset="0.075" stop-color="#010000"/><stop offset="0.1" stop-color="#010000"/><stop offset="0.125" stop-color="#010000"/><stop offset="0.15" stop-color="#010000"/><stop offset="0.175" stop-color="#010000"/><stop offset="0.2" stop-color="#010000"/><stop offset="0.225" stop-color="#020000"/><stop offset="0.25" stop-color="#020000"/><stop offset="0.275" stop-color="#020000"/><stop offset="0.3" stop-color="#020000"/><stop offset="0.325" stop-color="#020000"/><stop offset="0.35" stop-color="#020000"/><stop offset="0.375" stop-color="#030000"/><stop offset="0.4" stop-color="#030000"/><stop offset="0.425" stop-color="#030000"/><stop offset="0.45" stop-color="#030000"/><stop offset="0.475" stop-color="#030000"/><stop offset="0.5" stop-color="#030000"/><stop offset="0.525" stop-color="#040000"/><stop offset="0.55" stop-color="#040000"/><stop offset="0.575" stop-color="#040000"/><stop offset="0.6" stop-color="#040000"/><stop offset="0.625" stop-color="#040000"/><stop offset="0.65" stop-color="#040000"/><stop offset="0.675" stop-color="#050000"/><stop offset="0.7" stop-color="#050000"/><stop offset="0.725" stop-color="#050000"/><stop offset="0.75" stop-color="#050000"/><stop offset="0.775" stop-color="#050000"/><stop offset="0.8" stop-color="#050000"/><stop offset="0.825" stop-color="#060000"/><stop offset="0.85" stop-color="#060000"/><stop offset="0.875" stop-color="#060000"/><stop offset="0.9" stop-color="#060000"/><stop offset="0.925" stop-color="#060000"/><stop offset="0.95" stop-color="#060000"/><stop offset="0.975" stop-color="#070000"/><stop offset="1" stop-color="#070000"/></linearGradient>
<linearGradient id="g69" x1="0" x2="1" y1="0" y2="0"><stop offset="0" stop-color="#000000"/><stop offset="0.025" stop-color="#000000"/><stop offset="0.05" stop-color="#000000"/><stop offset="0.075" stop-color="#000000"/><stop offset="0.1" stop-color="#000000"/><stop offset="0.125" stop-color="#000000"/><stop offset="0.15" stop-color="#000000"/><stop offset="0.175" stop-color="#000000"/><stop offset="0.2" stop-color="#010000"/><stop offset="0.225" stop-color="#010000"/><stop offset="0.25" stop-color="#010000"/><stop offset="0.275" stop-color="#010000"/><stop offset="0.3" stop-color="#010000"/><stop offset="0.325" stop-color="#010000"/><stop offset="0.35" stop-color="#010000"/><stop offset="0.375" stop-color="#010000"/><stop offset="0.4" stop-color="#010000"/><stop offset="0.425" stop-color="#010000"/><stop offset="0.45" stop-color="#010000"/><stop offset="0.475" stop-color="#010000"/><stop offset="0.5" stop-color="#010000"/><stop offset="0.525" stop-color="#010000"/><stop offset="0.55" stop-color="#010000"/><stop offset="0.575" stop-color="#020000"/><stop offset="0.6" stop-color="#020000"/><stop offset="0.625" stop-color="#020000"/><stop offset="0.65" stop-color="#020000"/><stop offset="0.675" stop-color="#020000"/><stop offset="0.7" stop-color="#020000"/><stop offset="0.725" stop-color="#020000"/><stop offset="0.75" stop-color="#020000"/><stop offset="0.775" stop-color="#020000"/><stop offset="0.8" stop-color="#020000"/><stop offset="0.825" stop-color="#020000"/><stop offset="0.85" stop-color="#020000"/><stop offset="0.875" stop-color="#020000"/><stop offset="0.9" stop-color="#020000"/><stop offset="0.925" stop-color="#030000"/><stop offset="0.95" stop-color="#030000"/><stop offset="0.975" stop-color="#030000"/><stop offset="1" stop-color="#030000"/></linearGradient>
<linearGradient id="g70" x1="0" x2="1" y1="0" y2="0"><stop offset="0" stop-color="#ffffff"/><stop offset="0.025" stop-color="#ffffda"/><stop offset="0.05" stop-color="#ffffb6"/><stop offset="0.075" stop-color="#ffff91"/><stop offset="0.1" stop-color="#ffff6b"/><stop offset="0.125" stop-color="#ffff45"/><stop offset="0.15" stop-color="#ffff1f"/><stop offset="0.175" stop-color="#fffa00"/><stop offset="0.2" stop-color="#ffe400"/><stop offset="0.225" stop-color="#ffcd00"/><stop offset="0.25" stop-color="#ffba00"/><stop offset="0.275" stop-color="#ffa800"/><stop offset="0.3" stop-color="#ff9600"/><stop offset="0.325" stop-color="#ff8400"/><stop offset="0.35" stop-color="#ff7200"/><stop offset="0.375" stop-color="#ff6000"/><stop offset="0.4" stop-color="#ff4e00"/><stop offset="0.425" stop-color="#ff4300"/><stop offset="0.45" stop-color="#ff3700"/><stop offset="0.475" stop-color="#ff2b00"/><stop offset="0.5" stop-color="#ff2100"/><stop offset="0.525" stop-color="#ff1700"/><stop offset="0.55" stop-color="#ff0e00"/><stop offset="0.575" stop-color="#ff0500"/><stop offset="0.6" stop-color="#fc0000"/><stop offset="0.625" stop-color="#f30000"/><stop offset="0.65" stop-color="#eb0000"/><stop offset="0.675" stop-color="#e20000"/><stop offset="0.7" stop-color="#da0000"/><stop offset="0.725" stop-color="#d10000"/><stop offset="0.75" stop-color="#c90000"/><stop offset="0.775" stop-color="#c00000"/><stop offset="0.8" stop-color="#b80000"/><stop offset="0.825" stop-color="#b10000"/><stop offset="0.85" stop-color="#aa0000"/><stop offset="0.875" stop-color="#a30000"/><stop offset="0.9" stop-color="#9c0000"/><stop offset="0.925" stop-color="#980000"/><stop offset="0.95" stop-color="#940000"/><stop offset="0.975" stop-color="#900000"/><stop offset="1" stop-color="#8b0000"/></linearGradient>
<linearGradient id="g71" x1="0" x2="1" y1="0" y2="0"><stop offset="0" stop-color="#140000"/><stop offset="0.025" stop-color="#200000"/><stop offset="0.05" stop-color="#2b0000"/><stop offset="0.075" stop-color="#360000"/><stop offset="0.1" stop-color="#3f0000"/><stop offset="0.125" stop-color="#480000"/><stop offset="0.15" stop-color="#4a0000"/><stop offset="0.175" stop-color="#4c0000"/><stop offset="0.2" stop-color="#4e0000"/><stop offset="0.225" stop-color="#500000"/><stop offset="0.25" stop-color="#510000"/><stop offset="0.275" stop-color="#500000"/><stop offset="0.3" stop-color="#4f0000"/><stop offset="0.325" stop-color="#4e0000"/><stop offset="0.35" stop-color="#4d0000"/><stop offset="0.375" stop-color="#4c0000"/><stop offset="0.4" stop-color="#4b0000"/><stop offset="0.425" stop-color="#4a0000"/><stop offset="0.45" stop-color="#490000"/><stop offset="0.475" stop-color="#480000"/><stop offset="0.5" stop-color="#460000"/><stop offset="0.525" stop-color="#440000"/><stop offset="0.55" stop-color="#420000"/><stop offset="0.575" stop-color="#400000"/><stop offset="0.6" stop-color="#3e0000"/><stop offset="0.625" stop-color="#3c0000"/><stop offset="0.65" stop-color="#3a0000"/><stop offset="0.675" stop-color="#380000"/><stop offset="0.7" stop-color="#360000"/><stop offset="0.725" stop-color="#350000"/><stop offset="0.75" stop-color="#340000"/><stop offset="0.775" stop-color="#330000"/><stop offset="0.8" stop-color="#320000"/><stop offset="0.825" stop-color="#310000"/><stop offset="0.85" stop-color="#300000"/><stop offset="0.875" stop-color="#2e0000"/><stop offset="0.9" stop-color="#2d0000"/><stop offset="0.925" stop-color="#2c0000"/><stop offset="0.95" stop-color="#2b0000"/><stop offset="0.975" stop-color="#2a0000"/><stop offset="1" stop-color="#290000"/></linearGradient>
<linearGradient id="g72" x1="0" x2="1" y1="0" y2="0"><stop offset="0" stop-color="#000000"/><stop offset="0.025" stop-color="#010000"/><stop offset="0.05" stop-color="#030000"/><stop offset="0.075" stop-color="#040000"/><stop offset="0.1" stop-color="#050000"/><stop offset="0.125" stop-color="#060000"/><stop offset="0.15" stop-color="#080000"/><stop offset="0.175" stop-color="#090000"/><stop offset="0.2" stop-color="#0a0000"/><stop offset="0.225" stop-color="#0b0000"/><stop offset="0.25" stop-color="#0b0000"/><stop offset="0.275" stop-color="#0c0000"/><stop offset="0.3" stop-color="#0c0000"/><stop offset="0.325" stop-color="#0d0000"/><stop offset="0.35" stop-color="#0e0000"/><stop offset="0.375" stop-color="#0e0000"/><stop offset="0.4" stop-color="#0f0000"/><stop offset="0.425" stop-color="#0f0000"/><stop offset="0.45" stop-color="#100000"/><stop offset="0.475" stop-color="#100000"/><stop offset="0.5" stop-color="#110000"/><stop offset="0.525" stop-color="#110000"/><stop offset="0.55" stop-color="#110000"/><stop offset="0.575" stop-color="#100000"/><stop offset="0.6" stop-color="#100000"/><stop offset="0.625" stop-color="#100000"/><stop offset="0.65" stop-color="#100000"/><stop offset="0.675" stop-color="#100000"/><stop offset="0.7" stop-color="#100000"/><stop offset="0.725" stop-color="#0f0000"/><stop offset="0.75" stop-color="#0f0000"/><stop offset="0.775" stop-color="#0f0000"/><stop offset="0.8" stop-color="#0f0000"/><stop offset="0.825" stop-color="#0f0000"/><stop offset="0.85" stop-color="#0f0000"/><stop offset="0.875" stop-color="#0e0000"/><stop offset="0.9" stop-color="#0e0000"/><stop offset="0.925" stop-color="#0e0000"/><stop offset="0.95" stop-color="#0e0000"/><stop offset="0.975" stop-color="#0e0000"/><stop offset="1" stop-color="#0e0000"/></linearGradient>
<linearGradient id="g73" x1="0" x2="1" y1="0" y2="0"><stop offset="0" stop-color="#000000"/><stop offset="0.025" stop-color="#000000"/><stop offset="0.05" stop-color="#010000"/><stop offset="0.075" stop-color="#010000"/><stop offset="0.1" stop-color="#020000"/><stop offset="0.125" stop-color="#020000"/><stop offset="0.15" stop-color="#030000"/><stop offset="0.175" stop-color="#030000"/><stop offset="0.2" stop-color="#030000"/><stop offset="0.225" stop-color="#070000"/><stop offset="0.25" stop-color="#0a0000"/><stop offset="0.275" stop-color="#0e0000"/><stop offset="0.3" stop-color="#110000"/><stop offset="0.325" stop-color="#110000"/><stop offset="0.35" stop-color="#120000"/><stop offset="0.375" stop-color="#120000"/><stop offset="0.4" stop-color="#130000"/><stop offset="0.425" stop-color="#130000"/><stop offset="0.45" stop-color="#140000"/><stop offset="0.475" stop-color="#140000"/><stop offset="0.5" stop-color="#140000"/><stop offset="0.525" stop-color="#140000"/><stop offset="0.55" stop-color="#140000"/><stop offset="0.575" stop-color="#130000"/><stop offset="0.6" stop-color="#130000"/><stop offset="0.625" stop-color="#120000"/><stop offset="0.65" stop-color="#120000"/><stop offset="0.675" stop-color="#110000"/><stop offset="0.7" stop-color="#110000"/><stop offset="0.725" stop-color="#100000"/><stop offset="0.75" stop-color="#100000"/><stop offset="0.775" stop-color="#0f0000"/><stop offset="0.8" stop-color="#0e0000"/><stop offset="0.825" stop-color="#0d0000"/><stop offset="0.85" stop-color="#0d0000"/><stop offset="0.875" stop-color="#0c0000"/><stop offset="0.9" stop-color="#0b0000"/><stop offset="0.925" stop-color="#0a0000"/><stop offset="0.95" stop-color="#0a0000"/><stop offset="0.975" stop-color="#090000"/><stop offset="1" stop-color="#080000"/></linearGradient>
<linearGradient id="g74" x1="0" x2="1" y1="0" y2="0"><stop offset="0" stop-color="#000000"/><stop offset="0.025" stop-color="#000000"/><stop offset="0.05" stop-color="#000000"/><stop offset="0.075" stop-color="#000000"/><stop offset="0.1" stop-color="#000000"/><stop offset="0.125" stop-color="#000000"/><stop offset="0.15" stop-color="#000000"/><stop offset="0.175" stop-color="#000000"/><stop offset="0.2" stop-color="#010000"/><stop offset="0.225" stop-color="#010000"/><stop offset="0.25" stop-color="#010000"/><stop offset="0.275" stop-color="#010000"/><stop offset="0.3" stop-color="#010000"/><stop offset="0.325" stop-color="#010000"/><stop offset="0.35" stop-color="#010000"/><stop offset="0.375" stop-color="#010000"/><stop offset="0.4" stop-color="#010000"/><stop offset="0.425" stop-color="#010000"/><stop offset="0.45" stop-color="#010000"/><stop offset="0.475" stop-color="#010000"/><stop offset="0.5" stop-color="#010000"/><stop offset="0.525" stop-color="#010000"/><stop offset="0.55" stop-color="#010000"/><stop offset="0.575" stop-color="#020000"/><stop offset="0.6" stop-color="#020000"/><stop offset="0.625" stop-color="#020000"/><stop offset="0.65" stop-color="#020000"/><stop offset="0.675" stop-color="#020000"/><stop offset="0.7" stop-color="#020000"/><stop offset="0.725" stop-color="#020000"/><stop offset="0.75" stop-color="#020000"/><stop offset="0.775" stop-color="#020000"/><stop offset="0.8" stop-color="#020000"/><stop offset="0.825" stop-color="#020000"/><stop offset="0.85" stop-color="#020000"/><stop offset="0.875" stop-color="#020000"/><stop offset="0.9" stop-color="#020000"/><stop offset="0.925" stop-color="#030000"/><stop offset="0.95" stop-color="#030000"/><stop offset="0.975" stop-color="#030000"/><stop offset="1" stop-color="#030000"/></linearGradient>
<linearGradient id="g75" x1="0" x2="1" y1="0" y2="0"><stop offset="0" stop-color="#ffffff"/><stop offset="0.025" stop-color="#fffffd"/><stop offset="0.05" stop-color="#fffffb"/><stop offset="0.075" stop-color="#fffff9"/><stop offset="0.1" stop-color="#fffff7"/><stop offset="0.125" stop-color="#fffff5"/><stop offset="0.15" stop-color="#fffff4"/><stop offset="0.175" stop-color="#fffff2"/><stop offset="0.2" stop-color="#fffff0"/><stop offset="0.225" stop-color="#ffffeb"/><stop offset="0.25" stop-color="#ffffe7"/><stop offset="0.275" stop-color="#ffffe2"/><stop offset="0.3" stop-color="#ffffdd"/><stop offset="0.325" stop-color="#ffffd9"/><stop offset="0.35" stop-color="#ffffd8"/><stop offset="0.375" stop-color="#ffffdb"/><stop offset="0.4" stop-color="#ffffdf"/><stop offset="0.425" stop-color="#ffffe3"/><stop offset="0.45" stop-color="#ffffe6"/><stop offset="0.475" stop-color="#ffffea"/><stop offset="0.5" stop-color="#ffffee"/><stop offset="0.525" stop-color="#fffff2"/><stop offset="0.55" stop-color="#fffff7"/><stop offset="0.575" stop-color="#fffffb"/><stop offset="0.6" stop-color="#ffffff"/><stop offset="0.625" stop-color="#ffffff"/><stop offset="0.65" stop-color="#ffffff"/><stop offset="0.675" stop-color="#ffffff"/><stop offset="0.7" stop-color="#ffffff"/><stop offset="0.725" stop-color="#ffffff"/><stop offset="0.75" stop-color="#ffffff"/><stop offset="0.775" stop-color="#fffffc"/><stop offset="0.8" stop-color="#fffff7"/><stop offset="0.825" stop-color="#fffff3"/><stop offset="0.85" stop-color="#ffffef"/><stop offset="0.875" stop-color="#ffffec"/><stop offset="0.9" stop-color="#ffffea"/><stop offset="0.925" stop-color="#ffffe8"/><stop offset="0.95" stop-color="#ffffe5"/><stop offset="0.975" stop-color="#ffffe3"/><stop offset="1" stop-color="#ffffe0"/></linearGradient>
<linearGradient id="g76" x1="0" x2="1" y1="0" y2="0"><stop offset="0" stop-color="#1b0000"/><stop offset="0.025" stop-color="#290000"/><stop offset="0.05" stop-color="#380000"/><stop offset="0.075" stop-color="#460000"/><stop offset="0.1" stop-color="#540000"/><stop offset="0.125" stop-color="#620000"/><stop offset="0.15" stop-color="#710000"/><stop offset="0.175" stop-color="#800000"/><stop offset="0.2" stop-color="#8f0000"/><stop offset="0.225" stop-color="#980000"/><stop offset="0.25" stop-color="#a20000"/><stop offset="0.275" stop-color="#ab0000"/><stop offset="0.3" stop-color="#af0000"/><stop offset="0.325" stop-color="#b10000"/><stop offset="0.35" stop-color="#b30000"/><stop offset="0.375" stop-color="#b20000"/><stop offset="0.4" stop-color="#af0000"/><stop offset="0.425" stop-color="#ac0000"/><stop offset="0.45" stop-color="#a60000"/><stop offset="0.475" stop-color="#9b0000"/><stop offset="0.5" stop-color="#910000"/><stop offset="0.525" stop-color="#850000"/><stop offset="0.55" stop-color="#740000"/><stop offset="0.575" stop-color="#630000"/><stop offset="0.6" stop-color="#4c0000"/><stop offset="0.625" stop-color="#340000"/><stop offset="0.65" stop-color="#220000"/><stop offset="0.675" stop-color="#160000"/><stop offset="0.7" stop-color="#210000"/><stop offset="0.725" stop-color="#2c0000"/><stop offset="0.75" stop-color="#3d0000"/><stop offset="0.775" stop-color="#4e0000"/><stop offset="0.8" stop-color="#5b0000"/><stop offset="0.825" stop-color="#660000"/><stop offset="0.85" stop-color="#700000"/><stop offset="0.875" stop-color="#790000"/><stop offset="0.9" stop-color="#810000"/><stop offset="0.925" stop-color="#8d0000"/><stop offset="0.95" stop-color="#980000"/><stop offset="0.975" stop-color="#a20000"/><stop offset="1" stop-color="#aa0000"/></linearGradient>
<linearGradient id="g77" x1="0" x2="1" y1="0" y2="0"><stop offset="0" stop-color="#000000"/><stop offset="0.025" stop-color="#010000"/><stop offset="0.05" stop-color="#020000"/><stop offset="0.075" stop-color="#030000"/><stop offset="0.1" stop-color="#080000"/><stop offset="0.125" stop-color="#0f0000"/><stop offset="0.15" stop-color="#150000"/><stop offset="0.175" stop-color="#1a0000"/><stop offset="0.2" stop-color="#1e0000"/><stop offset="0.225" stop-color="#210000"/><stop offset="0.25" stop-color="#250000"/><stop offset="0.275" stop-color="#290000"/><stop offset="0.3" stop-color="#2d0000"/><stop offset="0.325" stop-color="#300000"/><stop offset="0.35" stop-color="#300000"/><stop offset="0.375" stop-color="#300000"/><stop offset="0.4" stop-color="#300000"/><stop offset="0.425" stop-color="#300000"/><stop offset="0.45" stop-color="#300000"/><stop offset="0.475" stop-color="#300000"/><stop offset="0.5" stop-color="#300000"/><stop offset="0.525" stop-color="#300000"/><stop offset="0.55" stop-color="#300000"/><stop offset="0.575" stop-color="#300000"/><stop offset="0.6" stop-color="#300000"/><stop offset="0.625" stop-color="#300000"/><stop offset="0.65" stop-color="#300000"/><stop offset="0.675" stop-color="#300000"/><stop offset="0.7" stop-color="#300000"/><stop offset="0.725" stop-color="#2e0000"/><stop offset="0.75" stop-color="#2d0000"/><stop offset="0.775" stop-color="#2c0000"/><stop offset="0.8" stop-color="#2b0000"/><stop offset="0.825" stop-color="#2a0000"/><stop offset="0.85" stop-color="#2a0000"/><stop offset="0.875" stop-color="#2c0000"/><stop offset="0.9" stop-color="#2e0000"/><stop offset="0.925" stop-color="#300000"/><stop offset="0.95" stop-color="#320000"/><stop offset="0.975" stop-color="#340000"/><stop offset="1" stop-color="#360000"/></linearGradient>
<linearGradient id="g78" x1="0" x2="1" y1="0" y2="0"><stop offset="0" stop-color="#000000"/><stop offset="0.025" stop-color="#000000"/><stop offset="0.05" stop-color="#010000"/><stop offset="0.075" stop-color="#010000"/><stop offset="0.1" stop-color="#020000"/><stop offset="0.125" stop-color="#020000"/><stop offset="0.15" stop-color="#040000"/><stop offset="0.175" stop-color="#060000"/><stop offset="0.2" stop-color="#080000"/><stop offset="0.225" stop-color="#0c0000"/><stop offset="0.25" stop-color="#0f0000"/><stop offset="0.275" stop-color="#130000"/><stop offset="0.3" stop-color="#160000"/><stop offset="0.325" stop-color="#1a0000"/><stop offset="0.35" stop-color="#1d0000"/><stop offset="0.375" stop-color="#210000"/><stop offset="0.4" stop-color="#240000"/><stop offset="0.425" stop-color="#280000"/><stop offset="0.45" stop-color="#2b0000"/><stop offset="0.475" stop-color="#2f0000"/><stop offset="0.5" stop-color="#300000"/><stop offset="0.525" stop-color="#300000"/><stop offset="0.55" stop-color="#300000"/><stop offset="0.575" stop-color="#300000"/><stop offset="0.6" stop-color="#300000"/><stop offset="0.625" stop-color="#300000"/><stop offset="0.65" stop-color="#300000"/><stop offset="0.675" stop-color="#300000"/><stop offset="0.7" stop-color="#300000"/><stop offset="0.725" stop-color="#310000"/><stop offset="0.75" stop-color="#320000"/><stop offset="0.775" stop-color="#330000"/><stop offset="0.8" stop-color="#340000"/><stop offset="0.825" stop-color="#360000"/><stop offset="0.85" stop-color="#370000"/><stop offset="0.875" stop-color="#3a0000"/><stop offset="0.9" stop-color="#3d0000"/><stop offset="0.925" stop-color="#3f0000"/><stop offset="0.95" stop-color="#420000"/><stop offset="0.975" stop-color="#450000"/><stop offset="1" stop-color="#470000"/></linearGradient>
<linearGradient id="g79" x1="0" x2="1" y1="0" y2="0"><stop offset="0" stop-color="#000000"/><stop offset="0.025" stop-color="#000000"/><stop offset="0.05" stop-color="#000000"/><stop offset="0.075" stop-color="#010000"/><stop offset="0.1" stop-color="#010000"/><stop offset="0.125" stop-color="#010000"/><stop offset="0.15" stop-color="#010000"/><stop offset="0.175" stop-color="#010000"/><stop offset="0.2" stop-color="#010000"/><stop offset="0.225" stop-color="#020000"/><stop offset="0.25" stop-color="#020000"/><stop offset="0.275" stop-color="#020000"/><stop offset="0.3" stop-color="#020000"/><stop offset="0.325" stop-color="#040000"/><stop offset="0.35" stop-color="#060000"/><stop offset="0.375" stop-color="#080000"/><stop offset="0.4" stop-color="#0a0000"/><stop offset="0.425" stop-color="#0c0000"/><stop offset="0.45" stop-color="#0f0000"/><stop offset="0.475" stop-color="#110000"/><stop offset="0.5" stop-color="#110000"/><stop offset="0.525" stop-color="#120000"/><stop offset="0.55" stop-color="#120000"/><stop offset="0.575" stop-color="#130000"/><stop offset="0.6" stop-color="#140000"/><stop offset="0.625" stop-color="#140000"/><stop offset="0.65" stop-color="#150000"/><stop offset="0.675" stop-color="#150000"/><stop offset="0.7" stop-color="#160000"/><stop offset="0.725" stop-color="#160000"/><stop offset="0.75" stop-color="#170000"/><stop offset="0.775" stop-color="#170000"/><stop offset="0.8" stop-color="#180000"/><stop offset="0.825" stop-color="#190000"/><stop offset="0.85" stop-color="#1a0000"/><stop offset="0.875" stop-color="#1a0000"/><stop offset="0.9" stop-color="#1b0000"/><stop offset="0.925" stop-color="#1c0000"/><stop offset="0.95" stop-color="#1d0000"/><stop offset="0.975" stop-color="#1e0000"/><stop offset="1" stop-color="#1f0000"/></linearGradient>
<linearGradient id="g80" x1="0" x2="1" y1="0" y2="0"><stop offset="0" stop-color="#000000"/><stop offset="0.025" stop-color="#000000"/><stop offset="0.05" stop-color="#000000"/><stop offset="0.075" stop-color="#010000"/><stop offset="0.1" stop-color="#010000"/><stop offset="0.125" stop-color="#010000"/><stop offset="0.15" stop-color="#010000"/><stop offset="0.175" stop-color="#010000"/><stop offset="0.2" stop-color="#020000"/><stop offset="0.225" stop-color="#020000"/><stop offset="0.25" stop-color="#020000"/><stop offset="0.275" stop-color="#020000"/><stop offset="0.3" stop-color="#020000"/><stop offset="0.325" stop-color="#030000"/><stop offset="0.35" stop-color="#030000"/><stop offset="0.375" stop-color="#030000"/><stop offset="0.4" stop-color="#030000"/><stop offset="0.425" stop-color="#030000"/><stop offset="0.45" stop-color="#040000"/><stop offset="0.475" stop-color="#040000"/><stop offset="0.5" stop-color="#040000"/><stop offset="0.525" stop-color="#040000"/><stop offset="0.55" stop-color="#040000"/><stop offset="0.575" stop-color="#050000"/><stop offset="0.6" stop-color="#050000"/><stop offset="0.625" stop-color="#050000"/><stop offset="0.65" stop-color="#050000"/><stop offset="0.675" stop-color="#060000"/><stop offset="0.7" stop-color="#060000"/><stop offset="0.725" stop-color="#060000"/><stop offset="0.75" stop-color="#060000"/><stop offset="0.775" stop-color="#060000"/><stop offset="0.8" stop-color="#070000"/><stop offset="0.825" stop-color="#070000"/><stop offset="0.85" stop-color="#070000"/><stop offset="0.875" stop-color="#070000"/><stop offset="0.9" stop-color="#070000"/><stop offset="0.925" stop-color="#080000"/><stop offset="0.95" stop-color="#080000"/><stop offset="0.975" stop-color="#080000"/><stop offset="1" stop-color="#080000"/></linearGradient>
<linearGradient id="g81" x1="0" x2="1" y1="0" y2="0"><stop offset="0" stop-color="#000000"/><stop offset="0.025" stop-color="#000000"/><stop offset="0.05" stop-color="#000000"/><stop offset="0.075" stop-color="#000000"/><stop offset="0.1" stop-color="#010000"/><stop offset="0.125" stop-color="#010000"/><stop offset="0.15" stop-color="#010000"/><stop offset="0.175" stop-color="#010000"/><stop offset="0.2" stop-color="#010000"/><stop offset="0.225" stop-color="#010000"/><stop offset="0.25" stop-color="#010000"/><stop offset="0.275" stop-color="#010000"/><stop offset="0.3" stop-color="#020000"/><stop offset="0.325" stop-color="#020000"/><stop offset="0.35" stop-color="#020000"/><stop offset="0.375" stop-color="#020000"/><stop offset="0.4" stop-color="#020000"/><stop offset="0.425" stop-color="#020000"/><stop offset="0.45" stop-color="#020000"/><stop offset="0.475" stop-color="#030000"/><stop offset="0.5" stop-color="#030000"/><stop offset="0.525" stop-color="#030000"/><stop offset="0.55" stop-color="#030000"/><stop offset="0.575" stop-color="#030000"/><stop offset="0.6" stop-color="#030000"/><stop offset="0.625" stop-color="#030000"/><stop offset="0.65" stop-color="#040000"/><stop offset="0.675" stop-color="#040000"/><stop offset="0.7" stop-color="#040000"/><stop offset="0.725" stop-color="#040000"/><stop offset="0.75" stop-color="#040000"/><stop offset="0.775" stop-color="#040000"/><stop offset="0.8" stop-color="#040000"/><stop offset="0.825" stop-color="#040000"/><stop offset="0.85" stop-color="#050000"/><stop offset="0.875" stop-color="#050000"/><stop offset="0.9" stop-color="#050000"/><stop offset="0.925" stop-color="#050000"/><stop offset="0.95" stop-color="#050000"/><stop offset="0.975" stop-color="#050000"/><stop offset="1" stop-color="#050000"/></linearGradient>
</defs>
<rect width="685" height="987" fill="#fff"/>
<g fill="#000">
<text x="-0.6" y="16.1" font-size="22" font-weight="bold">a</text>
<text x="318.5" y="16.1" font-size="22" font-weight="bold">b</text>
<text x="-0.5" y="765.9" font-size="22" font-weight="bold">c</text>
<text x="159.2" y="17.4" font-size="17.05" text-anchor="middle">Measurement</text>
<text x="502.5" y="17.6" font-size="16.6" text-anchor="middle">Theory</text>
<rect x="18.5" y="28.5" width="664.8" height="97.5" fill="none" stroke="#6a209e" stroke-width="3"/>
<rect x="19.9" y="153.3" width="663.5" height="385.8" fill="none" stroke="#006ab6" stroke-width="3"/>
<rect x="19.9" y="568.5" width="664" height="139.5" fill="none" stroke="#d5480d" stroke-width="3"/>
<text x="342.7" y="145.8" font-size="17.2" text-anchor="middle" fill="#6a209e">weak nonlinearity</text>
<text x="342.7" y="560.4" font-size="17.2" text-anchor="middle" fill="#006ab6">medium nonlinearity</text>
<text x="342.7" y="732.1" font-size="17.2" text-anchor="middle" fill="#d5480d">strong nonlinearity</text>
<rect x="42.85" y="38.30" width="271.35" height="72.70" fill="#000"/>
<rect x="42.85" y="38.25" width="271.35" height="10.49" fill="url(#g1)"/>
<rect x="42.85" y="48.64" width="271.35" height="10.49" fill="url(#g2)"/>
<rect x="42.85" y="59.02" width="271.35" height="10.49" fill="url(#g3)"/>
<rect x="42.85" y="69.41" width="271.35" height="10.49" fill="url(#g4)"/>
<rect x="42.85" y="79.79" width="271.35" height="10.49" fill="url(#g5)"/>
<rect x="42.85" y="90.18" width="271.35" height="10.49" fill="url(#g6)"/>
<rect x="42.85" y="100.56" width="271.35" height="10.49" fill="url(#g7)"/>
<path d="M50.61 38.30v72.70M58.37 38.30v72.70M66.13 38.30v72.70M73.89 38.30v72.70M81.65 38.30v72.70M89.41 38.30v72.70M97.17 38.30v72.70M104.93 38.30v72.70M112.69 38.30v72.70M120.45 38.30v72.70M128.21 38.30v72.70M135.97 38.30v72.70M143.73 38.30v72.70M151.49 38.30v72.70M159.25 38.30v72.70M167.01 38.30v72.70M174.77 38.30v72.70M182.53 38.30v72.70M190.29 38.30v72.70M198.05 38.30v72.70M205.81 38.30v72.70M213.57 38.30v72.70M221.33 38.30v72.70M229.09 38.30v72.70M236.85 38.30v72.70M244.61 38.30v72.70M252.37 38.30v72.70M260.13 38.30v72.70M267.89 38.30v72.70M275.65 38.30v72.70M283.41 38.30v72.70M291.17 38.30v72.70M298.93 38.30v72.70M306.69 38.30v72.70" stroke="#fff" stroke-opacity="0.085" stroke-width="0.8" fill="none"/>
<path d="M42.85 48.69h271.35M42.85 59.07h271.35M42.85 69.46h271.35M42.85 79.84h271.35M42.85 90.23h271.35M42.85 100.61h271.35" stroke="#fff" stroke-opacity="0.06" stroke-width="0.8" fill="none"/>
<line x1="287.06" y1="38.30" x2="287.06" y2="111.00" stroke="#cfcfcf" stroke-width="1.4" stroke-dasharray="8 6.8" stroke-dashoffset="9.8"/>
<rect x="42.85" y="38.30" width="271.35" height="72.70" fill="none" stroke="#000" stroke-width="1.5"/>
<line x1="36.85" y1="43.49" x2="42.85" y2="43.49" stroke="#000" stroke-width="1.5"/>
<text x="32.45" y="49.24" font-size="16" text-anchor="end">1</text>
<line x1="36.85" y1="74.65" x2="42.85" y2="74.65" stroke="#000" stroke-width="1.5"/>
<text x="32.45" y="80.40" font-size="16" text-anchor="end">4</text>
<line x1="36.85" y1="105.81" x2="42.85" y2="105.81" stroke="#000" stroke-width="1.5"/>
<text x="32.45" y="111.56" font-size="16" text-anchor="end">7</text>
<line x1="42.85" y1="111.00" x2="42.85" y2="117.70" stroke="#000" stroke-width="1.5"/>
<line x1="97.12" y1="111.00" x2="97.12" y2="117.70" stroke="#000" stroke-width="1.5"/>
<line x1="151.39" y1="111.00" x2="151.39" y2="117.70" stroke="#000" stroke-width="1.5"/>
<line x1="205.66" y1="111.00" x2="205.66" y2="117.70" stroke="#000" stroke-width="1.5"/>
<line x1="259.93" y1="111.00" x2="259.93" y2="117.70" stroke="#000" stroke-width="1.5"/>
<line x1="314.20" y1="111.00" x2="314.20" y2="117.70" stroke="#000" stroke-width="1.5"/>
<text transform="translate(53.25 104.40) scale(1 0.84)" font-size="13.8" font-style="italic" fill="#e6e6e6">ψ</text>
<text x="62.15" y="103.90" font-size="13.8" fill="#e6e6e6"><tspan font-size="10.3" dy="3">0</tspan><tspan dy="-3"> = 0.02 V</tspan></text>
<rect x="362.50" y="38.30" width="271.40" height="72.70" fill="#000"/>
<rect x="362.50" y="38.25" width="271.40" height="10.49" fill="url(#g8)"/>
<rect x="362.50" y="48.64" width="271.40" height="10.49" fill="url(#g9)"/>
<rect x="362.50" y="59.02" width="271.40" height="10.49" fill="url(#g10)"/>
<rect x="362.50" y="69.41" width="271.40" height="10.49" fill="url(#g11)"/>
<rect x="362.50" y="79.79" width="271.40" height="10.49" fill="url(#g12)"/>
<rect x="362.50" y="90.18" width="271.40" height="10.49" fill="url(#g13)"/>
<rect x="362.50" y="100.56" width="271.40" height="10.49" fill="url(#g14)"/>
<path d="M370.26 38.30v72.70M378.02 38.30v72.70M385.78 38.30v72.70M393.54 38.30v72.70M401.30 38.30v72.70M409.06 38.30v72.70M416.82 38.30v72.70M424.58 38.30v72.70M432.34 38.30v72.70M440.10 38.30v72.70M447.86 38.30v72.70M455.62 38.30v72.70M463.38 38.30v72.70M471.14 38.30v72.70M478.90 38.30v72.70M486.66 38.30v72.70M494.42 38.30v72.70M502.18 38.30v72.70M509.94 38.30v72.70M517.70 38.30v72.70M525.46 38.30v72.70M533.22 38.30v72.70M540.98 38.30v72.70M548.74 38.30v72.70M556.50 38.30v72.70M564.26 38.30v72.70M572.02 38.30v72.70M579.78 38.30v72.70M587.54 38.30v72.70M595.30 38.30v72.70M603.06 38.30v72.70M610.82 38.30v72.70M618.58 38.30v72.70M626.34 38.30v72.70" stroke="#fff" stroke-opacity="0.085" stroke-width="0.8" fill="none"/>
<path d="M362.50 48.69h271.40M362.50 59.07h271.40M362.50 69.46h271.40M362.50 79.84h271.40M362.50 90.23h271.40M362.50 100.61h271.40" stroke="#fff" stroke-opacity="0.06" stroke-width="0.8" fill="none"/>
<line x1="606.76" y1="38.30" x2="606.76" y2="111.00" stroke="#cfcfcf" stroke-width="1.4" stroke-dasharray="8 6.8" stroke-dashoffset="9.8"/>
<rect x="362.50" y="38.30" width="271.40" height="72.70" fill="none" stroke="#000" stroke-width="1.5"/>
<line x1="356.50" y1="43.49" x2="362.50" y2="43.49" stroke="#000" stroke-width="1.5"/>
<text x="351.30" y="49.24" font-size="16" text-anchor="end">1</text>
<line x1="356.50" y1="74.65" x2="362.50" y2="74.65" stroke="#000" stroke-width="1.5"/>
<text x="351.30" y="80.40" font-size="16" text-anchor="end">4</text>
<line x1="356.50" y1="105.81" x2="362.50" y2="105.81" stroke="#000" stroke-width="1.5"/>
<text x="351.30" y="111.56" font-size="16" text-anchor="end">7</text>
<line x1="362.50" y1="111.00" x2="362.50" y2="117.70" stroke="#000" stroke-width="1.5"/>
<line x1="416.78" y1="111.00" x2="416.78" y2="117.70" stroke="#000" stroke-width="1.5"/>
<line x1="471.06" y1="111.00" x2="471.06" y2="117.70" stroke="#000" stroke-width="1.5"/>
<line x1="525.34" y1="111.00" x2="525.34" y2="117.70" stroke="#000" stroke-width="1.5"/>
<line x1="579.62" y1="111.00" x2="579.62" y2="117.70" stroke="#000" stroke-width="1.5"/>
<line x1="633.90" y1="111.00" x2="633.90" y2="117.70" stroke="#000" stroke-width="1.5"/>
<rect x="641.50" y="37.55" width="12.70" height="74.55" fill="url(#cb)" stroke="#000" stroke-width="1.2"/>
<text x="655.60" y="42.60" font-size="13.4" letter-spacing="0.65">Max</text>
<text x="656.10" y="116.80" font-size="13.2">0</text>
<rect x="42.85" y="165.60" width="271.35" height="71.60" fill="#000"/>
<rect x="42.85" y="165.55" width="271.35" height="10.33" fill="url(#g15)"/>
<rect x="42.85" y="175.78" width="271.35" height="10.33" fill="url(#g16)"/>
<rect x="42.85" y="186.01" width="271.35" height="10.33" fill="url(#g17)"/>
<rect x="42.85" y="196.24" width="271.35" height="10.33" fill="url(#g18)"/>
<rect x="42.85" y="206.46" width="271.35" height="10.33" fill="url(#g19)"/>
<rect x="42.85" y="216.69" width="271.35" height="10.33" fill="url(#g20)"/>
<rect x="42.85" y="226.92" width="271.35" height="10.33" fill="url(#g21)"/>
<path d="M50.61 165.60v71.60M58.37 165.60v71.60M66.13 165.60v71.60M73.89 165.60v71.60M81.65 165.60v71.60M89.41 165.60v71.60M97.17 165.60v71.60M104.93 165.60v71.60M112.69 165.60v71.60M120.45 165.60v71.60M128.21 165.60v71.60M135.97 165.60v71.60M143.73 165.60v71.60M151.49 165.60v71.60M159.25 165.60v71.60M167.01 165.60v71.60M174.77 165.60v71.60M182.53 165.60v71.60M190.29 165.60v71.60M198.05 165.60v71.60M205.81 165.60v71.60M213.57 165.60v71.60M221.33 165.60v71.60M229.09 165.60v71.60M236.85 165.60v71.60M244.61 165.60v71.60M252.37 165.60v71.60M260.13 165.60v71.60M267.89 165.60v71.60M275.65 165.60v71.60M283.41 165.60v71.60M291.17 165.60v71.60M298.93 165.60v71.60M306.69 165.60v71.60" stroke="#fff" stroke-opacity="0.085" stroke-width="0.8" fill="none"/>
<path d="M42.85 175.83h271.35M42.85 186.06h271.35M42.85 196.29h271.35M42.85 206.51h271.35M42.85 216.74h271.35M42.85 226.97h271.35" stroke="#fff" stroke-opacity="0.06" stroke-width="0.8" fill="none"/>
<line x1="287.06" y1="165.60" x2="287.06" y2="237.20" stroke="#cfcfcf" stroke-width="1.4" stroke-dasharray="8 6.8" stroke-dashoffset="9.8"/>
<rect x="42.85" y="165.60" width="271.35" height="71.60" fill="none" stroke="#000" stroke-width="1.5"/>
<line x1="36.85" y1="170.71" x2="42.85" y2="170.71" stroke="#000" stroke-width="1.5"/>
<text x="32.45" y="176.46" font-size="16" text-anchor="end">1</text>
<line x1="36.85" y1="201.40" x2="42.85" y2="201.40" stroke="#000" stroke-width="1.5"/>
<text x="32.45" y="207.15" font-size="16" text-anchor="end">4</text>
<line x1="36.85" y1="232.09" x2="42.85" y2="232.09" stroke="#000" stroke-width="1.5"/>
<text x="32.45" y="237.84" font-size="16" text-anchor="end">7</text>
<line x1="42.85" y1="237.20" x2="42.85" y2="243.90" stroke="#000" stroke-width="1.5"/>
<line x1="97.12" y1="237.20" x2="97.12" y2="243.90" stroke="#000" stroke-width="1.5"/>
<line x1="151.39" y1="237.20" x2="151.39" y2="243.90" stroke="#000" stroke-width="1.5"/>
<line x1="205.66" y1="237.20" x2="205.66" y2="243.90" stroke="#000" stroke-width="1.5"/>
<line x1="259.93" y1="237.20" x2="259.93" y2="243.90" stroke="#000" stroke-width="1.5"/>
<line x1="314.20" y1="237.20" x2="314.20" y2="243.90" stroke="#000" stroke-width="1.5"/>
<text transform="translate(51.85 231.00) scale(1 0.84)" font-size="13.8" font-style="italic" fill="#e6e6e6">ψ</text>
<text x="60.75" y="230.50" font-size="13.8" fill="#e6e6e6"><tspan font-size="10.3" dy="3">0</tspan><tspan dy="-3"> = 0.2 V</tspan></text>
<rect x="362.50" y="165.60" width="271.40" height="71.60" fill="#000"/>
<rect x="362.50" y="165.55" width="271.40" height="10.33" fill="url(#g22)"/>
<rect x="362.50" y="175.78" width="271.40" height="10.33" fill="url(#g23)"/>
<rect x="362.50" y="186.01" width="271.40" height="10.33" fill="url(#g24)"/>
<rect x="362.50" y="196.24" width="271.40" height="10.33" fill="url(#g25)"/>
<rect x="362.50" y="206.46" width="271.40" height="10.33" fill="url(#g26)"/>
<rect x="362.50" y="216.69" width="271.40" height="10.33" fill="url(#g27)"/>
<rect x="362.50" y="226.92" width="271.40" height="10.33" fill="url(#g28)"/>
<path d="M370.26 165.60v71.60M378.02 165.60v71.60M385.78 165.60v71.60M393.54 165.60v71.60M401.30 165.60v71.60M409.06 165.60v71.60M416.82 165.60v71.60M424.58 165.60v71.60M432.34 165.60v71.60M440.10 165.60v71.60M447.86 165.60v71.60M455.62 165.60v71.60M463.38 165.60v71.60M471.14 165.60v71.60M478.90 165.60v71.60M486.66 165.60v71.60M494.42 165.60v71.60M502.18 165.60v71.60M509.94 165.60v71.60M517.70 165.60v71.60M525.46 165.60v71.60M533.22 165.60v71.60M540.98 165.60v71.60M548.74 165.60v71.60M556.50 165.60v71.60M564.26 165.60v71.60M572.02 165.60v71.60M579.78 165.60v71.60M587.54 165.60v71.60M595.30 165.60v71.60M603.06 165.60v71.60M610.82 165.60v71.60M618.58 165.60v71.60M626.34 165.60v71.60" stroke="#fff" stroke-opacity="0.085" stroke-width="0.8" fill="none"/>
<path d="M362.50 175.83h271.40M362.50 186.06h271.40M362.50 196.29h271.40M362.50 206.51h271.40M362.50 216.74h271.40M362.50 226.97h271.40" stroke="#fff" stroke-opacity="0.06" stroke-width="0.8" fill="none"/>
<line x1="606.76" y1="165.60" x2="606.76" y2="237.20" stroke="#cfcfcf" stroke-width="1.4" stroke-dasharray="8 6.8" stroke-dashoffset="9.8"/>
<rect x="362.50" y="165.60" width="271.40" height="71.60" fill="none" stroke="#000" stroke-width="1.5"/>
<line x1="356.50" y1="170.71" x2="362.50" y2="170.71" stroke="#000" stroke-width="1.5"/>
<text x="351.30" y="176.46" font-size="16" text-anchor="end">1</text>
<line x1="356.50" y1="201.40" x2="362.50" y2="201.40" stroke="#000" stroke-width="1.5"/>
<text x="351.30" y="207.15" font-size="16" text-anchor="end">4</text>
<line x1="356.50" y1="232.09" x2="362.50" y2="232.09" stroke="#000" stroke-width="1.5"/>
<text x="351.30" y="237.84" font-size="16" text-anchor="end">7</text>
<line x1="362.50" y1="237.20" x2="362.50" y2="243.90" stroke="#000" stroke-width="1.5"/>
<line x1="416.78" y1="237.20" x2="416.78" y2="243.90" stroke="#000" stroke-width="1.5"/>
<line x1="471.06" y1="237.20" x2="471.06" y2="243.90" stroke="#000" stroke-width="1.5"/>
<line x1="525.34" y1="237.20" x2="525.34" y2="243.90" stroke="#000" stroke-width="1.5"/>
<line x1="579.62" y1="237.20" x2="579.62" y2="243.90" stroke="#000" stroke-width="1.5"/>
<line x1="633.90" y1="237.20" x2="633.90" y2="243.90" stroke="#000" stroke-width="1.5"/>
<rect x="640.50" y="164.70" width="12.80" height="72.50" fill="url(#cb)" stroke="#000" stroke-width="1.2"/>
<text x="654.80" y="169.90" font-size="13.4" letter-spacing="0.65">Max</text>
<text x="655.30" y="242.40" font-size="13.2">0</text>
<rect x="42.85" y="261.60" width="271.35" height="71.60" fill="#000"/>
<rect x="42.85" y="261.55" width="271.35" height="10.33" fill="url(#g29)"/>
<rect x="42.85" y="271.78" width="271.35" height="10.33" fill="url(#g30)"/>
<rect x="42.85" y="282.01" width="271.35" height="10.33" fill="url(#g31)"/>
<rect x="42.85" y="292.24" width="271.35" height="10.33" fill="url(#g32)"/>
<rect x="42.85" y="302.46" width="271.35" height="10.33" fill="url(#g33)"/>
<rect x="42.85" y="312.69" width="271.35" height="10.33" fill="url(#g34)"/>
<rect x="42.85" y="322.92" width="271.35" height="10.33" fill="url(#g35)"/>
<path d="M50.61 261.60v71.60M58.37 261.60v71.60M66.13 261.60v71.60M73.89 261.60v71.60M81.65 261.60v71.60M89.41 261.60v71.60M97.17 261.60v71.60M104.93 261.60v71.60M112.69 261.60v71.60M120.45 261.60v71.60M128.21 261.60v71.60M135.97 261.60v71.60M143.73 261.60v71.60M151.49 261.60v71.60M159.25 261.60v71.60M167.01 261.60v71.60M174.77 261.60v71.60M182.53 261.60v71.60M190.29 261.60v71.60M198.05 261.60v71.60M205.81 261.60v71.60M213.57 261.60v71.60M221.33 261.60v71.60M229.09 261.60v71.60M236.85 261.60v71.60M244.61 261.60v71.60M252.37 261.60v71.60M260.13 261.60v71.60M267.89 261.60v71.60M275.65 261.60v71.60M283.41 261.60v71.60M291.17 261.60v71.60M298.93 261.60v71.60M306.69 261.60v71.60" stroke="#fff" stroke-opacity="0.085" stroke-width="0.8" fill="none"/>
<path d="M42.85 271.83h271.35M42.85 282.06h271.35M42.85 292.29h271.35M42.85 302.51h271.35M42.85 312.74h271.35M42.85 322.97h271.35" stroke="#fff" stroke-opacity="0.06" stroke-width="0.8" fill="none"/>
<line x1="287.06" y1="261.60" x2="287.06" y2="333.20" stroke="#cfcfcf" stroke-width="1.4" stroke-dasharray="8 6.8" stroke-dashoffset="9.8"/>
<rect x="42.85" y="261.60" width="271.35" height="71.60" fill="none" stroke="#000" stroke-width="1.5"/>
<line x1="36.85" y1="266.71" x2="42.85" y2="266.71" stroke="#000" stroke-width="1.5"/>
<text x="32.45" y="272.46" font-size="16" text-anchor="end">1</text>
<line x1="36.85" y1="297.40" x2="42.85" y2="297.40" stroke="#000" stroke-width="1.5"/>
<text x="32.45" y="303.15" font-size="16" text-anchor="end">4</text>
<line x1="36.85" y1="328.09" x2="42.85" y2="328.09" stroke="#000" stroke-width="1.5"/>
<text x="32.45" y="333.84" font-size="16" text-anchor="end">7</text>
<line x1="42.85" y1="333.20" x2="42.85" y2="339.90" stroke="#000" stroke-width="1.5"/>
<line x1="97.12" y1="333.20" x2="97.12" y2="339.90" stroke="#000" stroke-width="1.5"/>
<line x1="151.39" y1="333.20" x2="151.39" y2="339.90" stroke="#000" stroke-width="1.5"/>
<line x1="205.66" y1="333.20" x2="205.66" y2="339.90" stroke="#000" stroke-width="1.5"/>
<line x1="259.93" y1="333.20" x2="259.93" y2="339.90" stroke="#000" stroke-width="1.5"/>
<line x1="314.20" y1="333.20" x2="314.20" y2="339.90" stroke="#000" stroke-width="1.5"/>
<text transform="translate(51.85 327.00) scale(1 0.84)" font-size="13.8" font-style="italic" fill="#e6e6e6">ψ</text>
<text x="60.75" y="326.50" font-size="13.8" fill="#e6e6e6"><tspan font-size="10.3" dy="3">0</tspan><tspan dy="-3"> = 0.5 V</tspan></text>
<rect x="362.50" y="261.60" width="271.40" height="71.60" fill="#000"/>
<rect x="362.50" y="261.55" width="271.40" height="10.33" fill="url(#g36)"/>
<rect x="362.50" y="271.78" width="271.40" height="10.33" fill="url(#g37)"/>
<rect x="362.50" y="282.01" width="271.40" height="10.33" fill="url(#g38)"/>
<rect x="362.50" y="292.24" width="271.40" height="10.33" fill="url(#g39)"/>
<rect x="362.50" y="302.46" width="271.40" height="10.33" fill="url(#g40)"/>
<rect x="362.50" y="312.69" width="271.40" height="10.33" fill="url(#g41)"/>
<rect x="362.50" y="322.92" width="271.40" height="10.33" fill="url(#g42)"/>
<path d="M370.26 261.60v71.60M378.02 261.60v71.60M385.78 261.60v71.60M393.54 261.60v71.60M401.30 261.60v71.60M409.06 261.60v71.60M416.82 261.60v71.60M424.58 261.60v71.60M432.34 261.60v71.60M440.10 261.60v71.60M447.86 261.60v71.60M455.62 261.60v71.60M463.38 261.60v71.60M471.14 261.60v71.60M478.90 261.60v71.60M486.66 261.60v71.60M494.42 261.60v71.60M502.18 261.60v71.60M509.94 261.60v71.60M517.70 261.60v71.60M525.46 261.60v71.60M533.22 261.60v71.60M540.98 261.60v71.60M548.74 261.60v71.60M556.50 261.60v71.60M564.26 261.60v71.60M572.02 261.60v71.60M579.78 261.60v71.60M587.54 261.60v71.60M595.30 261.60v71.60M603.06 261.60v71.60M610.82 261.60v71.60M618.58 261.60v71.60M626.34 261.60v71.60" stroke="#fff" stroke-opacity="0.085" stroke-width="0.8" fill="none"/>
<path d="M362.50 271.83h271.40M362.50 282.06h271.40M362.50 292.29h271.40M362.50 302.51h271.40M362.50 312.74h271.40M362.50 322.97h271.40" stroke="#fff" stroke-opacity="0.06" stroke-width="0.8" fill="none"/>
<line x1="606.76" y1="261.60" x2="606.76" y2="333.20" stroke="#cfcfcf" stroke-width="1.4" stroke-dasharray="8 6.8" stroke-dashoffset="9.8"/>
<rect x="362.50" y="261.60" width="271.40" height="71.60" fill="none" stroke="#000" stroke-width="1.5"/>
<line x1="356.50" y1="266.71" x2="362.50" y2="266.71" stroke="#000" stroke-width="1.5"/>
<text x="351.30" y="272.46" font-size="16" text-anchor="end">1</text>
<line x1="356.50" y1="297.40" x2="362.50" y2="297.40" stroke="#000" stroke-width="1.5"/>
<text x="351.30" y="303.15" font-size="16" text-anchor="end">4</text>
<line x1="356.50" y1="328.09" x2="362.50" y2="328.09" stroke="#000" stroke-width="1.5"/>
<text x="351.30" y="333.84" font-size="16" text-anchor="end">7</text>
<line x1="362.50" y1="333.20" x2="362.50" y2="339.90" stroke="#000" stroke-width="1.5"/>
<line x1="416.78" y1="333.20" x2="416.78" y2="339.90" stroke="#000" stroke-width="1.5"/>
<line x1="471.06" y1="333.20" x2="471.06" y2="339.90" stroke="#000" stroke-width="1.5"/>
<line x1="525.34" y1="333.20" x2="525.34" y2="339.90" stroke="#000" stroke-width="1.5"/>
<line x1="579.62" y1="333.20" x2="579.62" y2="339.90" stroke="#000" stroke-width="1.5"/>
<line x1="633.90" y1="333.20" x2="633.90" y2="339.90" stroke="#000" stroke-width="1.5"/>
<rect x="639.80" y="261.50" width="13.30" height="73.10" fill="url(#cb)" stroke="#000" stroke-width="1.2"/>
<text x="654.20" y="266.60" font-size="13.4" letter-spacing="0.65">Max</text>
<text x="654.70" y="339.30" font-size="13.2">0</text>
<rect x="42.85" y="357.60" width="271.35" height="71.60" fill="#000"/>
<rect x="42.85" y="357.55" width="271.35" height="10.33" fill="url(#g43)"/>
<rect x="42.85" y="367.78" width="271.35" height="10.33" fill="url(#g44)"/>
<rect x="42.85" y="378.01" width="271.35" height="10.33" fill="url(#g45)"/>
<rect x="42.85" y="388.24" width="271.35" height="10.33" fill="url(#g46)"/>
<rect x="42.85" y="398.46" width="271.35" height="10.33" fill="url(#g47)"/>
<rect x="42.85" y="408.69" width="271.35" height="10.33" fill="url(#g48)"/>
<rect x="42.85" y="418.92" width="271.35" height="10.33" fill="url(#g49)"/>
<path d="M50.61 357.60v71.60M58.37 357.60v71.60M66.13 357.60v71.60M73.89 357.60v71.60M81.65 357.60v71.60M89.41 357.60v71.60M97.17 357.60v71.60M104.93 357.60v71.60M112.69 357.60v71.60M120.45 357.60v71.60M128.21 357.60v71.60M135.97 357.60v71.60M143.73 357.60v71.60M151.49 357.60v71.60M159.25 357.60v71.60M167.01 357.60v71.60M174.77 357.60v71.60M182.53 357.60v71.60M190.29 357.60v71.60M198.05 357.60v71.60M205.81 357.60v71.60M213.57 357.60v71.60M221.33 357.60v71.60M229.09 357.60v71.60M236.85 357.60v71.60M244.61 357.60v71.60M252.37 357.60v71.60M260.13 357.60v71.60M267.89 357.60v71.60M275.65 357.60v71.60M283.41 357.60v71.60M291.17 357.60v71.60M298.93 357.60v71.60M306.69 357.60v71.60" stroke="#fff" stroke-opacity="0.085" stroke-width="0.8" fill="none"/>
<path d="M42.85 367.83h271.35M42.85 378.06h271.35M42.85 388.29h271.35M42.85 398.51h271.35M42.85 408.74h271.35M42.85 418.97h271.35" stroke="#fff" stroke-opacity="0.06" stroke-width="0.8" fill="none"/>
<line x1="287.06" y1="357.60" x2="287.06" y2="429.20" stroke="#cfcfcf" stroke-width="1.4" stroke-dasharray="8 6.8" stroke-dashoffset="9.8"/>
<rect x="42.85" y="357.60" width="271.35" height="71.60" fill="none" stroke="#000" stroke-width="1.5"/>
<line x1="36.85" y1="362.71" x2="42.85" y2="362.71" stroke="#000" stroke-width="1.5"/>
<text x="32.45" y="368.46" font-size="16" text-anchor="end">1</text>
<line x1="36.85" y1="393.40" x2="42.85" y2="393.40" stroke="#000" stroke-width="1.5"/>
<text x="32.45" y="399.15" font-size="16" text-anchor="end">4</text>
<line x1="36.85" y1="424.09" x2="42.85" y2="424.09" stroke="#000" stroke-width="1.5"/>
<text x="32.45" y="429.84" font-size="16" text-anchor="end">7</text>
<line x1="42.85" y1="429.20" x2="42.85" y2="435.90" stroke="#000" stroke-width="1.5"/>
<line x1="97.12" y1="429.20" x2="97.12" y2="435.90" stroke="#000" stroke-width="1.5"/>
<line x1="151.39" y1="429.20" x2="151.39" y2="435.90" stroke="#000" stroke-width="1.5"/>
<line x1="205.66" y1="429.20" x2="205.66" y2="435.90" stroke="#000" stroke-width="1.5"/>
<line x1="259.93" y1="429.20" x2="259.93" y2="435.90" stroke="#000" stroke-width="1.5"/>
<line x1="314.20" y1="429.20" x2="314.20" y2="435.90" stroke="#000" stroke-width="1.5"/>
<text transform="translate(51.85 423.00) scale(1 0.84)" font-size="13.8" font-style="italic" fill="#e6e6e6">ψ</text>
<text x="60.75" y="422.50" font-size="13.8" fill="#e6e6e6"><tspan font-size="10.3" dy="3">0</tspan><tspan dy="-3"> = 0.65 V</tspan></text>
<rect x="362.50" y="357.60" width="271.40" height="71.60" fill="#000"/>
<rect x="362.50" y="357.55" width="271.40" height="10.33" fill="url(#g50)"/>
<rect x="362.50" y="367.78" width="271.40" height="10.33" fill="url(#g51)"/>
<rect x="362.50" y="378.01" width="271.40" height="10.33" fill="url(#g52)"/>
<rect x="362.50" y="388.24" width="271.40" height="10.33" fill="url(#g53)"/>
<rect x="362.50" y="398.46" width="271.40" height="10.33" fill="url(#g54)"/>
<rect x="362.50" y="408.69" width="271.40" height="10.33" fill="url(#g55)"/>
<rect x="362.50" y="418.92" width="271.40" height="10.33" fill="url(#g56)"/>
<path d="M370.26 357.60v71.60M378.02 357.60v71.60M385.78 357.60v71.60M393.54 357.60v71.60M401.30 357.60v71.60M409.06 357.60v71.60M416.82 357.60v71.60M424.58 357.60v71.60M432.34 357.60v71.60M440.10 357.60v71.60M447.86 357.60v71.60M455.62 357.60v71.60M463.38 357.60v71.60M471.14 357.60v71.60M478.90 357.60v71.60M486.66 357.60v71.60M494.42 357.60v71.60M502.18 357.60v71.60M509.94 357.60v71.60M517.70 357.60v71.60M525.46 357.60v71.60M533.22 357.60v71.60M540.98 357.60v71.60M548.74 357.60v71.60M556.50 357.60v71.60M564.26 357.60v71.60M572.02 357.60v71.60M579.78 357.60v71.60M587.54 357.60v71.60M595.30 357.60v71.60M603.06 357.60v71.60M610.82 357.60v71.60M618.58 357.60v71.60M626.34 357.60v71.60" stroke="#fff" stroke-opacity="0.085" stroke-width="0.8" fill="none"/>
<path d="M362.50 367.83h271.40M362.50 378.06h271.40M362.50 388.29h271.40M362.50 398.51h271.40M362.50 408.74h271.40M362.50 418.97h271.40" stroke="#fff" stroke-opacity="0.06" stroke-width="0.8" fill="none"/>
<line x1="606.76" y1="357.60" x2="606.76" y2="429.20" stroke="#cfcfcf" stroke-width="1.4" stroke-dasharray="8 6.8" stroke-dashoffset="9.8"/>
<rect x="362.50" y="357.60" width="271.40" height="71.60" fill="none" stroke="#000" stroke-width="1.5"/>
<line x1="356.50" y1="362.71" x2="362.50" y2="362.71" stroke="#000" stroke-width="1.5"/>
<text x="351.30" y="368.46" font-size="16" text-anchor="end">1</text>
<line x1="356.50" y1="393.40" x2="362.50" y2="393.40" stroke="#000" stroke-width="1.5"/>
<text x="351.30" y="399.15" font-size="16" text-anchor="end">4</text>
<line x1="356.50" y1="424.09" x2="362.50" y2="424.09" stroke="#000" stroke-width="1.5"/>
<text x="351.30" y="429.84" font-size="16" text-anchor="end">7</text>
<line x1="362.50" y1="429.20" x2="362.50" y2="435.90" stroke="#000" stroke-width="1.5"/>
<line x1="416.78" y1="429.20" x2="416.78" y2="435.90" stroke="#000" stroke-width="1.5"/>
<line x1="471.06" y1="429.20" x2="471.06" y2="435.90" stroke="#000" stroke-width="1.5"/>
<line x1="525.34" y1="429.20" x2="525.34" y2="435.90" stroke="#000" stroke-width="1.5"/>
<line x1="579.62" y1="429.20" x2="579.62" y2="435.90" stroke="#000" stroke-width="1.5"/>
<line x1="633.90" y1="429.20" x2="633.90" y2="435.90" stroke="#000" stroke-width="1.5"/>
<rect x="639.80" y="357.50" width="13.30" height="73.10" fill="url(#cb)" stroke="#000" stroke-width="1.2"/>
<text x="654.20" y="362.60" font-size="13.4" letter-spacing="0.65">Max</text>
<text x="654.70" y="435.30" font-size="13.2">0</text>
<rect x="42.85" y="453.10" width="271.35" height="71.20" fill="#000"/>
<rect x="42.85" y="453.05" width="271.35" height="10.27" fill="url(#g57)"/>
<rect x="42.85" y="463.22" width="271.35" height="10.27" fill="url(#g58)"/>
<rect x="42.85" y="473.39" width="271.35" height="10.27" fill="url(#g59)"/>
<rect x="42.85" y="483.56" width="271.35" height="10.27" fill="url(#g60)"/>
<rect x="42.85" y="493.74" width="271.35" height="10.27" fill="url(#g61)"/>
<rect x="42.85" y="503.91" width="271.35" height="10.27" fill="url(#g62)"/>
<path d="M50.61 453.10v71.20M58.37 453.10v71.20M66.13 453.10v71.20M73.89 453.10v71.20M81.65 453.10v71.20M89.41 453.10v71.20M97.17 453.10v71.20M104.93 453.10v71.20M112.69 453.10v71.20M120.45 453.10v71.20M128.21 453.10v71.20M135.97 453.10v71.20M143.73 453.10v71.20M151.49 453.10v71.20M159.25 453.10v71.20M167.01 453.10v71.20M174.77 453.10v71.20M182.53 453.10v71.20M190.29 453.10v71.20M198.05 453.10v71.20M205.81 453.10v71.20M213.57 453.10v71.20M221.33 453.10v71.20M229.09 453.10v71.20M236.85 453.10v71.20M244.61 453.10v71.20M252.37 453.10v71.20M260.13 453.10v71.20M267.89 453.10v71.20M275.65 453.10v71.20M283.41 453.10v71.20M291.17 453.10v71.20M298.93 453.10v71.20M306.69 453.10v71.20" stroke="#fff" stroke-opacity="0.085" stroke-width="0.8" fill="none"/>
<path d="M42.85 463.27h271.35M42.85 473.44h271.35M42.85 483.61h271.35M42.85 493.79h271.35M42.85 503.96h271.35M42.85 514.13h271.35" stroke="#fff" stroke-opacity="0.06" stroke-width="0.8" fill="none"/>
<line x1="287.06" y1="453.10" x2="287.06" y2="524.30" stroke="#cfcfcf" stroke-width="1.4" stroke-dasharray="8 6.8" stroke-dashoffset="9.8"/>
<rect x="42.85" y="453.10" width="271.35" height="71.20" fill="none" stroke="#000" stroke-width="1.5"/>
<line x1="36.85" y1="458.19" x2="42.85" y2="458.19" stroke="#000" stroke-width="1.5"/>
<text x="32.45" y="463.94" font-size="16" text-anchor="end">1</text>
<line x1="36.85" y1="488.70" x2="42.85" y2="488.70" stroke="#000" stroke-width="1.5"/>
<text x="32.45" y="494.45" font-size="16" text-anchor="end">4</text>
<line x1="36.85" y1="519.21" x2="42.85" y2="519.21" stroke="#000" stroke-width="1.5"/>
<text x="32.45" y="524.96" font-size="16" text-anchor="end">7</text>
<line x1="42.85" y1="524.30" x2="42.85" y2="531.00" stroke="#000" stroke-width="1.5"/>
<line x1="97.12" y1="524.30" x2="97.12" y2="531.00" stroke="#000" stroke-width="1.5"/>
<line x1="151.39" y1="524.30" x2="151.39" y2="531.00" stroke="#000" stroke-width="1.5"/>
<line x1="205.66" y1="524.30" x2="205.66" y2="531.00" stroke="#000" stroke-width="1.5"/>
<line x1="259.93" y1="524.30" x2="259.93" y2="531.00" stroke="#000" stroke-width="1.5"/>
<line x1="314.20" y1="524.30" x2="314.20" y2="531.00" stroke="#000" stroke-width="1.5"/>
<text transform="translate(51.85 519.00) scale(1 0.84)" font-size="13.8" font-style="italic" fill="#e6e6e6">ψ</text>
<text x="60.75" y="518.50" font-size="13.8" fill="#e6e6e6"><tspan font-size="10.3" dy="3">0</tspan><tspan dy="-3"> = 1.2 V</tspan></text>
<rect x="362.50" y="453.10" width="271.40" height="71.20" fill="#000"/>
<rect x="362.50" y="453.05" width="271.40" height="10.27" fill="url(#g63)"/>
<rect x="362.50" y="463.22" width="271.40" height="10.27" fill="url(#g64)"/>
<rect x="362.50" y="473.39" width="271.40" height="10.27" fill="url(#g65)"/>
<rect x="362.50" y="483.56" width="271.40" height="10.27" fill="url(#g66)"/>
<rect x="362.50" y="493.74" width="271.40" height="10.27" fill="url(#g67)"/>
<rect x="362.50" y="503.91" width="271.40" height="10.27" fill="url(#g68)"/>
<rect x="362.50" y="514.08" width="271.40" height="10.27" fill="url(#g69)"/>
<path d="M370.26 453.10v71.20M378.02 453.10v71.20M385.78 453.10v71.20M393.54 453.10v71.20M401.30 453.10v71.20M409.06 453.10v71.20M416.82 453.10v71.20M424.58 453.10v71.20M432.34 453.10v71.20M440.10 453.10v71.20M447.86 453.10v71.20M455.62 453.10v71.20M463.38 453.10v71.20M471.14 453.10v71.20M478.90 453.10v71.20M486.66 453.10v71.20M494.42 453.10v71.20M502.18 453.10v71.20M509.94 453.10v71.20M517.70 453.10v71.20M525.46 453.10v71.20M533.22 453.10v71.20M540.98 453.10v71.20M548.74 453.10v71.20M556.50 453.10v71.20M564.26 453.10v71.20M572.02 453.10v71.20M579.78 453.10v71.20M587.54 453.10v71.20M595.30 453.10v71.20M603.06 453.10v71.20M610.82 453.10v71.20M618.58 453.10v71.20M626.34 453.10v71.20" stroke="#fff" stroke-opacity="0.085" stroke-width="0.8" fill="none"/>
<path d="M362.50 463.27h271.40M362.50 473.44h271.40M362.50 483.61h271.40M362.50 493.79h271.40M362.50 503.96h271.40M362.50 514.13h271.40" stroke="#fff" stroke-opacity="0.06" stroke-width="0.8" fill="none"/>
<line x1="606.76" y1="453.10" x2="606.76" y2="524.30" stroke="#cfcfcf" stroke-width="1.4" stroke-dasharray="8 6.8" stroke-dashoffset="9.8"/>
<rect x="362.50" y="453.10" width="271.40" height="71.20" fill="none" stroke="#000" stroke-width="1.5"/>
<line x1="356.50" y1="458.19" x2="362.50" y2="458.19" stroke="#000" stroke-width="1.5"/>
<text x="351.30" y="463.94" font-size="16" text-anchor="end">1</text>
<line x1="356.50" y1="488.70" x2="362.50" y2="488.70" stroke="#000" stroke-width="1.5"/>
<text x="351.30" y="494.45" font-size="16" text-anchor="end">4</text>
<line x1="356.50" y1="519.21" x2="362.50" y2="519.21" stroke="#000" stroke-width="1.5"/>
<text x="351.30" y="524.96" font-size="16" text-anchor="end">7</text>
<line x1="362.50" y1="524.30" x2="362.50" y2="531.00" stroke="#000" stroke-width="1.5"/>
<line x1="416.78" y1="524.30" x2="416.78" y2="531.00" stroke="#000" stroke-width="1.5"/>
<line x1="471.06" y1="524.30" x2="471.06" y2="531.00" stroke="#000" stroke-width="1.5"/>
<line x1="525.34" y1="524.30" x2="525.34" y2="531.00" stroke="#000" stroke-width="1.5"/>
<line x1="579.62" y1="524.30" x2="579.62" y2="531.00" stroke="#000" stroke-width="1.5"/>
<line x1="633.90" y1="524.30" x2="633.90" y2="531.00" stroke="#000" stroke-width="1.5"/>
<rect x="639.80" y="453.00" width="13.30" height="73.10" fill="url(#cb)" stroke="#000" stroke-width="1.2"/>
<text x="654.20" y="458.10" font-size="13.4" letter-spacing="0.65">Max</text>
<text x="654.70" y="530.80" font-size="13.2">0</text>
<rect x="42.85" y="581.10" width="271.35" height="71.60" fill="#000"/>
<rect x="42.85" y="581.05" width="271.35" height="10.33" fill="url(#g70)"/>
<rect x="42.85" y="591.28" width="271.35" height="10.33" fill="url(#g71)"/>
<rect x="42.85" y="601.51" width="271.35" height="10.33" fill="url(#g72)"/>
<rect x="42.85" y="611.74" width="271.35" height="10.33" fill="url(#g73)"/>
<rect x="42.85" y="621.96" width="271.35" height="10.33" fill="url(#g74)"/>
<path d="M50.61 581.10v71.60M58.37 581.10v71.60M66.13 581.10v71.60M73.89 581.10v71.60M81.65 581.10v71.60M89.41 581.10v71.60M97.17 581.10v71.60M104.93 581.10v71.60M112.69 581.10v71.60M120.45 581.10v71.60M128.21 581.10v71.60M135.97 581.10v71.60M143.73 581.10v71.60M151.49 581.10v71.60M159.25 581.10v71.60M167.01 581.10v71.60M174.77 581.10v71.60M182.53 581.10v71.60M190.29 581.10v71.60M198.05 581.10v71.60M205.81 581.10v71.60M213.57 581.10v71.60M221.33 581.10v71.60M229.09 581.10v71.60M236.85 581.10v71.60M244.61 581.10v71.60M252.37 581.10v71.60M260.13 581.10v71.60M267.89 581.10v71.60M275.65 581.10v71.60M283.41 581.10v71.60M291.17 581.10v71.60M298.93 581.10v71.60M306.69 581.10v71.60" stroke="#fff" stroke-opacity="0.085" stroke-width="0.8" fill="none"/>
<path d="M42.85 591.33h271.35M42.85 601.56h271.35M42.85 611.79h271.35M42.85 622.01h271.35M42.85 632.24h271.35M42.85 642.47h271.35" stroke="#fff" stroke-opacity="0.06" stroke-width="0.8" fill="none"/>
<line x1="287.06" y1="581.10" x2="287.06" y2="652.70" stroke="#cfcfcf" stroke-width="1.4" stroke-dasharray="8 6.8" stroke-dashoffset="9.8"/>
<rect x="42.85" y="581.10" width="271.35" height="71.60" fill="none" stroke="#000" stroke-width="1.5"/>
<line x1="36.85" y1="586.21" x2="42.85" y2="586.21" stroke="#000" stroke-width="1.5"/>
<text x="32.45" y="591.96" font-size="16" text-anchor="end">1</text>
<line x1="36.85" y1="616.90" x2="42.85" y2="616.90" stroke="#000" stroke-width="1.5"/>
<text x="32.45" y="622.65" font-size="16" text-anchor="end">4</text>
<line x1="36.85" y1="647.59" x2="42.85" y2="647.59" stroke="#000" stroke-width="1.5"/>
<text x="32.45" y="653.34" font-size="16" text-anchor="end">7</text>
<line x1="42.85" y1="652.70" x2="42.85" y2="659.40" stroke="#000" stroke-width="1.5"/>
<text x="43.05" y="676.6" font-size="16" text-anchor="middle">0</text>
<line x1="97.12" y1="652.70" x2="97.12" y2="659.40" stroke="#000" stroke-width="1.5"/>
<text x="97.32" y="676.6" font-size="16" text-anchor="middle">10</text>
<line x1="151.39" y1="652.70" x2="151.39" y2="659.40" stroke="#000" stroke-width="1.5"/>
<text x="151.59" y="676.6" font-size="16" text-anchor="middle">20</text>
<line x1="205.66" y1="652.70" x2="205.66" y2="659.40" stroke="#000" stroke-width="1.5"/>
<text x="205.86" y="676.6" font-size="16" text-anchor="middle">30</text>
<line x1="259.93" y1="652.70" x2="259.93" y2="659.40" stroke="#000" stroke-width="1.5"/>
<text x="260.13" y="676.6" font-size="16" text-anchor="middle">40</text>
<line x1="314.20" y1="652.70" x2="314.20" y2="659.40" stroke="#000" stroke-width="1.5"/>
<text x="314.40" y="676.6" font-size="16" text-anchor="middle">50</text>
<text transform="translate(51.85 646.50) scale(1 0.84)" font-size="13.8" font-style="italic" fill="#e6e6e6">ψ</text>
<text x="60.75" y="646.00" font-size="13.8" fill="#e6e6e6"><tspan font-size="10.3" dy="3">0</tspan><tspan dy="-3"> = 2 V</tspan></text>
<rect x="362.50" y="581.10" width="271.40" height="71.60" fill="#000"/>
<rect x="362.50" y="581.05" width="271.40" height="10.33" fill="url(#g75)"/>
<rect x="362.50" y="591.28" width="271.40" height="10.33" fill="url(#g76)"/>
<rect x="362.50" y="601.51" width="271.40" height="10.33" fill="url(#g77)"/>
<rect x="362.50" y="611.74" width="271.40" height="10.33" fill="url(#g78)"/>
<rect x="362.50" y="621.96" width="271.40" height="10.33" fill="url(#g79)"/>
<rect x="362.50" y="632.19" width="271.40" height="10.33" fill="url(#g80)"/>
<rect x="362.50" y="642.42" width="271.40" height="10.33" fill="url(#g81)"/>
<path d="M370.26 581.10v71.60M378.02 581.10v71.60M385.78 581.10v71.60M393.54 581.10v71.60M401.30 581.10v71.60M409.06 581.10v71.60M416.82 581.10v71.60M424.58 581.10v71.60M432.34 581.10v71.60M440.10 581.10v71.60M447.86 581.10v71.60M455.62 581.10v71.60M463.38 581.10v71.60M471.14 581.10v71.60M478.90 581.10v71.60M486.66 581.10v71.60M494.42 581.10v71.60M502.18 581.10v71.60M509.94 581.10v71.60M517.70 581.10v71.60M525.46 581.10v71.60M533.22 581.10v71.60M540.98 581.10v71.60M548.74 581.10v71.60M556.50 581.10v71.60M564.26 581.10v71.60M572.02 581.10v71.60M579.78 581.10v71.60M587.54 581.10v71.60M595.30 581.10v71.60M603.06 581.10v71.60M610.82 581.10v71.60M618.58 581.10v71.60M626.34 581.10v71.60" stroke="#fff" stroke-opacity="0.085" stroke-width="0.8" fill="none"/>
<path d="M362.50 591.33h271.40M362.50 601.56h271.40M362.50 611.79h271.40M362.50 622.01h271.40M362.50 632.24h271.40M362.50 642.47h271.40" stroke="#fff" stroke-opacity="0.06" stroke-width="0.8" fill="none"/>
<line x1="606.76" y1="581.10" x2="606.76" y2="652.70" stroke="#cfcfcf" stroke-width="1.4" stroke-dasharray="8 6.8" stroke-dashoffset="9.8"/>
<rect x="362.50" y="581.10" width="271.40" height="71.60" fill="none" stroke="#000" stroke-width="1.5"/>
<line x1="356.50" y1="586.21" x2="362.50" y2="586.21" stroke="#000" stroke-width="1.5"/>
<text x="351.30" y="591.96" font-size="16" text-anchor="end">1</text>
<line x1="356.50" y1="616.90" x2="362.50" y2="616.90" stroke="#000" stroke-width="1.5"/>
<text x="351.30" y="622.65" font-size="16" text-anchor="end">4</text>
<line x1="356.50" y1="647.59" x2="362.50" y2="647.59" stroke="#000" stroke-width="1.5"/>
<text x="351.30" y="653.34" font-size="16" text-anchor="end">7</text>
<line x1="362.50" y1="652.70" x2="362.50" y2="659.40" stroke="#000" stroke-width="1.5"/>
<text x="362.70" y="676.6" font-size="16" text-anchor="middle">0</text>
<line x1="416.78" y1="652.70" x2="416.78" y2="659.40" stroke="#000" stroke-width="1.5"/>
<text x="416.98" y="676.6" font-size="16" text-anchor="middle">10</text>
<line x1="471.06" y1="652.70" x2="471.06" y2="659.40" stroke="#000" stroke-width="1.5"/>
<text x="471.26" y="676.6" font-size="16" text-anchor="middle">20</text>
<line x1="525.34" y1="652.70" x2="525.34" y2="659.40" stroke="#000" stroke-width="1.5"/>
<text x="525.54" y="676.6" font-size="16" text-anchor="middle">30</text>
<line x1="579.62" y1="652.70" x2="579.62" y2="659.40" stroke="#000" stroke-width="1.5"/>
<text x="579.82" y="676.6" font-size="16" text-anchor="middle">40</text>
<line x1="633.90" y1="652.70" x2="633.90" y2="659.40" stroke="#000" stroke-width="1.5"/>
<text x="634.10" y="676.6" font-size="16" text-anchor="middle">50</text>
<rect x="639.80" y="580.45" width="13.30" height="73.65" fill="url(#cb)" stroke="#000" stroke-width="1.2"/>
<text x="654.20" y="585.60" font-size="13.4" letter-spacing="0.65">Max</text>
<text x="654.70" y="659.30" font-size="13.2">0</text>
<text x="178.8" y="699.3" font-size="17" text-anchor="middle">time (<tspan font-family="'Liberation Serif', serif">μ</tspan>s)</text>
<text x="498.7" y="699.3" font-size="17" text-anchor="middle">time (<tspan font-family="'Liberation Serif', serif">μ</tspan>s)</text>
<text transform="translate(15.7 354.8) rotate(-90)" font-size="17" text-anchor="middle">Site index</text>
<text transform="translate(335.0 354.8) rotate(-90)" font-size="17" text-anchor="middle">Site index</text>
<text x="340.5" y="765.2" font-size="17.1" text-anchor="middle" fill="#6a209e">increasing nonlinearity</text>
<line x1="75.4" y1="777.2" x2="642" y2="777.2" stroke="#6a209e" stroke-width="1.5"/>
<path d="M655.8 777.2 L636.8 771.6 L641.4 777.2 L636.8 782.8 Z" fill="#6a209e"/>
<polyline clip-path="url(#cclip)" fill="none" stroke="#0072bd" stroke-width="1.5" stroke-linejoin="round" points="80.4,917.8 82.2,917.8 84.5,917.7 87.3,917.7 90.5,917.6 93.8,917.5 97.1,917.4 100.4,917.3 103.4,917.1 106.3,916.9 109.2,916.7 112.0,916.4 114.9,916.2 117.8,915.9 120.7,915.5 123.5,915.1 126.4,914.7 129.3,914.2 132.2,913.7 135.0,913.1 137.9,912.5 140.8,911.9 143.7,911.2 146.5,910.5 149.4,909.7 152.3,909.0 155.2,908.2 158.0,907.4 160.9,906.5 163.8,905.6 166.6,904.7 169.5,903.8 172.4,902.8 175.3,901.8 178.2,900.8 181.0,899.8 183.9,898.8 186.8,897.7 189.7,896.6 192.5,895.5 195.4,894.3 198.3,893.1 201.2,891.9 204.0,890.6 206.9,889.3 209.8,888.0 212.7,886.7 215.5,885.3 218.4,884.0 221.3,882.6 224.2,881.1 227.0,879.7 229.9,878.2 232.8,876.7 235.6,875.2 238.5,873.7 241.4,872.2 244.3,870.7 247.2,869.2 250.0,867.7 252.9,866.1 255.8,864.6 258.6,863.0 261.5,861.4 264.4,859.8 267.3,858.1 270.2,856.4 273.0,854.7 275.9,852.9 278.8,851.1 281.7,849.4 284.5,847.6 287.4,845.9 290.3,844.1 293.1,842.3 296.0,840.6 298.9,838.8 301.8,837.0 304.6,835.3 307.5,833.6 310.4,832.0 313.3,830.4 316.1,828.9 319.0,827.5 321.9,826.0 324.8,824.6 327.6,823.3 330.5,821.9 333.4,820.7 336.3,819.4 339.1,818.2 342.0,817.1 344.9,815.9 347.8,814.9 350.7,813.8 353.5,812.8 356.4,811.9 359.3,811.0 362.1,810.1 365.0,809.3 367.9,808.6 370.8,807.9 373.6,807.2 376.5,806.5 379.4,805.9 382.3,805.4 385.1,804.9 388.0,804.4 390.9,804.0 393.8,803.6 396.7,803.2 399.5,802.9 402.4,802.5 405.3,802.3 408.1,802.0 411.0,801.9 413.9,801.7 416.8,801.6 419.6,801.4 422.5,801.4 425.4,801.3 428.3,801.2 431.1,801.2 434.0,801.2 436.9,801.2 439.8,801.3 442.6,801.3 445.5,801.4 448.4,801.4 451.3,801.5 454.1,801.5 457.0,801.6 459.9,801.6 462.8,801.7 465.7,801.8 468.5,801.9 471.4,802.0 474.3,802.1 477.1,802.2 480.0,802.3 482.9,802.4 485.8,802.6 488.6,802.7 491.5,802.8 494.4,803.0 497.3,803.1 500.1,803.3 503.0,803.4 505.9,803.5 508.8,803.7 511.7,803.8 514.5,804.0 517.4,804.1 520.3,804.2 523.1,804.4 526.0,804.5 528.9,804.6 531.8,804.7 534.6,804.8 537.5,804.9 540.4,805.0 543.3,805.0 546.1,805.1 549.0,805.1 551.9,805.1 554.8,805.2 557.7,805.2 560.5,805.2 563.4,805.2 566.3,805.3 569.1,805.3 572.0,805.3 574.9,805.3 577.8,805.3 580.7,805.3 583.5,805.3 586.4,805.2 589.3,805.2 592.1,805.2 595.0,805.2 597.9,805.1 600.8,805.1 603.6,805.1 606.5,805.0 609.4,805.0 612.3,804.9 615.1,804.8 618.0,804.8 620.9,804.7 623.8,804.6 626.6,804.5 629.5,804.5 632.4,804.4 635.4,804.3 638.7,804.3 642.0,804.2 645.3,804.1 648.5,804.1 651.3,804.0 653.6,804.0 655.4,804.0"/>
<clipPath id="cclip"><rect x="79.00" y="791.70" width="575.00" height="154.70"/></clipPath>
<g clip-path="url(#cclip)" fill="#e4f6ff" stroke="#0072bd" stroke-width="1.6"><circle cx="80.4" cy="917.8" r="2.5"/><circle cx="91.9" cy="917.8" r="2.5"/><circle cx="103.4" cy="917.2" r="2.5"/><circle cx="114.9" cy="916.5" r="2.5"/><circle cx="126.4" cy="915.5" r="2.5"/><circle cx="137.9" cy="914.3" r="2.5"/><circle cx="149.4" cy="913.1" r="2.5"/><circle cx="160.9" cy="911.7" r="2.5"/><circle cx="172.4" cy="910.3" r="2.5"/><circle cx="183.9" cy="908.5" r="2.5"/><circle cx="195.4" cy="906.8" r="2.5"/><circle cx="206.9" cy="904.2" r="2.5"/><circle cx="218.4" cy="902.1" r="2.5"/><circle cx="229.9" cy="899.4" r="2.5"/><circle cx="241.4" cy="896.6" r="2.5"/><circle cx="252.9" cy="894.2" r="2.5"/><circle cx="264.4" cy="890.8" r="2.5"/><circle cx="275.9" cy="887.2" r="2.5"/><circle cx="287.4" cy="883.4" r="2.5"/><circle cx="298.9" cy="879.9" r="2.5"/><circle cx="310.4" cy="875.5" r="2.5"/><circle cx="321.9" cy="871.1" r="2.5"/><circle cx="333.4" cy="866.6" r="2.5"/><circle cx="344.9" cy="862.4" r="2.5"/><circle cx="356.4" cy="857.1" r="2.5"/><circle cx="367.9" cy="852.4" r="2.5"/><circle cx="379.4" cy="847.4" r="2.5"/><circle cx="390.9" cy="843.0" r="2.5"/><circle cx="402.4" cy="838.1" r="2.5"/><circle cx="413.9" cy="833.6" r="2.5"/><circle cx="425.4" cy="829.7" r="2.5"/><circle cx="436.9" cy="825.3" r="2.5"/><circle cx="448.4" cy="822.1" r="2.5"/><circle cx="459.9" cy="818.8" r="2.5"/><circle cx="471.4" cy="815.7" r="2.5"/><circle cx="482.9" cy="813.6" r="2.5"/><circle cx="494.4" cy="811.9" r="2.5"/><circle cx="505.9" cy="809.8" r="2.5"/><circle cx="517.4" cy="808.4" r="2.5"/><circle cx="528.9" cy="806.9" r="2.5"/><circle cx="540.4" cy="805.7" r="2.5"/><circle cx="551.9" cy="804.5" r="2.5"/><circle cx="563.4" cy="803.7" r="2.5"/><circle cx="574.9" cy="802.5" r="2.5"/><circle cx="586.4" cy="801.7" r="2.5"/><circle cx="597.9" cy="800.4" r="2.5"/><circle cx="609.4" cy="799.6" r="2.5"/><circle cx="620.9" cy="798.9" r="2.5"/><circle cx="632.4" cy="798.6" r="2.5"/><circle cx="643.9" cy="798.3" r="2.5"/><circle cx="655.4" cy="798.2" r="2.5"/></g>
<rect x="79.00" y="791.70" width="575.00" height="154.70" fill="none" stroke="#000" stroke-width="1.6"/>
<line x1="79.00" y1="939.90" x2="85.00" y2="939.90" stroke="#000" stroke-width="1.5"/>
<text x="72.9" y="945.70" font-size="16" text-anchor="end">0</text>
<line x1="79.00" y1="869.10" x2="85.00" y2="869.10" stroke="#000" stroke-width="1.5"/>
<text x="72.9" y="874.90" font-size="16" text-anchor="end">0.5</text>
<line x1="79.00" y1="798.30" x2="85.00" y2="798.30" stroke="#000" stroke-width="1.5"/>
<text x="72.9" y="804.10" font-size="16" text-anchor="end">1</text>
<line x1="79.00" y1="946.40" x2="79.00" y2="940.90" stroke="#000" stroke-width="1.5"/>
<text x="79.30" y="966.9" font-size="16" text-anchor="middle">0</text>
<line x1="194.10" y1="946.40" x2="194.10" y2="940.90" stroke="#000" stroke-width="1.5"/>
<text x="194.40" y="966.9" font-size="16" text-anchor="middle">0.5</text>
<line x1="309.20" y1="946.40" x2="309.20" y2="940.90" stroke="#000" stroke-width="1.5"/>
<text x="309.50" y="966.9" font-size="16" text-anchor="middle">1</text>
<line x1="424.30" y1="946.40" x2="424.30" y2="940.90" stroke="#000" stroke-width="1.5"/>
<text x="424.60" y="966.9" font-size="16" text-anchor="middle">1.5</text>
<line x1="539.40" y1="946.40" x2="539.40" y2="940.90" stroke="#000" stroke-width="1.5"/>
<text x="539.70" y="966.9" font-size="16" text-anchor="middle">2</text>
<line x1="654.50" y1="946.40" x2="654.50" y2="940.90" stroke="#000" stroke-width="1.5"/>
<text x="654.80" y="966.9" font-size="16" text-anchor="middle">2.5</text>
<text x="367.1" y="983.4" font-size="16.2" text-anchor="middle"><tspan font-style="italic">ψ</tspan><tspan font-size="12" dy="3.5">0</tspan><tspan dy="-3.5"> (V)</tspan></text>
<text transform="translate(40.3 868.5) rotate(-90)" font-size="17" text-anchor="middle">State localization</text>
</g>
</svg>
</body>
</html>
